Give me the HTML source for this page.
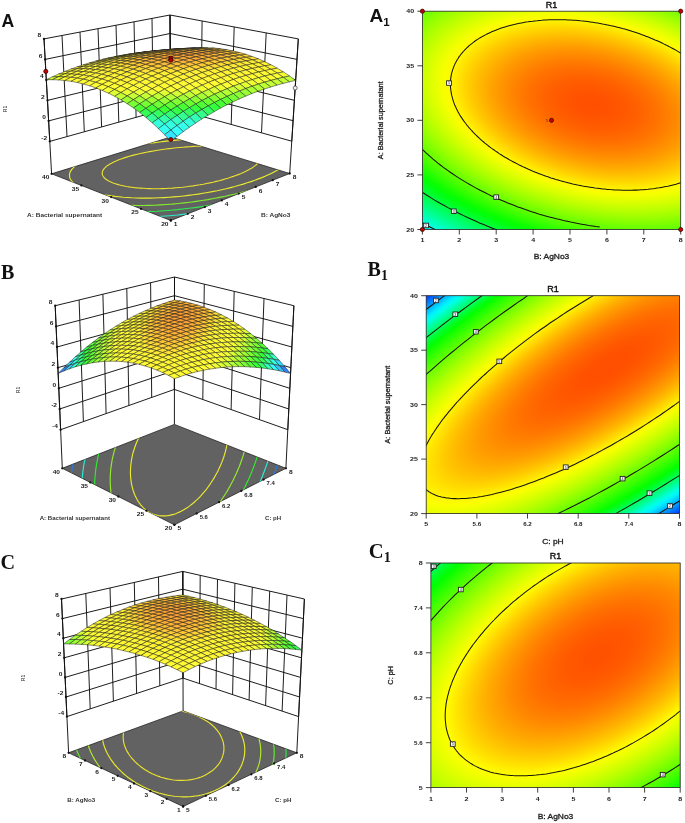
<!DOCTYPE html>
<html><head><meta charset="utf-8"><title>Response surface plots</title>
<style>html,body{margin:0;padding:0;background:#fff}svg{display:block}</style></head>
<body>
<svg width="685" height="823" viewBox="0 0 685 823">
<defs>
<radialGradient id="g1" gradientUnits="userSpaceOnUse" cx="0" cy="0" r="2.0713" gradientTransform="matrix(-150.7584 -33.0470 -18.6184 84.9363 592.58 104.96)"><stop offset="0.0000" stop-color="#ff5000"/><stop offset="0.0208" stop-color="#ff5000"/><stop offset="0.0417" stop-color="#ff5200"/><stop offset="0.0625" stop-color="#ff5300"/><stop offset="0.0833" stop-color="#ff5600"/><stop offset="0.1042" stop-color="#ff5900"/><stop offset="0.1250" stop-color="#ff5d00"/><stop offset="0.1458" stop-color="#ff6100"/><stop offset="0.1667" stop-color="#ff6700"/><stop offset="0.1875" stop-color="#ff6d00"/><stop offset="0.2083" stop-color="#ff7300"/><stop offset="0.2292" stop-color="#ff7b00"/><stop offset="0.2500" stop-color="#ff8300"/><stop offset="0.2708" stop-color="#ff8c00"/><stop offset="0.2917" stop-color="#ff9500"/><stop offset="0.3125" stop-color="#ff9f00"/><stop offset="0.3333" stop-color="#ffaa00"/><stop offset="0.3542" stop-color="#ffb600"/><stop offset="0.3750" stop-color="#ffc200"/><stop offset="0.3958" stop-color="#ffcf00"/><stop offset="0.4167" stop-color="#ffdd00"/><stop offset="0.4375" stop-color="#ffeb00"/><stop offset="0.4583" stop-color="#fffa00"/><stop offset="0.4792" stop-color="#f5ff00"/><stop offset="0.5000" stop-color="#e7ff00"/><stop offset="0.5208" stop-color="#d8ff00"/><stop offset="0.5417" stop-color="#c8ff00"/><stop offset="0.5625" stop-color="#b8ff00"/><stop offset="0.5833" stop-color="#a7ff00"/><stop offset="0.6042" stop-color="#96ff00"/><stop offset="0.6250" stop-color="#84ff00"/><stop offset="0.6458" stop-color="#71ff00"/><stop offset="0.6667" stop-color="#5eff00"/><stop offset="0.6875" stop-color="#4aff00"/><stop offset="0.7083" stop-color="#35ff00"/><stop offset="0.7292" stop-color="#20ff00"/><stop offset="0.7500" stop-color="#0aff00"/><stop offset="0.7708" stop-color="#00ff0c"/><stop offset="0.7917" stop-color="#00ff23"/><stop offset="0.8125" stop-color="#00ff3b"/><stop offset="0.8333" stop-color="#00ff53"/><stop offset="0.8542" stop-color="#00ff6c"/><stop offset="0.8750" stop-color="#00ff85"/><stop offset="0.8958" stop-color="#00ff9f"/><stop offset="0.9167" stop-color="#00ffba"/><stop offset="0.9375" stop-color="#00ffd5"/><stop offset="0.9583" stop-color="#00fff1"/><stop offset="0.9792" stop-color="#00edff"/><stop offset="1.0000" stop-color="#00c9ff"/></radialGradient>
<clipPath id="c1"><rect x="422.4" y="11.2" width="258.3" height="218.3"/></clipPath>
<radialGradient id="g2" gradientUnits="userSpaceOnUse" cx="0" cy="0" r="2.1250" gradientTransform="matrix(-208.9764 133.0150 41.7656 65.6169 607.12 367.69)"><stop offset="0.0000" stop-color="#ff4f00"/><stop offset="0.0208" stop-color="#ff4f00"/><stop offset="0.0417" stop-color="#ff5000"/><stop offset="0.0625" stop-color="#ff5200"/><stop offset="0.0833" stop-color="#ff5500"/><stop offset="0.1042" stop-color="#ff5900"/><stop offset="0.1250" stop-color="#ff5e00"/><stop offset="0.1458" stop-color="#ff6300"/><stop offset="0.1667" stop-color="#ff6900"/><stop offset="0.1875" stop-color="#ff7000"/><stop offset="0.2083" stop-color="#ff7800"/><stop offset="0.2292" stop-color="#ff8100"/><stop offset="0.2500" stop-color="#ff8b00"/><stop offset="0.2708" stop-color="#ff9500"/><stop offset="0.2917" stop-color="#ffa000"/><stop offset="0.3125" stop-color="#ffac00"/><stop offset="0.3333" stop-color="#ffb900"/><stop offset="0.3542" stop-color="#ffc700"/><stop offset="0.3750" stop-color="#ffd600"/><stop offset="0.3958" stop-color="#ffe500"/><stop offset="0.4167" stop-color="#fff500"/><stop offset="0.4375" stop-color="#faff00"/><stop offset="0.4583" stop-color="#ecff00"/><stop offset="0.4792" stop-color="#deff00"/><stop offset="0.5000" stop-color="#cfff00"/><stop offset="0.5208" stop-color="#c0ff00"/><stop offset="0.5417" stop-color="#b0ff00"/><stop offset="0.5625" stop-color="#a0ff00"/><stop offset="0.5833" stop-color="#8eff00"/><stop offset="0.6042" stop-color="#7dff00"/><stop offset="0.6250" stop-color="#6aff00"/><stop offset="0.6458" stop-color="#57ff00"/><stop offset="0.6667" stop-color="#43ff00"/><stop offset="0.6875" stop-color="#2fff00"/><stop offset="0.7083" stop-color="#1aff00"/><stop offset="0.7292" stop-color="#05ff00"/><stop offset="0.7500" stop-color="#00ff1e"/><stop offset="0.7708" stop-color="#00ff44"/><stop offset="0.7917" stop-color="#00ff6b"/><stop offset="0.8125" stop-color="#00ff94"/><stop offset="0.8333" stop-color="#00ffbe"/><stop offset="0.8542" stop-color="#00ffe8"/><stop offset="0.8750" stop-color="#00efff"/><stop offset="0.8958" stop-color="#00cbff"/><stop offset="0.9167" stop-color="#00a7ff"/><stop offset="0.9375" stop-color="#0082ff"/><stop offset="0.9583" stop-color="#005cff"/><stop offset="0.9792" stop-color="#0035ff"/><stop offset="1.0000" stop-color="#000eff"/></radialGradient>
<clipPath id="c2"><rect x="426.2" y="295.7" width="253.3" height="217.9"/></clipPath>
<radialGradient id="g3" gradientUnits="userSpaceOnUse" cx="0" cy="0" r="1.7951" gradientTransform="matrix(-154.3035 97.5132 53.0249 83.9058 598.73 654.76)"><stop offset="0.0000" stop-color="#ff5100"/><stop offset="0.0208" stop-color="#ff5200"/><stop offset="0.0417" stop-color="#ff5200"/><stop offset="0.0625" stop-color="#ff5400"/><stop offset="0.0833" stop-color="#ff5600"/><stop offset="0.1042" stop-color="#ff5800"/><stop offset="0.1250" stop-color="#ff5b00"/><stop offset="0.1458" stop-color="#ff5f00"/><stop offset="0.1667" stop-color="#ff6300"/><stop offset="0.1875" stop-color="#ff6800"/><stop offset="0.2083" stop-color="#ff6d00"/><stop offset="0.2292" stop-color="#ff7200"/><stop offset="0.2500" stop-color="#ff7900"/><stop offset="0.2708" stop-color="#ff8000"/><stop offset="0.2917" stop-color="#ff8700"/><stop offset="0.3125" stop-color="#ff8f00"/><stop offset="0.3333" stop-color="#ff9800"/><stop offset="0.3542" stop-color="#ffa100"/><stop offset="0.3750" stop-color="#ffaa00"/><stop offset="0.3958" stop-color="#ffb400"/><stop offset="0.4167" stop-color="#ffbf00"/><stop offset="0.4375" stop-color="#ffca00"/><stop offset="0.4583" stop-color="#ffd600"/><stop offset="0.4792" stop-color="#ffe200"/><stop offset="0.5000" stop-color="#ffef00"/><stop offset="0.5208" stop-color="#fffd00"/><stop offset="0.5417" stop-color="#f5ff00"/><stop offset="0.5625" stop-color="#eaff00"/><stop offset="0.5833" stop-color="#ddff00"/><stop offset="0.6042" stop-color="#d1ff00"/><stop offset="0.6250" stop-color="#c4ff00"/><stop offset="0.6458" stop-color="#b6ff00"/><stop offset="0.6667" stop-color="#a8ff00"/><stop offset="0.6875" stop-color="#99ff00"/><stop offset="0.7083" stop-color="#8aff00"/><stop offset="0.7292" stop-color="#7bff00"/><stop offset="0.7500" stop-color="#6bff00"/><stop offset="0.7708" stop-color="#5bff00"/><stop offset="0.7917" stop-color="#4aff00"/><stop offset="0.8125" stop-color="#39ff00"/><stop offset="0.8333" stop-color="#27ff00"/><stop offset="0.8542" stop-color="#15ff00"/><stop offset="0.8750" stop-color="#03ff00"/><stop offset="0.8958" stop-color="#00ff15"/><stop offset="0.9167" stop-color="#00ff2f"/><stop offset="0.9375" stop-color="#00ff4a"/><stop offset="0.9583" stop-color="#00ff65"/><stop offset="0.9792" stop-color="#00ff80"/><stop offset="1.0000" stop-color="#00ff9d"/></radialGradient>
<clipPath id="c3"><rect x="430.9" y="563" width="249.3" height="224.6"/></clipPath>
<clipPath id="f1"><polygon points="51.6 173.8 170.8 220.5 289.7 173.5 170.8 137"/></clipPath>
<clipPath id="f2"><polygon points="62.3 468.3 174.4 524.8 285.9 468.3 174.4 424.4"/></clipPath>
<clipPath id="f3"><polygon points="68.6 752.8 183.1 806.5 296.8 752.8 183.1 710.9"/></clipPath>
</defs>
<rect width="685" height="823" fill="#fff"/>
<rect x="422.4" y="11.2" width="258.3" height="218.3" fill="url(#g1)"/>
<g clip-path="url(#c1)" fill="none" stroke="#15150c" stroke-width="1.05">
<path d="M396.2 207.2L400.2 209.8L404.2 212.3L408.3 214.8L412.4 217.2L416.6 219.7L420.9 222.1L425.2 224.4L429.5 226.7L433.9 229L438.4 231.3L442.9 233.5L447.4 235.6L452 237.7L456.6 239.8L461.3 241.9L466 243.9L470.8 245.8L475.5 247.8L480.4 249.6L485.2 251.5L490.1 253.2L495 255L500 256.7L504.9 258.3"/>
<path d="M395.1 172.1L398.1 174.5L401 176.9L404.1 179.3L407.2 181.6L410.3 184L413.5 186.3L416.8 188.5L420.1 190.8L423.4 193L426.9 195.2L430.3 197.4L433.8 199.6L437.4 201.7L441 203.8L444.7 205.8L448.4 207.9L452.1 209.8L455.9 211.8L459.8 213.7L463.6 215.6L467.5 217.5L471.5 219.3L475.5 221.1L479.5 222.9L483.6 224.6L487.6 226.3L491.8 228L495.9 229.6L500.1 231.2L504.3 232.7L508.5 234.2L512.8 235.7L517.1 237.1L521.4 238.5L525.7 239.8L530.1 241.1L534.5 242.3L538.8 243.6L543.3 244.7L547.7 245.9L552.1 246.9L556.6 248L561 249L565.5 249.9L570 250.9L574.4 251.7L578.9 252.6L583.4 253.3L587.9 254.1L592.4 254.7L596.9 255.4L601.4 256L605.9 256.5L610.4 257L614.9 257.5L619.3 257.9L623.8 258.3L628.3 258.6L632.7 258.9L637.1 259.1L641.6 259.3L646 259.4L650.4 259.5M659.1 259.5L663.4 259.4L667.7 259.3L672 259.2L676.3 259L680.5 258.7L684.7 258.4L688.9 258.1L693.1 257.7L697.2 257.3L701.3 256.8L705.3 256.3L709.4 255.7M709.7 -11.2L705.7 -13L701.6 -14.7L697.5 -16.4L693.4 -18.1"/>
<path d="M392.6 108.7L393.6 110.9L394.7 113.1L395.8 115.3L397 117.4L398.3 119.6L399.6 121.8L401 123.9L402.5 126.1L404 128.2L405.5 130.4L407.1 132.5L408.8 134.6L410.6 136.7L412.3 138.8L414.2 140.9L416.1 143L418 145.1L420 147.1L422.1 149.2L424.2 151.2L426.3 153.2L428.6 155.2L430.8 157.2L433.1 159.2L435.5 161.1L437.9 163.1L440.3 165L442.8 166.9L445.4 168.8L448 170.6L450.6 172.5L453.3 174.3L456 176.1L458.7 177.9L461.5 179.6L464.4 181.4L467.3 183.1L470.2 184.8L473.1 186.4L476.1 188.1L479.2 189.7L482.2 191.3L485.3 192.8L488.4 194.4L491.6 195.9L494.8 197.3L498 198.8L501.3 200.2L504.5 201.6L507.8 203L511.2 204.3L514.5 205.6L517.9 206.9L521.3 208.1L524.7 209.3L528.2 210.5L531.6 211.7L535.1 212.8L538.6 213.9L542.1 214.9L545.6 215.9L549.2 216.9L552.7 217.8L556.3 218.8L559.9 219.6L563.5 220.5L567.1 221.3L570.7 222.1L574.3 222.8L577.9 223.5L581.6 224.2L585.2 224.8L588.8 225.4L592.4 225.9L596.1 226.5L599.7 226.9M709 21.9L706 20.2L703 18.7L699.9 17.1L696.7 15.6L693.6 14.1L690.4 12.6L687.2 11.1L683.9 9.7L680.6 8.3L677.3 6.9L674 5.6L670.7 4.3L667.3 3L663.9 1.8L660.5 0.6L657 -0.6L653.6 -1.7L650.1 -2.9L646.6 -3.9L643.1 -5L639.5 -6L636 -7L632.4 -7.9L628.9 -8.8L625.3 -9.7L621.7 -10.6L618.1 -11.4L614.5 -12.1L610.9 -12.9L607.2 -13.6L603.6 -14.2L600 -14.9L596.4 -15.5L592.7 -16L589.1 -16.5L585.5 -17L581.8 -17.5L578.2 -17.9L574.6 -18.2L571 -18.6M514.8 -18.7L511.4 -18.4L508.1 -18.1L504.8 -17.7L501.5 -17.3L498.3 -16.8L495 -16.3L491.8 -15.8L488.7 -15.2L485.6 -14.6L482.5 -13.9L479.4 -13.2L476.4 -12.5L473.4 -11.8L470.4 -11L467.5 -10.2L464.6 -9.3L461.8 -8.4L459 -7.5L456.2 -6.5L453.5 -5.5L450.8 -4.5L448.2 -3.4L445.6 -2.3L443 -1.2L440.5 0L438.1 1.2L435.7 2.4L433.3 3.6L431 4.9L428.7 6.2L426.5 7.6L424.4 9L422.2 10.4L420.2 11.8L418.2 13.3L416.2 14.8L414.3 16.3L412.5 17.8L410.7 19.4L409 21L407.3 22.6L405.7 24.3L404.1 26L402.6 27.7L401.1 29.4L399.7 31.1L398.4 32.9L397.1 34.7L395.9 36.5L394.8 38.3L393.7 40.2L392.6 42.1"/>
<path d="M451.5 74L451.2 75.4L451 76.8L450.8 78.2L450.6 79.6L450.5 81.1L450.5 82.5L450.4 83.9L450.4 85.4L450.5 86.8L450.6 88.3L450.8 89.8L451 91.2L451.2 92.7L451.5 94.2L451.8 95.7L452.2 97.1L452.6 98.6L453 100.1L453.5 101.6L454 103.1L454.6 104.6L455.2 106.1L455.9 107.5L456.6 109L457.4 110.5L458.1 112L459 113.5L459.8 115L460.7 116.4L461.7 117.9L462.7 119.4L463.7 120.9L464.8 122.3L465.9 123.8L467 125.2L468.2 126.7L469.4 128.1L470.7 129.5L472 130.9L473.3 132.4L474.7 133.8L476.1 135.2L477.5 136.5L479 137.9L480.5 139.3L482 140.7L483.6 142L485.2 143.3L486.9 144.7L488.5 146L490.3 147.3L492 148.6L493.8 149.8L495.6 151.1L497.4 152.3L499.2 153.6L501.1 154.8L503 156L505 157.2L507 158.3L508.9 159.5L511 160.6L513 161.7L515.1 162.8L517.2 163.9L519.3 165L521.4 166L523.6 167.1L525.8 168.1L528 169.1L530.2 170L532.4 171L534.7 171.9L536.9 172.8L539.2 173.7L541.5 174.6L543.9 175.4L546.2 176.3L548.6 177.1L550.9 177.9L553.3 178.6L555.7 179.4L558.1 180.1L560.5 180.8L562.9 181.4L565.4 182.1L567.8 182.7L570.2 183.3L572.7 183.9L575.2 184.4L577.6 185L580.1 185.5L582.6 186L585 186.4L587.5 186.8L590 187.2L592.5 187.6L595 188L597.4 188.3L599.9 188.6L602.4 188.9L604.9 189.1L607.3 189.4L609.8 189.6L612.3 189.7L614.7 189.9L617.2 190L619.6 190.1L622 190.2L624.5 190.2L626.9 190.2L629.3 190.2L631.7 190.2L634.1 190.1L636.4 190.1L638.8 190L641.1 189.8L643.4 189.7L645.7 189.5L648 189.3L650.3 189L652.6 188.8L654.8 188.5L657 188.1L659.2 187.8L661.4 187.4L663.6 187L665.7 186.6L667.8 186.2L669.9 185.7L672 185.2L674 184.7L676.1 184.2L678.1 183.6L680 183L682 182.4L683.9 181.8L685.8 181.1L687.6 180.4L689.5 179.7L691.3 179L693 178.3L694.8 177.5L696.5 176.7L698.2 175.9L699.8 175L701.4 174.2L703 173.3L704.5 172.4L706.1 171.5L707.5 170.5L709 169.6L710.4 168.6M710.5 76.1L709.1 74.8L707.7 73.4L706.2 72L704.7 70.6L703.1 69.3L701.5 67.9L699.9 66.6L698.3 65.3L696.6 63.9L694.9 62.6L693.2 61.4L691.4 60.1L689.6 58.8L687.8 57.6L685.9 56.4L684 55.1L682.1 53.9L680.2 52.8L678.2 51.6L676.2 50.4L674.2 49.3L672.2 48.2L670.1 47.1L668 46L665.9 44.9L663.7 43.9L661.6 42.8L659.4 41.8L657.2 40.8L655 39.9L652.8 38.9L650.5 38L648.2 37.1L645.9 36.2L643.6 35.3L641.3 34.5L639 33.6L636.6 32.8L634.2 32L631.9 31.3L629.5 30.5L627.1 29.8L624.7 29.1L622.2 28.5L619.8 27.8L617.4 27.2L614.9 26.6L612.5 26L610 25.5L607.5 24.9L605.1 24.4L602.6 24L600.1 23.5L597.6 23.1L595.2 22.7L592.7 22.3L590.2 21.9L587.7 21.6L585.2 21.3L582.8 21L580.3 20.8L577.8 20.5L575.4 20.3L572.9 20.2L570.4 20L568 19.9L565.6 19.8L563.1 19.7L560.7 19.7L558.3 19.7L555.9 19.7L553.5 19.7L551.1 19.8L548.8 19.8L546.4 20L544.1 20.1L541.7 20.3L539.4 20.4L537.1 20.7L534.9 20.9L532.6 21.2L530.4 21.4L528.1 21.8L525.9 22.1L523.8 22.5L521.6 22.9L519.5 23.3L517.3 23.7L515.2 24.2L513.2 24.7L511.1 25.2L509.1 25.7L507.1 26.3L505.1 26.9L503.2 27.5L501.3 28.1L499.4 28.8L497.5 29.5L495.7 30.2L493.9 30.9L492.1 31.6L490.4 32.4L488.7 33.2L487 34L485.4 34.9L483.8 35.7L482.2 36.6L480.6 37.5L479.1 38.4L477.6 39.4L476.2 40.3L474.8 41.3L473.4 42.3L472.1 43.3L470.8 44.4L469.5 45.4L468.3 46.5L467.1 47.6L466 48.7L464.9 49.8L463.8 51L462.8 52.1L461.8 53.3L460.8 54.5L459.9 55.7L459 56.9L458.2 58.2L457.4 59.4L456.7 60.7L456 62L455.3 63.3L454.7 64.6L454.1 65.9L453.6 67.2L453.1 68.6L452.6 69.9L452.2 71.3L451.8 72.6L451.5 74"/>
</g>
<rect x="422.4" y="11.2" width="258.3" height="218.3" fill="none" stroke="#222" stroke-width="0.8"/>
<path d="M422.4 229.5v5M459.3 229.5v5M496.2 229.5v5M533.1 229.5v5M570 229.5v5M606.9 229.5v5M643.8 229.5v5M680.7 229.5v5M422.4 229.5h-5M422.4 174.9h-5M422.4 120.3h-5M422.4 65.8h-5M422.4 11.2h-5" stroke="#111" stroke-width="0.8" fill="none"/>
<g font-family="Liberation Sans, sans-serif">
<text transform="translate(422.4 242.2) scale(1.200 1)" text-anchor="middle" font-size="5.9" font-weight="bold" fill="#222">1</text>
<text transform="translate(459.3 242.2) scale(1.200 1)" text-anchor="middle" font-size="5.9" font-weight="bold" fill="#222">2</text>
<text transform="translate(496.2 242.2) scale(1.200 1)" text-anchor="middle" font-size="5.9" font-weight="bold" fill="#222">3</text>
<text transform="translate(533.1 242.2) scale(1.200 1)" text-anchor="middle" font-size="5.9" font-weight="bold" fill="#222">4</text>
<text transform="translate(570 242.2) scale(1.200 1)" text-anchor="middle" font-size="5.9" font-weight="bold" fill="#222">5</text>
<text transform="translate(606.9 242.2) scale(1.200 1)" text-anchor="middle" font-size="5.9" font-weight="bold" fill="#222">6</text>
<text transform="translate(643.8 242.2) scale(1.200 1)" text-anchor="middle" font-size="5.9" font-weight="bold" fill="#222">7</text>
<text transform="translate(680.7 242.2) scale(1.200 1)" text-anchor="middle" font-size="5.9" font-weight="bold" fill="#222">8</text>
<text transform="translate(414.1 231.6) scale(1.200 1)" text-anchor="end" font-size="5.9" font-weight="bold" fill="#222">20</text>
<text transform="translate(414.1 177) scale(1.200 1)" text-anchor="end" font-size="5.9" font-weight="bold" fill="#222">25</text>
<text transform="translate(414.1 122.4) scale(1.200 1)" text-anchor="end" font-size="5.9" font-weight="bold" fill="#222">30</text>
<text transform="translate(414.1 67.9) scale(1.200 1)" text-anchor="end" font-size="5.9" font-weight="bold" fill="#222">35</text>
<text transform="translate(414.1 13.3) scale(1.200 1)" text-anchor="end" font-size="5.9" font-weight="bold" fill="#222">40</text>
<text transform="translate(551.5 7.7) scale(1.050 1)" text-anchor="middle" font-size="8.6" fill="#111" stroke="#111" stroke-width="0.4">R1</text>
<text transform="translate(551.5 259.2) scale(1.140 1)" text-anchor="middle" font-size="7.4" fill="#222" stroke="#222" stroke-width="0.3">B: AgNo3</text>
<text transform="translate(383.2 120.3) rotate(-90) scale(1.000 1)" text-anchor="middle" font-size="7.3" fill="#222" stroke="#222" stroke-width="0.3">A: Bacterial supernatant</text>
</g>
<rect x="423.7" y="223.2" width="4.8" height="4.5" fill="#fff" stroke="#222" stroke-width="0.9"/>
<text x="426.1" y="226.8" text-anchor="middle" font-family="Liberation Sans, sans-serif" font-size="3.7" fill="#223">2</text>
<rect x="451.4" y="209" width="4.8" height="4.5" fill="#fff" stroke="#222" stroke-width="0.9"/>
<text x="453.8" y="212.6" text-anchor="middle" font-family="Liberation Sans, sans-serif" font-size="3.7" fill="#223">3</text>
<rect x="493.8" y="194.9" width="4.8" height="4.5" fill="#fff" stroke="#222" stroke-width="0.9"/>
<text x="496.2" y="198.5" text-anchor="middle" font-family="Liberation Sans, sans-serif" font-size="3.7" fill="#223">4</text>
<rect x="446.6" y="80.8" width="4.8" height="4.5" fill="#fff" stroke="#222" stroke-width="0.9"/>
<text x="449" y="84.4" text-anchor="middle" font-family="Liberation Sans, sans-serif" font-size="3.7" fill="#223">5</text>
<text x="547.9" y="121.5" text-anchor="end" font-family="Liberation Sans, sans-serif" font-size="3.4" fill="#222">5</text>
<circle cx="422.4" cy="11.2" r="2.1" fill="#c40000" stroke="#300" stroke-width="0.7"/>
<circle cx="680.7" cy="11.2" r="2.1" fill="#c40000" stroke="#300" stroke-width="0.7"/>
<circle cx="422.4" cy="229.5" r="2.1" fill="#c40000" stroke="#300" stroke-width="0.7"/>
<circle cx="680.7" cy="229.5" r="2.1" fill="#c40000" stroke="#300" stroke-width="0.7"/>
<circle cx="551.5" cy="120.3" r="2.1" fill="#c40000" stroke="#300" stroke-width="0.7"/>
<rect x="426.2" y="295.7" width="253.3" height="217.9" fill="url(#g2)"/>
<g clip-path="url(#c2)" fill="none" stroke="#15150c" stroke-width="1.05">
<path d="M609.3 542.3L616.5 538.2L623.8 534.1L631 530L638.2 525.8L645.4 521.6L652.6 517.3L659.8 513L666.9 508.6L674.1 504.2L681.2 499.8L688.3 495.3L695.4 490.7L702.5 486.2L709.5 481.6M483.9 267.8L477 272.6L470.2 277.3L463.4 282.1L456.6 287L449.9 291.8L443.2 296.7L436.6 301.6L430 306.5L423.5 311.4L417.1 316.3L410.7 321.3L404.3 326.3L398.1 331.3"/>
<path d="M559.5 543.3L565.7 540.3L571.8 537.2L578 534L584.2 530.8L590.4 527.5L596.6 524.2L602.8 520.8L609 517.4L615.2 513.9L621.4 510.4L627.6 506.9L633.8 503.3L640 499.7L646.1 496L652.3 492.3L658.4 488.6L664.6 484.8L670.7 480.9L676.8 477.1L682.8 473.2L688.9 469.3L694.9 465.3L700.9 461.4L706.9 457.3M525.4 266.1L519.3 270L513.3 274L507.4 278L501.4 282.1L495.5 286.1L489.7 290.2L483.8 294.3L478 298.5L472.3 302.6L466.6 306.8L460.9 311L455.3 315.2L449.7 319.4L444.1 323.7L438.7 327.9L433.2 332.2L427.8 336.4L422.5 340.7L417.2 345L412 349.3L406.9 353.6L401.8 357.9L396.8 362.3"/>
<path d="M488.3 542.8L492.8 541.2L497.4 539.5L502 537.8L506.6 536L511.3 534.1L516 532.2L520.7 530.3L525.4 528.3L530.2 526.3L535 524.2L539.8 522L544.6 519.8L549.5 517.6L554.3 515.3L559.2 513L564.1 510.6L569 508.2L574 505.8L578.9 503.3L583.8 500.8L588.8 498.2L593.7 495.6L598.7 492.9L603.7 490.2L608.6 487.5L613.6 484.7L618.5 481.9L623.5 479.1L628.4 476.2L633.4 473.3L638.3 470.4L643.3 467.4L648.2 464.4L653.1 461.4L658 458.3L662.8 455.2L667.7 452.1L672.5 449L677.4 445.8L682.2 442.6L686.9 439.4L691.7 436.2L696.4 433L701.1 429.7L705.8 426.4M571 268L566.1 271L561.2 274L556.3 277.1L551.4 280.1L546.5 283.3L541.7 286.4L536.9 289.6L532.1 292.7L527.3 295.9L522.6 299.2L517.8 302.4L513.1 305.7L508.5 309L503.8 312.3L499.2 315.6L494.6 319L490.1 322.3L485.6 325.7L481.1 329.1L476.7 332.5L472.3 335.9L468 339.3L463.7 342.7L459.4 346.1L455.2 349.6L451 353L446.9 356.4L442.8 359.9L438.8 363.3L434.8 366.8L430.9 370.3L427 373.7L423.2 377.2L419.5 380.6L415.8 384L412.1 387.5L408.5 390.9L405 394.3L401.6 397.8L398.2 401.2"/>
<path d="M422.6 485.2L423.2 486.2L424 487.1L424.7 488L425.6 488.9L426.5 489.8L427.4 490.6L428.4 491.3L429.5 492.1L430.6 492.8L431.8 493.4L433 494.1L434.3 494.6L435.6 495.2L437 495.7L438.4 496.2L439.9 496.6L441.4 497L443 497.3L444.6 497.6L446.3 497.9L448 498.1L449.8 498.3L451.6 498.5L453.5 498.6L455.4 498.6L457.4 498.7L459.4 498.7L461.5 498.6L463.6 498.5L465.7 498.4L467.9 498.2L470.2 498L472.4 497.8L474.7 497.5L477.1 497.2L479.5 496.8L481.9 496.4L484.4 495.9L486.9 495.5L489.5 494.9L492 494.4L494.6 493.8L497.3 493.1L500 492.4L502.7 491.7L505.4 491L508.2 490.2L511 489.4L513.9 488.5L516.7 487.6L519.6 486.7L522.6 485.7L525.5 484.7L528.5 483.6L531.5 482.5L534.5 481.4L537.5 480.3L540.6 479.1L543.7 477.9L546.8 476.6L549.9 475.3L553 474L556.2 472.7L559.4 471.3L562.6 469.9L565.8 468.4L569 466.9L572.2 465.4L575.4 463.9L578.7 462.3L581.9 460.7L585.2 459.1L588.4 457.5L591.7 455.8L595 454.1L598.3 452.3L601.5 450.6L604.8 448.8L608.1 447L611.4 445.2L614.7 443.3L618 441.4L621.2 439.5L624.5 437.6L627.8 435.7L631 433.7L634.3 431.7L637.5 429.7L640.8 427.7L644 425.6L647.2 423.6L650.4 421.5L653.6 419.4L656.8 417.3L660 415.2L663.1 413L666.2 410.9L669.3 408.7L672.4 406.5L675.5 404.4L678.5 402.2L681.6 399.9L684.6 397.7L687.6 395.5L690.5 393.3L693.4 391L696.4 388.8L699.2 386.5L702.1 384.2L704.9 382L707.7 379.7M648.5 267L645.3 268.4L642.1 270L638.8 271.5L635.6 273.1L632.3 274.7L629.1 276.3L625.8 277.9L622.5 279.6L619.3 281.3L616 283L612.7 284.8L609.4 286.6L606.1 288.4L602.8 290.2L599.6 292.1L596.3 294L593 295.9L589.7 297.8L586.5 299.7L583.2 301.7L579.9 303.7L576.7 305.7L573.5 307.7L570.2 309.7L567 311.8L563.8 313.9L560.6 316L557.5 318.1L554.3 320.2L551.1 322.3L548 324.5L544.9 326.7L541.8 328.8L538.7 331L535.7 333.2L532.7 335.4L529.7 337.7L526.7 339.9L523.7 342.1L520.8 344.4L517.9 346.6L515 348.9L512.2 351.1L509.3 353.4L506.5 355.7L503.8 358L501.1 360.2L498.4 362.5L495.7 364.8L493.1 367.1L490.5 369.4L487.9 371.7L485.4 374L482.9 376.2L480.4 378.5L478 380.8L475.7 383.1L473.3 385.3L471 387.6L468.8 389.9L466.6 392.1L464.4 394.3L462.3 396.6L460.2 398.8L458.2 401L456.2 403.2L454.3 405.4L452.4 407.6L450.5 409.8L448.7 411.9L447 414.1L445.3 416.2L443.6 418.3L442 420.4L440.5 422.5L439 424.6L437.5 426.6L436.1 428.7L434.8 430.7L433.5 432.7L432.2 434.6L431.1 436.6L429.9 438.5L428.8 440.4L427.8 442.3L426.8 444.2L425.9 446L425.1 447.9L424.3 449.7L423.5 451.4L422.8 453.2L422.2 454.9L421.6 456.6L421.1 458.3L420.6 459.9L420.2 461.5L419.8 463.1L419.5 464.6L419.3 466.2L419.1 467.7L419 469.1L418.9 470.5L418.9 471.9L419 473.3L419.1 474.6L419.2 476L419.4 477.2L419.7 478.5L420.1 479.7L420.4 480.8L420.9 482L421.4 483.1L421.9 484.1L422.6 485.2"/>
</g>
<rect x="426.2" y="295.7" width="253.3" height="217.9" fill="none" stroke="#222" stroke-width="0.8"/>
<path d="M426.2 513.6v5M476.9 513.6v5M527.5 513.6v5M578.2 513.6v5M628.8 513.6v5M679.5 513.6v5M426.2 513.6h-5M426.2 459.1h-5M426.2 404.6h-5M426.2 350.2h-5M426.2 295.7h-5" stroke="#111" stroke-width="0.8" fill="none"/>
<g font-family="Liberation Sans, sans-serif">
<text transform="translate(426.2 526.3) scale(1.200 1)" text-anchor="middle" font-size="5.9" font-weight="bold" fill="#222">5</text>
<text transform="translate(476.9 526.3) scale(1.050 1)" text-anchor="middle" font-size="5.9" font-weight="bold" fill="#222">5.6</text>
<text transform="translate(527.5 526.3) scale(1.050 1)" text-anchor="middle" font-size="5.9" font-weight="bold" fill="#222">6.2</text>
<text transform="translate(578.2 526.3) scale(1.050 1)" text-anchor="middle" font-size="5.9" font-weight="bold" fill="#222">6.8</text>
<text transform="translate(628.8 526.3) scale(1.050 1)" text-anchor="middle" font-size="5.9" font-weight="bold" fill="#222">7.4</text>
<text transform="translate(679.5 526.3) scale(1.200 1)" text-anchor="middle" font-size="5.9" font-weight="bold" fill="#222">8</text>
<text transform="translate(417.9 515.7) scale(1.200 1)" text-anchor="end" font-size="5.9" font-weight="bold" fill="#222">20</text>
<text transform="translate(417.9 461.2) scale(1.200 1)" text-anchor="end" font-size="5.9" font-weight="bold" fill="#222">25</text>
<text transform="translate(417.9 406.8) scale(1.200 1)" text-anchor="end" font-size="5.9" font-weight="bold" fill="#222">30</text>
<text transform="translate(417.9 352.3) scale(1.200 1)" text-anchor="end" font-size="5.9" font-weight="bold" fill="#222">35</text>
<text transform="translate(417.9 297.8) scale(1.200 1)" text-anchor="end" font-size="5.9" font-weight="bold" fill="#222">40</text>
<text transform="translate(552.9 291.5) scale(1.050 1)" text-anchor="middle" font-size="8.6" fill="#111" stroke="#111" stroke-width="0.4">R1</text>
<text transform="translate(552.9 543.5) scale(1.140 1)" text-anchor="middle" font-size="7.4" fill="#222" stroke="#222" stroke-width="0.3">C: pH</text>
<text transform="translate(389.5 404.6) rotate(-90) scale(1.000 1)" text-anchor="middle" font-size="7.3" fill="#222" stroke="#222" stroke-width="0.3">A: Bacterial supernatant</text>
</g>
<rect x="433.5" y="298.2" width="4.8" height="4.5" fill="#fff" stroke="#222" stroke-width="0.9"/>
<text x="435.9" y="301.8" text-anchor="middle" font-family="Liberation Sans, sans-serif" font-size="3.7" fill="#223">2</text>
<rect x="452.9" y="312" width="4.8" height="4.5" fill="#fff" stroke="#222" stroke-width="0.9"/>
<text x="455.3" y="315.6" text-anchor="middle" font-family="Liberation Sans, sans-serif" font-size="3.7" fill="#223">3</text>
<rect x="473.4" y="329.5" width="4.8" height="4.5" fill="#fff" stroke="#222" stroke-width="0.9"/>
<text x="475.8" y="333.1" text-anchor="middle" font-family="Liberation Sans, sans-serif" font-size="3.7" fill="#223">4</text>
<rect x="496.9" y="359.1" width="4.8" height="4.5" fill="#fff" stroke="#222" stroke-width="0.9"/>
<text x="499.3" y="362.7" text-anchor="middle" font-family="Liberation Sans, sans-serif" font-size="3.7" fill="#223">5</text>
<rect x="563.3" y="464.9" width="4.8" height="4.5" fill="#fff" stroke="#222" stroke-width="0.9"/>
<text x="565.7" y="468.5" text-anchor="middle" font-family="Liberation Sans, sans-serif" font-size="3.7" fill="#223">5</text>
<rect x="620.2" y="476.4" width="4.8" height="4.5" fill="#fff" stroke="#222" stroke-width="0.9"/>
<text x="622.6" y="480" text-anchor="middle" font-family="Liberation Sans, sans-serif" font-size="3.7" fill="#223">4</text>
<rect x="647.1" y="490.9" width="4.8" height="4.5" fill="#fff" stroke="#222" stroke-width="0.9"/>
<text x="649.5" y="494.5" text-anchor="middle" font-family="Liberation Sans, sans-serif" font-size="3.7" fill="#223">3</text>
<rect x="667.6" y="503.7" width="4.8" height="4.5" fill="#fff" stroke="#222" stroke-width="0.9"/>
<text x="670" y="507.3" text-anchor="middle" font-family="Liberation Sans, sans-serif" font-size="3.7" fill="#223">2</text>
<rect x="430.9" y="563" width="249.3" height="224.6" fill="url(#g3)"/>
<g clip-path="url(#c3)" fill="none" stroke="#15150c" stroke-width="1.05">
<path d="M708.5 816.8M428.5 536.8L423.7 540.8L419 544.8L414.4 548.8L409.8 552.8L405.3 556.9"/>
<path d="M656.2 816.4L660.9 813.8L665.6 811.2L670.3 808.5L675 805.8L679.6 803L684.2 800.2L688.8 797.3L693.4 794.4L697.9 791.4L702.4 788.4L706.9 785.4M477.4 533.5L473.1 536.7L468.8 539.9L464.5 543.2L460.3 546.5L456.1 549.8L452 553.1L447.9 556.5L443.9 560L439.9 563.4L436 566.9L432.1 570.4L428.2 573.9L424.4 577.5L420.7 581.1L417 584.7L413.4 588.3L409.8 591.9L406.3 595.6L402.9 599.3"/>
<path d="M402.7 806.6L404.6 808.2L406.6 809.7L408.7 811.1L410.8 812.6L412.9 813.9L415.1 815.2L417.4 816.5M571.3 817L575.2 815.8L579.1 814.5L583 813.1L586.9 811.7L590.8 810.3L594.7 808.8L598.6 807.3L602.5 805.7L606.4 804.1L610.3 802.4L614.2 800.7L618.1 798.9L622 797.1L625.9 795.3L629.8 793.4L633.6 791.5L637.5 789.5L641.3 787.5L645.2 785.4L649 783.3L652.8 781.2L656.6 779L660.4 776.8L664.1 774.6L667.8 772.3L671.5 770L675.2 767.6L678.9 765.2L682.5 762.8L686.1 760.4L689.7 757.9L693.3 755.3L696.8 752.8L700.3 750.2L703.8 747.6L707.2 745M533.4 534.9L529.6 537.2L525.9 539.5L522.2 541.9L518.6 544.3L514.9 546.7L511.3 549.2L507.7 551.7L504.2 554.2L500.6 556.7L497.1 559.3L493.7 561.9L490.2 564.5L486.8 567.2L483.5 569.9L480.1 572.6L476.8 575.4L473.6 578.1L470.3 580.9L467.2 583.7L464 586.6L460.9 589.4L457.8 592.3L454.8 595.2L451.8 598.1L448.9 601L446 604L443.2 606.9L440.4 609.9L437.7 612.9L435 615.9L432.3 618.9L429.7 621.9L427.2 625L424.7 628L422.3 631.1L419.9 634.1L417.6 637.2L415.3 640.3L413.1 643.3L410.9 646.4L408.8 649.5L406.8 652.6L404.8 655.7L402.8 658.7L401 661.8"/>
<path d="M453.5 746.5L454.4 747.9L455.4 749.2L456.3 750.5L457.4 751.8L458.4 753.1L459.5 754.3L460.7 755.5L461.9 756.6L463.1 757.7L464.4 758.8L465.7 759.9L467.1 760.9L468.5 761.9L469.9 762.9L471.4 763.8L472.9 764.7L474.5 765.6L476 766.4L477.7 767.2L479.3 768L481 768.7L482.8 769.4L484.6 770.1L486.4 770.7L488.2 771.3L490.1 771.9L492 772.4L493.9 772.9L495.9 773.3L497.9 773.7L500 774.1L502 774.4L504.1 774.7L506.3 775L508.4 775.2L510.6 775.4L512.8 775.6L515 775.7L517.3 775.8L519.6 775.8L521.9 775.8L524.2 775.8L526.6 775.7L528.9 775.6L531.3 775.5L533.8 775.3L536.2 775.1L538.7 774.8L541.1 774.6L543.6 774.2L546.1 773.9L548.7 773.5L551.2 773L553.8 772.6L556.3 772.1L558.9 771.5L561.5 771L564.1 770.4L566.7 769.7L569.3 769L572 768.3L574.6 767.6L577.3 766.8L579.9 766L582.6 765.1L585.3 764.2L587.9 763.3L590.6 762.3L593.3 761.4L596 760.3L598.6 759.3L601.3 758.2L604 757.1L606.7 756L609.3 754.8L612 753.6L614.7 752.3L617.4 751.1L620 749.8L622.7 748.5L625.3 747.1L627.9 745.7L630.6 744.3L633.2 742.9L635.8 741.4L638.4 739.9L641 738.4L643.5 736.9L646.1 735.3L648.6 733.7L651.2 732.1L653.7 730.5L656.2 728.8L658.6 727.1L661.1 725.4L663.5 723.7L666 721.9L668.4 720.2L670.7 718.4L673.1 716.6L675.4 714.8L677.7 712.9L680 711.1L682.3 709.2L684.5 707.3L686.7 705.4L688.9 703.4L691.1 701.5L693.2 699.5L695.3 697.6L697.4 695.6L699.4 693.6L701.4 691.6L703.4 689.6L705.3 687.5L707.2 685.5L709.1 683.5M709.3 538.2L707.4 537.7L705.5 537.1L703.5 536.7L701.5 536.2L699.5 535.8L697.5 535.4L695.4 535.1L693.3 534.8L691.2 534.5L689.1 534.3L686.9 534.1L684.7 534L682.4 533.8L680.2 533.8L677.9 533.7L675.6 533.7L673.3 533.7L670.9 533.8L668.5 533.9L666.1 534L663.7 534.2L661.3 534.4L658.8 534.7L656.3 535L653.8 535.3L651.3 535.6L648.8 536L646.3 536.5L643.7 536.9L641.1 537.4L638.6 538L636 538.6L633.4 539.2L630.7 539.8L628.1 540.5L625.5 541.2L622.8 542L620.2 542.7L617.5 543.6L614.9 544.4L612.2 545.3L609.5 546.2L606.9 547.2L604.2 548.2L601.5 549.2L598.8 550.2L596.1 551.3L593.5 552.4L590.8 553.6L588.1 554.7L585.4 555.9L582.8 557.2L580.1 558.4L577.5 559.7L574.8 561.1L572.2 562.4L569.5 563.8L566.9 565.2L564.3 566.6L561.7 568.1L559.1 569.6L556.5 571.1L553.9 572.6L551.4 574.2L548.8 575.8L546.3 577.4L543.8 579L541.3 580.7L538.8 582.4L536.4 584.1L533.9 585.8L531.5 587.6L529.1 589.3L526.7 591.1L524.4 592.9L522 594.8L519.7 596.6L517.4 598.5L515.2 600.3L512.9 602.2L510.7 604.2L508.6 606.1L506.4 608L504.3 610L502.2 611.9L500.1 613.9L498.1 615.9L496.1 617.9L494.1 620L492.1 622L490.2 624L488.3 626.1L486.5 628.1L484.7 630.2L482.9 632.3L481.2 634.3L479.5 636.4L477.8 638.5L476.2 640.6L474.6 642.7L473 644.8L471.5 646.9L470 649L468.6 651.1L467.2 653.3L465.8 655.4L464.5 657.5L463.2 659.6L462 661.7L460.8 663.8L459.6 665.9L458.5 668L457.4 670.1L456.4 672.2L455.4 674.3L454.5 676.4L453.6 678.5L452.7 680.5L451.9 682.6L451.2 684.6L450.4 686.7L449.8 688.7L449.1 690.7L448.6 692.8L448 694.8L447.5 696.7L447.1 698.7L446.7 700.7L446.3 702.6L446 704.6L445.8 706.5L445.6 708.4L445.4 710.3L445.3 712.1L445.2 714L445.2 715.8L445.2 717.6L445.3 719.4L445.4 721.2L445.6 723L445.8 724.7L446 726.4L446.3 728.1L446.7 729.8L447.1 731.4L447.5 733L448 734.6L448.5 736.2L449.1 737.8L449.7 739.3L450.4 740.8L451.1 742.3L451.9 743.7L452.7 745.1L453.5 746.5"/>
</g>
<rect x="430.9" y="563" width="249.3" height="224.6" fill="none" stroke="#222" stroke-width="0.8"/>
<path d="M430.9 787.6v5M466.5 787.6v5M502.1 787.6v5M537.7 787.6v5M573.4 787.6v5M609 787.6v5M644.6 787.6v5M680.2 787.6v5M430.9 787.6h-5M430.9 742.7h-5M430.9 697.8h-5M430.9 652.8h-5M430.9 607.9h-5M430.9 563h-5" stroke="#111" stroke-width="0.8" fill="none"/>
<g font-family="Liberation Sans, sans-serif">
<text transform="translate(430.9 801) scale(1.200 1)" text-anchor="middle" font-size="5.9" font-weight="bold" fill="#222">1</text>
<text transform="translate(466.5 801) scale(1.200 1)" text-anchor="middle" font-size="5.9" font-weight="bold" fill="#222">2</text>
<text transform="translate(502.1 801) scale(1.200 1)" text-anchor="middle" font-size="5.9" font-weight="bold" fill="#222">3</text>
<text transform="translate(537.7 801) scale(1.200 1)" text-anchor="middle" font-size="5.9" font-weight="bold" fill="#222">4</text>
<text transform="translate(573.4 801) scale(1.200 1)" text-anchor="middle" font-size="5.9" font-weight="bold" fill="#222">5</text>
<text transform="translate(609 801) scale(1.200 1)" text-anchor="middle" font-size="5.9" font-weight="bold" fill="#222">6</text>
<text transform="translate(644.6 801) scale(1.200 1)" text-anchor="middle" font-size="5.9" font-weight="bold" fill="#222">7</text>
<text transform="translate(680.2 801) scale(1.200 1)" text-anchor="middle" font-size="5.9" font-weight="bold" fill="#222">8</text>
<text transform="translate(422.6 789.7) scale(1.200 1)" text-anchor="end" font-size="5.9" font-weight="bold" fill="#222">5</text>
<text transform="translate(422.6 744.8) scale(1.050 1)" text-anchor="end" font-size="5.9" font-weight="bold" fill="#222">5.6</text>
<text transform="translate(422.6 699.9) scale(1.050 1)" text-anchor="end" font-size="5.9" font-weight="bold" fill="#222">6.2</text>
<text transform="translate(422.6 654.9) scale(1.050 1)" text-anchor="end" font-size="5.9" font-weight="bold" fill="#222">6.8</text>
<text transform="translate(422.6 610) scale(1.050 1)" text-anchor="end" font-size="5.9" font-weight="bold" fill="#222">7.4</text>
<text transform="translate(422.6 565.1) scale(1.200 1)" text-anchor="end" font-size="5.9" font-weight="bold" fill="#222">8</text>
<text transform="translate(555.5 558.5) scale(1.050 1)" text-anchor="middle" font-size="8.6" fill="#111" stroke="#111" stroke-width="0.4">R1</text>
<text transform="translate(555.5 818.5) scale(1.140 1)" text-anchor="middle" font-size="7.4" fill="#222" stroke="#222" stroke-width="0.3">B: AgNo3</text>
<text transform="translate(393 675.3) rotate(-90) scale(1.000 1)" text-anchor="middle" font-size="7.3" fill="#222" stroke="#222" stroke-width="0.3">C: pH</text>
</g>
<rect x="431.3" y="564.1" width="4.8" height="4.5" fill="#fff" stroke="#222" stroke-width="0.9"/>
<text x="433.7" y="567.7" text-anchor="middle" font-family="Liberation Sans, sans-serif" font-size="3.7" fill="#223">3</text>
<rect x="458.4" y="587.3" width="4.8" height="4.5" fill="#fff" stroke="#222" stroke-width="0.9"/>
<text x="460.8" y="590.9" text-anchor="middle" font-family="Liberation Sans, sans-serif" font-size="3.7" fill="#223">4</text>
<rect x="450.4" y="741.8" width="4.8" height="4.5" fill="#fff" stroke="#222" stroke-width="0.9"/>
<text x="452.8" y="745.4" text-anchor="middle" font-family="Liberation Sans, sans-serif" font-size="3.7" fill="#223">5</text>
<rect x="660.3" y="772.4" width="4.8" height="4.5" fill="#fff" stroke="#222" stroke-width="0.9"/>
<text x="662.7" y="776" text-anchor="middle" font-family="Liberation Sans, sans-serif" font-size="3.7" fill="#223">4</text>
<path d="M44 38.9L170 15L298.3 38.9M45.2 59.4L170.1 33.5L297 59.4M46.3 79.9L170.2 52.1L295.7 79.8M47.5 100.4L170.4 70.6L294.4 100.3M48.6 120.9L170.5 89.2L293.1 120.7M49.8 141.4L170.6 107.7L291.8 141.2M49.8 141.4L44 38.9M67 136.6L62 35.5M84.3 131.8L80 32.1M101.6 127L98 28.7M118.8 122.2L116 25.2M136.1 117.4L134 21.8M153.3 112.5L152 18.4M170.6 107.7L170 15M170.6 107.7L170 15M200.9 116.1L202.1 21M231.2 124.5L234.2 26.9M261.5 132.8L266.2 32.9M291.8 141.2L298.3 38.9M44 38.9L51.6 173.8M170 15L170.8 137M298.3 38.9L289.7 173.5" fill="none" stroke="#111" stroke-width="0.95"/>
<circle cx="44" cy="38.9" r="1.15" fill="#111"/>
<circle cx="45.2" cy="59.4" r="1.15" fill="#111"/>
<circle cx="46.3" cy="79.9" r="1.15" fill="#111"/>
<circle cx="47.5" cy="100.4" r="1.15" fill="#111"/>
<circle cx="48.6" cy="120.9" r="1.15" fill="#111"/>
<circle cx="49.8" cy="141.4" r="1.15" fill="#111"/>
<polygon points="51.6 173.8 170.8 220.5 289.7 173.5 170.8 137" fill="#626262" stroke="#222" stroke-width="0.8"/>
<g clip-path="url(#f1)" fill="none" stroke-width="1.15">
<path d="M245.2 203.5L237.9 205.2L230.6 206.8L223.1 208.3L215.6 209.7L208 210.9L200.4 212.1L192.7 213.2L185 214.1L177.3 215L169.6 215.7L162 216.3L154.3 216.8L146.7 217.1L139.2 217.4L131.8 217.5" stroke="#26ffdd" stroke-opacity="0.88"/>
<path d="M23.5 174.9L24.1 173.1L25 171.3L26.2 169.5M150.6 132.3L157.4 131.5L164.3 130.8L171.1 130.1L178 129.5M316.2 171.3L312.5 173.4L308.5 175.4L304.3 177.5L299.9 179.5L295.2 181.5L290.4 183.5L285.3 185.5L280 187.4L274.5 189.3L268.9 191.2L263.1 193L257.1 194.7L251 196.4L244.8 198L238.4 199.5L231.9 201L225.4 202.4L218.7 203.7L212 204.9L205.2 206L198.4 207.1L191.5 208L184.6 208.8L177.7 209.6L170.8 210.2L164 210.7L157.1 211.2L150.4 211.5L143.6 211.7L137 211.8L130.4 211.8L123.9 211.7L117.5 211.5" stroke="#26ff4d" stroke-opacity="0.88"/>
<path d="M46.9 183.7L45.9 182.1L45.1 180.6L44.6 179L44.4 177.5L44.4 175.9L44.6 174.3L45.1 172.8L45.9 171.2L47 169.6L48.3 168.1L49.8 166.5L51.6 165L53.7 163.5L56 161.9L58.5 160.5L61.3 159M115.5 142.8L120.8 141.8L126.3 140.8L131.8 139.9L137.4 139.1L143.1 138.2L148.9 137.5L154.7 136.7L160.6 136L166.5 135.4L172.5 134.8L178.4 134.2L184.4 133.7L190.4 133.2M303.8 167.6L301.1 169.3L298.1 171.1L294.9 172.8L291.5 174.6L287.8 176.3L284 178.1L280 179.8L275.7 181.5L271.3 183.1L266.8 184.8L262 186.4L257.2 187.9L252.1 189.5L247 190.9L241.7 192.3L236.3 193.7L230.7 195L225.1 196.3L219.5 197.4L213.7 198.5L207.9 199.6L202 200.5L196.1 201.4L190.1 202.2L184.2 202.9L178.2 203.5L172.2 204.1L166.3 204.5L160.4 204.9L154.5 205.2L148.7 205.4L142.9 205.5L137.2 205.5L131.6 205.4L126.1 205.3L120.7 205L115.4 204.7L110.2 204.3L105.2 203.8L100.3 203.2L95.5 202.5L90.9 201.8" stroke="#87ff26" stroke-opacity="0.88"/>
<path d="M75.4 184.5L73.9 183.3L72.7 182.1L71.6 180.9L70.8 179.7L70.1 178.5L69.7 177.2L69.5 176L69.5 174.7L69.7 173.4L70.1 172.1L70.8 170.9L71.6 169.6L72.7 168.3L74 167L75.4 165.7L77.1 164.5L79 163.2L81 162L83.3 160.8L85.7 159.6L88.4 158.4L91.2 157.3L94.1 156.1L97.3 155L100.6 153.9L104 152.9L107.6 151.9L111.4 150.9L115.3 149.9L119.3 148.9L123.4 148L127.6 147.2L131.9 146.3L136.4 145.5L140.9 144.7L145.4 144L150.1 143.3L154.8 142.6L159.6 142L164.4 141.4L169.2 140.9L174.1 140.4L178.9 139.9L183.8 139.5L188.7 139.1L193.5 138.7L198.4 138.4L203.2 138.2L207.9 137.9M288.4 162.3L286.9 163.6L285.3 165L283.4 166.4L281.3 167.8L279.1 169.2L276.7 170.6L274 172L271.2 173.4L268.3 174.8L265.1 176.2L261.9 177.6L258.4 178.9L254.8 180.3L251.1 181.6L247.2 182.8L243.2 184.1L239.1 185.3L234.9 186.5L230.6 187.6L226.2 188.7L221.7 189.7L217.1 190.7L212.4 191.6L207.7 192.5L203 193.3L198.2 194.1L193.3 194.8L188.5 195.4L183.6 196L178.7 196.5L173.9 196.9L169 197.3L164.2 197.6L159.4 197.8L154.6 198L149.9 198.1L145.3 198.1L140.7 198.1L136.2 198L131.8 197.8L127.4 197.5L123.2 197.2L119.1 196.8L115.1 196.4L111.2 195.9L107.5 195.3L103.9 194.7L100.5 194L97.2 193.2L94 192.4L91.1 191.6L88.3 190.7L85.7 189.8L83.2 188.8L81 187.8L78.9 186.7L77 185.6L75.4 184.5" stroke="#fffe26" stroke-opacity="0.88"/>
<path d="M106.4 179.6L105.4 178.8L104.5 178L103.7 177.2L103.1 176.3L102.7 175.4L102.4 174.6L102.2 173.7L102.2 172.8L102.4 171.9L102.7 171L103.1 170.1L103.7 169.2L104.5 168.3L105.4 167.4L106.4 166.4L107.6 165.5L108.9 164.7L110.4 163.8L112 162.9L113.7 162L115.6 161.2L117.6 160.3L119.7 159.5L121.9 158.7L124.2 157.9L126.7 157.1L129.2 156.3L131.8 155.6L134.6 154.9L137.4 154.2L140.3 153.5L143.3 152.9L146.4 152.2L149.5 151.6L152.7 151.1L155.9 150.5L159.2 150L162.6 149.5L165.9 149L169.3 148.6L172.7 148.2L176.2 147.8L179.6 147.5L183.1 147.2L186.5 146.9L189.9 146.7L193.4 146.4L196.7 146.3L200.1 146.1L203.4 146L206.7 145.9L210 145.9L213.1 145.9L216.3 145.9L219.3 146L222.3 146.1L225.2 146.2L228 146.4L230.8 146.6L233.4 146.8L235.9 147.1L238.4 147.4L240.7 147.7L242.9 148.1L245 148.5L247 149L248.8 149.5L250.5 150L252.1 150.5L253.6 151.1L254.9 151.7L256.1 152.4L257.1 153L258 153.7L258.7 154.5L259.3 155.2L259.8 156L260.1 156.8L260.2 157.7L260.2 158.5L260 159.4L259.7 160.3L259.3 161.2L258.7 162.1L257.9 163.1L257 164L256 165L254.8 165.9L253.5 166.9L252 167.9L250.4 168.8L248.7 169.8L246.9 170.8L244.9 171.8L242.8 172.7L240.6 173.7L238.2 174.6L235.8 175.5L233.3 176.4L230.6 177.3L227.9 178.2L225.1 179L222.2 179.9L219.2 180.7L216.1 181.4L213 182.2L209.8 182.9L206.6 183.5L203.3 184.2L200 184.8L196.6 185.3L193.2 185.9L189.8 186.3L186.4 186.8L182.9 187.2L179.5 187.5L176 187.8L172.6 188.1L169.2 188.3L165.8 188.5L162.4 188.6L159.1 188.7L155.8 188.7L152.6 188.7L149.4 188.6L146.3 188.5L143.2 188.3L140.2 188.1L137.3 187.9L134.5 187.6L131.7 187.2L129.1 186.9L126.6 186.5L124.1 186L121.8 185.5L119.6 185L117.5 184.4L115.5 183.8L113.7 183.2L111.9 182.5L110.3 181.8L108.9 181.1L107.6 180.4L106.4 179.6" stroke="#fff226" stroke-opacity="0.88"/>
</g>
<g font-family="Liberation Sans, sans-serif">
<circle cx="51.6" cy="173.8" r="1.15" fill="#111"/>
<text transform="translate(49.3 179.3) scale(1.120 1)" text-anchor="end" font-size="5.9" font-weight="bold" fill="#222">40</text>
<circle cx="81.4" cy="185.4" r="1.15" fill="#111"/>
<text transform="translate(79.1 191) scale(1.120 1)" text-anchor="end" font-size="5.9" font-weight="bold" fill="#222">35</text>
<circle cx="111.2" cy="197.1" r="1.15" fill="#111"/>
<text transform="translate(108.9 202.7) scale(1.120 1)" text-anchor="end" font-size="5.9" font-weight="bold" fill="#222">30</text>
<circle cx="141" cy="208.8" r="1.15" fill="#111"/>
<text transform="translate(138.7 214.4) scale(1.120 1)" text-anchor="end" font-size="5.9" font-weight="bold" fill="#222">25</text>
<circle cx="170.8" cy="220.5" r="1.15" fill="#111"/>
<text transform="translate(168.5 226.1) scale(1.120 1)" text-anchor="end" font-size="5.9" font-weight="bold" fill="#222">20</text>
<circle cx="170.8" cy="220.5" r="1.15" fill="#111"/>
<text transform="translate(173.8 226.1) scale(1.120 1)" text-anchor="start" font-size="5.9" font-weight="bold" fill="#222">1</text>
<circle cx="187.8" cy="213.8" r="1.15" fill="#111"/>
<text transform="translate(190.8 219.4) scale(1.120 1)" text-anchor="start" font-size="5.9" font-weight="bold" fill="#222">2</text>
<circle cx="204.8" cy="207.1" r="1.15" fill="#111"/>
<text transform="translate(207.8 212.7) scale(1.120 1)" text-anchor="start" font-size="5.9" font-weight="bold" fill="#222">3</text>
<circle cx="221.8" cy="200.4" r="1.15" fill="#111"/>
<text transform="translate(224.8 206) scale(1.120 1)" text-anchor="start" font-size="5.9" font-weight="bold" fill="#222">4</text>
<circle cx="238.7" cy="193.6" r="1.15" fill="#111"/>
<text transform="translate(241.7 199.2) scale(1.120 1)" text-anchor="start" font-size="5.9" font-weight="bold" fill="#222">5</text>
<circle cx="255.7" cy="186.9" r="1.15" fill="#111"/>
<text transform="translate(258.7 192.5) scale(1.120 1)" text-anchor="start" font-size="5.9" font-weight="bold" fill="#222">6</text>
<circle cx="272.7" cy="180.2" r="1.15" fill="#111"/>
<text transform="translate(275.7 185.8) scale(1.120 1)" text-anchor="start" font-size="5.9" font-weight="bold" fill="#222">7</text>
<circle cx="289.7" cy="173.5" r="1.15" fill="#111"/>
<text transform="translate(292.7 179.1) scale(1.120 1)" text-anchor="start" font-size="5.9" font-weight="bold" fill="#222">8</text>
<text transform="translate(41.3 37.1) scale(1.120 1)" text-anchor="end" font-size="5.9" font-weight="bold" fill="#222">8</text>
<text transform="translate(42.5 57.6) scale(1.120 1)" text-anchor="end" font-size="5.9" font-weight="bold" fill="#222">6</text>
<text transform="translate(43.6 78.1) scale(1.120 1)" text-anchor="end" font-size="5.9" font-weight="bold" fill="#222">4</text>
<text transform="translate(44.8 98.6) scale(1.120 1)" text-anchor="end" font-size="5.9" font-weight="bold" fill="#222">2</text>
<text transform="translate(45.9 119.1) scale(1.120 1)" text-anchor="end" font-size="5.9" font-weight="bold" fill="#222">0</text>
<text transform="translate(47.1 139.6) scale(1.120 1)" text-anchor="end" font-size="5.9" font-weight="bold" fill="#222">-2</text>
<text transform="translate(27 216.8) scale(1.060 1)" text-anchor="start" font-size="6.15" font-weight="bold" fill="#333">A: Bacterial supernatant</text>
<text transform="translate(261 216.8) scale(1.060 1)" text-anchor="start" font-size="6.15" font-weight="bold" fill="#333">B: AgNo3</text>
<text transform="translate(6.7 109) rotate(-90) scale(0.850 1)" text-anchor="middle" font-size="6.0" fill="#222">R1</text>
</g>
<g stroke="#1c1c1c" stroke-width="0.5" stroke-linejoin="round">
<polygon points="164 51.4 170.3 50.2 176.5 50.1 170.2 51.4" fill="#e3ff33"/>
<polygon points="157.8 51.6 164.1 50.4 170.3 50.2 164 51.4" fill="#faff33"/>
<polygon points="170.3 50.2 176.6 49.3 182.8 49.1 176.5 50.1" fill="#fffd33"/>
<polygon points="151.6 51.9 157.8 50.8 164.1 50.4 157.8 51.6" fill="#fffd33"/>
<polygon points="164.1 50.4 170.3 49.5 176.6 49.3 170.3 50.2" fill="#fffb33"/>
<polygon points="176.6 49.3 182.9 48.6 189.1 48.4 182.8 49.1" fill="#fff933"/>
<polygon points="145.4 52.4 151.6 51.3 157.8 50.8 151.6 51.9" fill="#fffb33"/>
<polygon points="157.8 50.8 164.1 50 170.3 49.5 164.1 50.4" fill="#fff933"/>
<polygon points="170.3 49.5 176.6 48.9 182.9 48.6 176.6 49.3" fill="#fff633"/>
<polygon points="182.9 48.6 189.2 48.2 195.4 47.9 189.1 48.4" fill="#fff533"/>
<polygon points="139.1 52.9 145.4 51.9 151.6 51.3 145.4 52.4" fill="#fffa33"/>
<polygon points="151.6 51.3 157.9 50.5 164.1 50 157.8 50.8" fill="#fff733"/>
<polygon points="164.1 50 170.4 49.4 176.6 48.9 170.3 49.5" fill="#fff433"/>
<polygon points="176.6 48.9 183 48.5 189.2 48.2 182.9 48.6" fill="#fff333"/>
<polygon points="189.2 48.2 195.5 48 201.7 47.7 195.4 47.9" fill="#fff133"/>
<polygon points="132.9 53.7 139.1 52.7 145.4 51.9 139.1 52.9" fill="#fff833"/>
<polygon points="145.4 51.9 151.6 51.2 157.9 50.5 151.6 51.3" fill="#fff533"/>
<polygon points="157.9 50.5 164.2 50 170.4 49.4 164.1 50" fill="#fff333"/>
<polygon points="170.4 49.4 176.7 49.1 183 48.5 176.6 48.9" fill="#fff133"/>
<polygon points="183 48.5 189.3 48.5 195.5 48 189.2 48.2" fill="#ffef33"/>
<polygon points="195.5 48 201.8 48.1 208.1 47.8 201.7 47.7" fill="#ffed33"/>
<polygon points="126.7 54.5 132.9 53.6 139.1 52.7 132.9 53.7" fill="#fff733"/>
<polygon points="139.1 52.7 145.4 52 151.6 51.2 145.4 51.9" fill="#fff433"/>
<polygon points="151.6 51.2 157.9 50.7 164.2 50 157.9 50.5" fill="#fff133"/>
<polygon points="164.2 50 170.5 49.7 176.7 49.1 170.4 49.4" fill="#ffef33"/>
<polygon points="176.7 49.1 183 49 189.3 48.5 183 48.5" fill="#ffe533"/>
<polygon points="189.3 48.5 195.6 48.7 201.8 48.1 195.5 48" fill="#ffdf33"/>
<polygon points="201.8 48.1 208.2 48.6 214.4 48.1 208.1 47.8" fill="#ffde33"/>
<polygon points="120.5 55.6 126.7 54.7 132.9 53.6 126.7 54.5" fill="#fff733"/>
<polygon points="132.9 53.6 139.2 53 145.4 52 139.1 52.7" fill="#fff333"/>
<polygon points="145.4 52 151.7 51.6 157.9 50.7 151.6 51.2" fill="#fff033"/>
<polygon points="157.9 50.7 164.2 50.6 170.5 49.7 164.2 50" fill="#ffe733"/>
<polygon points="170.5 49.7 176.8 49.8 183 49 176.7 49.1" fill="#ffdb33"/>
<polygon points="183 49 189.4 49.3 195.6 48.7 189.3 48.5" fill="#ffd433"/>
<polygon points="195.6 48.7 201.9 49.1 208.2 48.6 201.8 48.1" fill="#ffd133"/>
<polygon points="208.2 48.6 214.5 49.3 220.8 48.8 214.4 48.1" fill="#ffd333"/>
<polygon points="114.2 56.7 120.5 55.9 126.7 54.7 120.5 55.6" fill="#fff633"/>
<polygon points="126.7 54.7 132.9 54.1 139.2 53 132.9 53.6" fill="#fff233"/>
<polygon points="139.2 53 145.4 52.7 151.7 51.6 145.4 52" fill="#ffef33"/>
<polygon points="151.7 51.6 158 51.5 164.2 50.6 157.9 50.7" fill="#ffdf33"/>
<polygon points="164.2 50.6 170.5 50.6 176.8 49.8 170.5 49.7" fill="#ffd233"/>
<polygon points="176.8 49.8 183.1 50.1 189.4 49.3 183 49" fill="#ffca33"/>
<polygon points="189.4 49.3 195.7 49.8 201.9 49.1 195.6 48.7" fill="#ffc633"/>
<polygon points="201.9 49.1 208.3 49.9 214.5 49.3 208.2 48.6" fill="#ffc733"/>
<polygon points="214.5 49.3 220.9 50.3 227.1 49.7 220.8 48.8" fill="#ffcc33"/>
<polygon points="108 58 114.2 57.3 120.5 55.9 114.2 56.7" fill="#fff633"/>
<polygon points="120.5 55.9 126.7 55.4 132.9 54.1 126.7 54.7" fill="#fff233"/>
<polygon points="132.9 54.1 139.2 53.9 145.4 52.7 139.2 53" fill="#ffed33"/>
<polygon points="145.4 52.7 151.7 52.6 158 51.5 151.7 51.6" fill="#ffda33"/>
<polygon points="158 51.5 164.3 51.7 170.5 50.6 164.2 50.6" fill="#ffcc33"/>
<polygon points="170.5 50.6 176.8 51 183.1 50.1 176.8 49.8" fill="#ffc233"/>
<polygon points="183.1 50.1 189.4 50.7 195.7 49.8 189.4 49.3" fill="#ffbd33"/>
<polygon points="195.7 49.8 202 50.7 208.3 49.9 201.9 49.1" fill="#ffbd33"/>
<polygon points="208.3 49.9 214.6 51 220.9 50.3 214.5 49.3" fill="#ffc133"/>
<polygon points="220.9 50.3 227.2 51.6 233.4 51 227.1 49.7" fill="#ffc933"/>
<polygon points="101.8 59.5 108 58.8 114.2 57.3 108 58" fill="#fff633"/>
<polygon points="114.2 57.3 120.5 56.9 126.7 55.4 120.5 55.9" fill="#fff233"/>
<polygon points="126.7 55.4 132.9 55.2 139.2 53.9 132.9 54.1" fill="#ffec33"/>
<polygon points="139.2 53.9 145.5 53.9 151.7 52.6 145.4 52.7" fill="#ffd733"/>
<polygon points="151.7 52.6 158 52.8 164.3 51.7 158 51.5" fill="#ffc833"/>
<polygon points="164.3 51.7 170.6 52.1 176.8 51 170.5 50.6" fill="#ffbd33"/>
<polygon points="176.8 51 183.2 51.7 189.4 50.7 183.1 50.1" fill="#ffb633"/>
<polygon points="189.4 50.7 195.8 51.6 202 50.7 195.7 49.8" fill="#ffb433"/>
<polygon points="202 50.7 208.3 51.8 214.6 51 208.3 49.9" fill="#ffb733"/>
<polygon points="214.6 51 220.9 52.3 227.2 51.6 220.9 50.3" fill="#ffbf33"/>
<polygon points="227.2 51.6 233.5 53.2 239.7 52.5 233.4 51" fill="#ffcb33"/>
<polygon points="95.6 61.1 101.8 60.5 108 58.8 101.8 59.5" fill="#fff633"/>
<polygon points="108 58.8 114.2 58.4 120.5 56.9 114.2 57.3" fill="#fff233"/>
<polygon points="120.5 56.9 126.7 56.7 132.9 55.2 126.7 55.4" fill="#ffec33"/>
<polygon points="132.9 55.2 139.2 55.3 145.5 53.9 139.2 53.9" fill="#ffd733"/>
<polygon points="145.5 53.9 151.8 54.1 158 52.8 151.7 52.6" fill="#ffc633"/>
<polygon points="158 52.8 164.3 53.3 170.6 52.1 164.3 51.7" fill="#ffb933"/>
<polygon points="170.6 52.1 176.9 52.8 183.2 51.7 176.8 51" fill="#ffb233"/>
<polygon points="183.2 51.7 189.5 52.7 195.8 51.6 189.4 50.7" fill="#ffaf33"/>
<polygon points="195.8 51.6 202.1 52.8 208.3 51.8 202 50.7" fill="#ffb033"/>
<polygon points="208.3 51.8 214.7 53.2 220.9 52.3 214.6 51" fill="#ffb633"/>
<polygon points="220.9 52.3 227.2 54 233.5 53.2 227.2 51.6" fill="#ffc133"/>
<polygon points="233.5 53.2 239.8 55.1 246 54.3 239.7 52.5" fill="#ffd033"/>
<polygon points="89.4 62.9 95.6 62.3 101.8 60.5 95.6 61.1" fill="#fff733"/>
<polygon points="101.8 60.5 108 60.2 114.2 58.4 108 58.8" fill="#fff333"/>
<polygon points="114.2 58.4 120.5 58.3 126.7 56.7 120.5 56.9" fill="#ffee33"/>
<polygon points="126.7 56.7 133 56.8 139.2 55.3 132.9 55.2" fill="#ffd833"/>
<polygon points="139.2 55.3 145.5 55.6 151.8 54.1 145.5 53.9" fill="#ffc633"/>
<polygon points="151.8 54.1 158.1 54.7 164.3 53.3 158 52.8" fill="#ffb833"/>
<polygon points="164.3 53.3 170.6 54.1 176.9 52.8 170.6 52.1" fill="#ffaf33"/>
<polygon points="176.9 52.8 183.2 53.9 189.5 52.7 183.2 51.7" fill="#ffab33"/>
<polygon points="189.5 52.7 195.8 53.9 202.1 52.8 195.8 51.6" fill="#ffab33"/>
<polygon points="202.1 52.8 208.4 54.3 214.7 53.2 208.3 51.8" fill="#ffb033"/>
<polygon points="214.7 53.2 221 55 227.2 54 220.9 52.3" fill="#ffb933"/>
<polygon points="227.2 54 233.6 56 239.8 55.1 233.5 53.2" fill="#ffc733"/>
<polygon points="239.8 55.1 246.1 57.3 252.3 56.5 246 54.3" fill="#ffda33"/>
<polygon points="83.2 64.8 89.4 64.3 95.6 62.3 89.4 62.9" fill="#fff833"/>
<polygon points="95.6 62.3 101.8 62.1 108 60.2 101.8 60.5" fill="#fff433"/>
<polygon points="108 60.2 114.2 60.1 120.5 58.3 114.2 58.4" fill="#fff033"/>
<polygon points="120.5 58.3 126.7 58.5 133 56.8 126.7 56.7" fill="#ffdb33"/>
<polygon points="133 56.8 139.3 57.2 145.5 55.6 139.2 55.3" fill="#ffc833"/>
<polygon points="145.5 55.6 151.8 56.2 158.1 54.7 151.8 54.1" fill="#ffb933"/>
<polygon points="158.1 54.7 164.4 55.6 170.6 54.1 164.3 53.3" fill="#ffaf33"/>
<polygon points="170.6 54.1 177 55.2 183.2 53.9 176.9 52.8" fill="#ffa933"/>
<polygon points="183.2 53.9 189.5 55.2 195.8 53.9 189.5 52.7" fill="#ffa833"/>
<polygon points="195.8 53.9 202.1 55.5 208.4 54.3 202.1 52.8" fill="#ffab33"/>
<polygon points="208.4 54.3 214.7 56.1 221 55 214.7 53.2" fill="#ffb333"/>
<polygon points="221 55 227.3 57 233.6 56 227.2 54" fill="#ffc033"/>
<polygon points="233.6 56 239.8 58.3 246.1 57.3 239.8 55.1" fill="#ffd133"/>
<polygon points="246.1 57.3 252.4 59.8 258.6 58.9 252.3 56.5" fill="#ffe733"/>
<polygon points="77 66.9 83.2 66.4 89.4 64.3 83.2 64.8" fill="#fff933"/>
<polygon points="89.4 64.3 95.6 64.1 101.8 62.1 95.6 62.3" fill="#fff533"/>
<polygon points="101.8 62.1 108 62.1 114.2 60.1 108 60.2" fill="#fff033"/>
<polygon points="114.2 60.1 120.5 60.4 126.7 58.5 120.5 58.3" fill="#ffe033"/>
<polygon points="126.7 58.5 133 59 139.3 57.2 133 56.8" fill="#ffcc33"/>
<polygon points="139.3 57.2 145.5 57.9 151.8 56.2 145.5 55.6" fill="#ffbc33"/>
<polygon points="151.8 56.2 158.1 57.2 164.4 55.6 158.1 54.7" fill="#ffb033"/>
<polygon points="164.4 55.6 170.7 56.7 177 55.2 170.6 54.1" fill="#ffa933"/>
<polygon points="177 55.2 183.3 56.6 189.5 55.2 183.2 53.9" fill="#ffa733"/>
<polygon points="189.5 55.2 195.9 56.8 202.1 55.5 195.8 53.9" fill="#ffa933"/>
<polygon points="202.1 55.5 208.5 57.4 214.7 56.1 208.4 54.3" fill="#ffb033"/>
<polygon points="214.7 56.1 221 58.2 227.3 57 221 55" fill="#ffbb33"/>
<polygon points="227.3 57 233.6 59.4 239.8 58.3 233.6 56" fill="#ffcb33"/>
<polygon points="239.8 58.3 246.1 60.9 252.4 59.8 246.1 57.3" fill="#ffe033"/>
<polygon points="252.4 59.8 258.6 62.6 264.9 61.7 258.6 58.9" fill="#fff033"/>
<polygon points="70.8 69.1 77 68.8 83.2 66.4 77 66.9" fill="#fffb33"/>
<polygon points="83.2 66.4 89.4 66.3 95.6 64.1 89.4 64.3" fill="#fff633"/>
<polygon points="95.6 64.1 101.8 64.2 108 62.1 101.8 62.1" fill="#fff233"/>
<polygon points="108 62.1 114.3 62.4 120.5 60.4 114.2 60.1" fill="#ffe833"/>
<polygon points="120.5 60.4 126.8 60.9 133 59 126.7 58.5" fill="#ffd233"/>
<polygon points="133 59 139.3 59.8 145.5 57.9 139.3 57.2" fill="#ffc133"/>
<polygon points="145.5 57.9 151.8 58.9 158.1 57.2 151.8 56.2" fill="#ffb433"/>
<polygon points="158.1 57.2 164.4 58.4 170.7 56.7 164.4 55.6" fill="#ffac33"/>
<polygon points="170.7 56.7 177 58.2 183.3 56.6 177 55.2" fill="#ffa833"/>
<polygon points="183.3 56.6 189.6 58.4 195.9 56.8 189.5 55.2" fill="#ffa933"/>
<polygon points="195.9 56.8 202.2 58.8 208.5 57.4 202.1 55.5" fill="#ffaf33"/>
<polygon points="208.5 57.4 214.8 59.6 221 58.2 214.7 56.1" fill="#ffb933"/>
<polygon points="221 58.2 227.3 60.7 233.6 59.4 227.3 57" fill="#ffc733"/>
<polygon points="233.6 59.4 239.9 62.1 246.1 60.9 239.8 58.3" fill="#ffdb33"/>
<polygon points="246.1 60.9 252.4 63.8 258.6 62.6 252.4 59.8" fill="#ffef33"/>
<polygon points="258.6 62.6 264.8 65.8 271.1 64.8 264.9 61.7" fill="#fff333"/>
<polygon points="64.7 71.5 70.8 71.2 77 68.8 70.8 69.1" fill="#fffd33"/>
<polygon points="77 68.8 83.2 68.7 89.4 66.3 83.2 66.4" fill="#fff833"/>
<polygon points="89.4 66.3 95.6 66.5 101.8 64.2 95.6 64.1" fill="#fff333"/>
<polygon points="101.8 64.2 108 64.6 114.3 62.4 108 62.1" fill="#ffef33"/>
<polygon points="114.3 62.4 120.5 63 126.8 60.9 120.5 60.4" fill="#ffda33"/>
<polygon points="126.8 60.9 133 61.8 139.3 59.8 133 59" fill="#ffc833"/>
<polygon points="139.3 59.8 145.6 60.9 151.8 58.9 145.5 57.9" fill="#ffba33"/>
<polygon points="151.8 58.9 158.2 60.3 164.4 58.4 158.1 57.2" fill="#ffb033"/>
<polygon points="164.4 58.4 170.7 60 177 58.2 170.7 56.7" fill="#ffac33"/>
<polygon points="177 58.2 183.3 60 189.6 58.4 183.3 56.6" fill="#ffab33"/>
<polygon points="189.6 58.4 195.9 60.4 202.2 58.8 195.9 56.8" fill="#ffb033"/>
<polygon points="202.2 58.8 208.5 61.1 214.8 59.6 208.5 57.4" fill="#ffb833"/>
<polygon points="214.8 59.6 221 62.1 227.3 60.7 221 58.2" fill="#ffc633"/>
<polygon points="227.3 60.7 233.6 63.4 239.9 62.1 233.6 59.4" fill="#ffd833"/>
<polygon points="239.9 62.1 246.1 65.1 252.4 63.8 246.1 60.9" fill="#ffee33"/>
<polygon points="252.4 63.8 258.6 67 264.8 65.8 258.6 62.6" fill="#fff333"/>
<polygon points="264.8 65.8 271 69.3 277.3 68.2 271.1 64.8" fill="#fff733"/>
<polygon points="58.5 74.1 64.7 73.9 70.8 71.2 64.7 71.5" fill="#ffff33"/>
<polygon points="70.8 71.2 77 71.3 83.2 68.7 77 68.8" fill="#fffa33"/>
<polygon points="83.2 68.7 89.4 69 95.6 66.5 89.4 66.3" fill="#fff533"/>
<polygon points="95.6 66.5 101.8 67 108 64.6 101.8 64.2" fill="#fff133"/>
<polygon points="108 64.6 114.3 65.3 120.5 63 114.3 62.4" fill="#ffe533"/>
<polygon points="120.5 63 126.8 64 133 61.8 126.8 60.9" fill="#ffd133"/>
<polygon points="133 61.8 139.3 62.9 145.6 60.9 139.3 59.8" fill="#ffc233"/>
<polygon points="145.6 60.9 151.9 62.3 158.2 60.3 151.8 58.9" fill="#ffb733"/>
<polygon points="158.2 60.3 164.5 61.9 170.7 60 164.4 58.4" fill="#ffb133"/>
<polygon points="170.7 60 177 61.8 183.3 60 177 58.2" fill="#ffb033"/>
<polygon points="183.3 60 189.6 62.1 195.9 60.4 189.6 58.4" fill="#ffb233"/>
<polygon points="195.9 60.4 202.2 62.7 208.5 61.1 202.2 58.8" fill="#ffba33"/>
<polygon points="208.5 61.1 214.8 63.7 221 62.1 214.8 59.6" fill="#ffc633"/>
<polygon points="221 62.1 227.3 64.9 233.6 63.4 227.3 60.7" fill="#ffd733"/>
<polygon points="233.6 63.4 239.8 66.5 246.1 65.1 239.9 62.1" fill="#ffec33"/>
<polygon points="246.1 65.1 252.3 68.4 258.6 67 252.4 63.8" fill="#fff233"/>
<polygon points="258.6 67 264.8 70.6 271 69.3 264.8 65.8" fill="#fff633"/>
<polygon points="271 69.3 277.2 73.1 283.4 71.9 277.3 68.2" fill="#fffb33"/>
<polygon points="52.4 76.8 58.6 76.7 64.7 73.9 58.5 74.1" fill="#e8ff33"/>
<polygon points="64.7 73.9 70.9 74 77 71.3 70.8 71.2" fill="#fffc33"/>
<polygon points="77 71.3 83.2 71.6 89.4 69 83.2 68.7" fill="#fff733"/>
<polygon points="89.4 69 95.6 69.5 101.8 67 95.6 66.5" fill="#fff333"/>
<polygon points="101.8 67 108.1 67.7 114.3 65.3 108 64.6" fill="#ffef33"/>
<polygon points="114.3 65.3 120.6 66.3 126.8 64 120.5 63" fill="#ffdc33"/>
<polygon points="126.8 64 133.1 65.2 139.3 62.9 133 61.8" fill="#ffcc33"/>
<polygon points="139.3 62.9 145.6 64.4 151.9 62.3 145.6 60.9" fill="#ffc033"/>
<polygon points="151.9 62.3 158.2 64 164.5 61.9 158.2 60.3" fill="#ffb933"/>
<polygon points="164.5 61.9 170.8 63.8 177 61.8 170.7 60" fill="#ffb633"/>
<polygon points="177 61.8 183.3 64 189.6 62.1 183.3 60" fill="#ffb833"/>
<polygon points="189.6 62.1 195.9 64.6 202.2 62.7 195.9 60.4" fill="#ffbe33"/>
<polygon points="202.2 62.7 208.5 65.4 214.8 63.7 208.5 61.1" fill="#ffc933"/>
<polygon points="214.8 63.7 221 66.6 227.3 64.9 221 62.1" fill="#ffd833"/>
<polygon points="227.3 64.9 233.6 68.1 239.8 66.5 233.6 63.4" fill="#ffec33"/>
<polygon points="239.8 66.5 246.1 69.9 252.3 68.4 246.1 65.1" fill="#fff233"/>
<polygon points="252.3 68.4 258.5 72 264.8 70.6 258.6 67" fill="#fff633"/>
<polygon points="264.8 70.6 271 74.5 277.2 73.1 271 69.3" fill="#fffb33"/>
<polygon points="277.2 73.1 283.3 77.3 289.6 76 283.4 71.9" fill="#f5ff33"/>
<polygon points="46.3 79.7 52.4 79.7 58.6 76.7 52.4 76.8" fill="#ceff33"/>
<polygon points="58.6 76.7 64.7 76.9 70.9 74 64.7 73.9" fill="#fffe33"/>
<polygon points="70.9 74 77.1 74.4 83.2 71.6 77 71.3" fill="#fff933"/>
<polygon points="83.2 71.6 89.4 72.2 95.6 69.5 89.4 69" fill="#fff533"/>
<polygon points="95.6 69.5 101.9 70.3 108.1 67.7 101.8 67" fill="#fff133"/>
<polygon points="108.1 67.7 114.3 68.8 120.6 66.3 114.3 65.3" fill="#ffea33"/>
<polygon points="120.6 66.3 126.9 67.6 133.1 65.2 126.8 64" fill="#ffd833"/>
<polygon points="133.1 65.2 139.4 66.7 145.6 64.4 139.3 62.9" fill="#ffcb33"/>
<polygon points="145.6 64.4 151.9 66.2 158.2 64 151.9 62.3" fill="#ffc233"/>
<polygon points="158.2 64 164.5 66 170.8 63.8 164.5 61.9" fill="#ffbe33"/>
<polygon points="170.8 63.8 177.1 66.1 183.3 64 177 61.8" fill="#ffbf33"/>
<polygon points="183.3 64 189.6 66.5 195.9 64.6 189.6 62.1" fill="#ffc433"/>
<polygon points="195.9 64.6 202.2 67.3 208.5 65.4 202.2 62.7" fill="#ffcd33"/>
<polygon points="208.5 65.4 214.8 68.4 221 66.6 214.8 63.7" fill="#ffdb33"/>
<polygon points="221 66.6 227.3 69.8 233.6 68.1 227.3 64.9" fill="#ffee33"/>
<polygon points="233.6 68.1 239.8 71.6 246.1 69.9 239.8 66.5" fill="#fff233"/>
<polygon points="246.1 69.9 252.3 73.7 258.5 72 252.3 68.4" fill="#fff633"/>
<polygon points="258.5 72 264.7 76 271 74.5 264.8 70.6" fill="#fffa33"/>
<polygon points="271 74.5 277.1 78.8 283.3 77.3 277.2 73.1" fill="#f9ff33"/>
<polygon points="283.3 77.3 289.4 81.8 295.6 80.4 289.6 76" fill="#c2ff33"/>
<polygon points="52.4 79.7 58.6 79.9 64.7 76.9 58.6 76.7" fill="#e9ff33"/>
<polygon points="64.7 76.9 70.9 77.3 77.1 74.4 70.9 74" fill="#fffc33"/>
<polygon points="77.1 74.4 83.3 75.1 89.4 72.2 83.2 71.6" fill="#fff833"/>
<polygon points="89.4 72.2 95.7 73.1 101.9 70.3 95.6 69.5" fill="#fff433"/>
<polygon points="101.9 70.3 108.1 71.5 114.3 68.8 108.1 67.7" fill="#fff033"/>
<polygon points="114.3 68.8 120.6 70.2 126.9 67.6 120.6 66.3" fill="#ffe633"/>
<polygon points="126.9 67.6 133.1 69.2 139.4 66.7 133.1 65.2" fill="#ffd833"/>
<polygon points="139.4 66.7 145.7 68.6 151.9 66.2 145.6 64.4" fill="#ffce33"/>
<polygon points="151.9 66.2 158.2 68.3 164.5 66 158.2 64" fill="#ffc933"/>
<polygon points="164.5 66 170.8 68.3 177.1 66.1 170.8 63.8" fill="#ffc833"/>
<polygon points="177.1 66.1 183.4 68.7 189.6 66.5 183.3 64" fill="#ffcc33"/>
<polygon points="189.6 66.5 195.9 69.4 202.2 67.3 195.9 64.6" fill="#ffd433"/>
<polygon points="202.2 67.3 208.5 70.4 214.8 68.4 208.5 65.4" fill="#ffe133"/>
<polygon points="214.8 68.4 221 71.7 227.3 69.8 221 66.6" fill="#ffef33"/>
<polygon points="227.3 69.8 233.5 73.4 239.8 71.6 233.6 68.1" fill="#fff333"/>
<polygon points="239.8 71.6 246 75.4 252.3 73.7 246.1 69.9" fill="#fff633"/>
<polygon points="252.3 73.7 258.5 77.7 264.7 76 258.5 72" fill="#fffb33"/>
<polygon points="264.7 76 270.9 80.4 277.1 78.8 271 74.5" fill="#fbff33"/>
<polygon points="277.1 78.8 283.2 83.4 289.4 81.8 283.3 77.3" fill="#c6ff33"/>
<polygon points="58.6 79.9 64.8 80.5 70.9 77.3 64.7 76.9" fill="#feff33"/>
<polygon points="70.9 77.3 77.1 78.1 83.3 75.1 77.1 74.4" fill="#fffa33"/>
<polygon points="83.3 75.1 89.5 76.1 95.7 73.1 89.4 72.2" fill="#fff633"/>
<polygon points="95.7 73.1 101.9 74.3 108.1 71.5 101.9 70.3" fill="#fff333"/>
<polygon points="108.1 71.5 114.4 73 120.6 70.2 114.3 68.8" fill="#fff033"/>
<polygon points="120.6 70.2 126.9 71.9 133.1 69.2 126.9 67.6" fill="#ffe733"/>
<polygon points="133.1 69.2 139.4 71.2 145.7 68.6 139.4 66.7" fill="#ffdc33"/>
<polygon points="145.7 68.6 152 70.8 158.2 68.3 151.9 66.2" fill="#ffd533"/>
<polygon points="158.2 68.3 164.5 70.7 170.8 68.3 164.5 66" fill="#ffd333"/>
<polygon points="170.8 68.3 177.1 71 183.4 68.7 177.1 66.1" fill="#ffd633"/>
<polygon points="183.4 68.7 189.6 71.6 195.9 69.4 189.6 66.5" fill="#ffdd33"/>
<polygon points="195.9 69.4 202.2 72.5 208.5 70.4 202.2 67.3" fill="#ffe933"/>
<polygon points="208.5 70.4 214.7 73.8 221 71.7 214.8 68.4" fill="#fff033"/>
<polygon points="221 71.7 227.3 75.4 233.5 73.4 227.3 69.8" fill="#fff333"/>
<polygon points="233.5 73.4 239.7 77.3 246 75.4 239.8 71.6" fill="#fff733"/>
<polygon points="246 75.4 252.2 79.6 258.5 77.7 252.3 73.7" fill="#fffb33"/>
<polygon points="258.5 77.7 264.6 82.2 270.9 80.4 264.7 76" fill="#f9ff33"/>
<polygon points="270.9 80.4 277 85.1 283.2 83.4 277.1 78.8" fill="#c6ff33"/>
<polygon points="64.8 80.5 71 81.3 77.1 78.1 70.9 77.3" fill="#fffd33"/>
<polygon points="77.1 78.1 83.3 79.2 89.5 76.1 83.3 75.1" fill="#fff933"/>
<polygon points="89.5 76.1 95.7 77.4 101.9 74.3 95.7 73.1" fill="#fff633"/>
<polygon points="101.9 74.3 108.2 75.9 114.4 73 108.1 71.5" fill="#fff333"/>
<polygon points="114.4 73 120.7 74.8 126.9 71.9 120.6 70.2" fill="#fff033"/>
<polygon points="126.9 71.9 133.2 73.9 139.4 71.2 133.1 69.2" fill="#ffec33"/>
<polygon points="139.4 71.2 145.7 73.5 152 70.8 145.7 68.6" fill="#ffe433"/>
<polygon points="152 70.8 158.3 73.3 164.5 70.7 158.2 68.3" fill="#ffe133"/>
<polygon points="164.5 70.7 170.8 73.5 177.1 71 170.8 68.3" fill="#ffe233"/>
<polygon points="177.1 71 183.4 74 189.6 71.6 183.4 68.7" fill="#ffe833"/>
<polygon points="189.6 71.6 195.9 74.9 202.2 72.5 195.9 69.4" fill="#ffef33"/>
<polygon points="202.2 72.5 208.5 76.1 214.7 73.8 208.5 70.4" fill="#fff233"/>
<polygon points="214.7 73.8 221 77.6 227.3 75.4 221 71.7" fill="#fff433"/>
<polygon points="227.3 75.4 233.5 79.4 239.7 77.3 233.5 73.4" fill="#fff833"/>
<polygon points="239.7 77.3 245.9 81.6 252.2 79.6 246 75.4" fill="#fffc33"/>
<polygon points="252.2 79.6 258.3 84.1 264.6 82.2 258.5 77.7" fill="#f5ff33"/>
<polygon points="264.6 82.2 270.7 87 277 85.1 270.9 80.4" fill="#c3ff33"/>
<polygon points="71 81.3 77.2 82.5 83.3 79.2 77.1 78.1" fill="#fffc33"/>
<polygon points="83.3 79.2 89.6 80.6 95.7 77.4 89.5 76.1" fill="#fff933"/>
<polygon points="95.7 77.4 102 79 108.2 75.9 101.9 74.3" fill="#fff533"/>
<polygon points="108.2 75.9 114.5 77.8 120.7 74.8 114.4 73" fill="#fff333"/>
<polygon points="120.7 74.8 127 76.9 133.2 73.9 126.9 71.9" fill="#fff133"/>
<polygon points="133.2 73.9 139.5 76.3 145.7 73.5 139.4 71.2" fill="#fff033"/>
<polygon points="145.7 73.5 152 76.1 158.3 73.3 152 70.8" fill="#ffef33"/>
<polygon points="158.3 73.3 164.6 76.2 170.8 73.5 164.5 70.7" fill="#ffef33"/>
<polygon points="170.8 73.5 177.1 76.6 183.4 74 177.1 71" fill="#fff033"/>
<polygon points="183.4 74 189.6 77.4 195.9 74.9 189.6 71.6" fill="#fff133"/>
<polygon points="195.9 74.9 202.2 78.5 208.5 76.1 202.2 72.5" fill="#fff333"/>
<polygon points="208.5 76.1 214.7 79.9 221 77.6 214.7 73.8" fill="#fff633"/>
<polygon points="221 77.6 227.2 81.7 233.5 79.4 227.3 75.4" fill="#fff933"/>
<polygon points="233.5 79.4 239.6 83.8 245.9 81.6 239.7 77.3" fill="#fffc33"/>
<polygon points="245.9 81.6 252.1 86.2 258.3 84.1 252.2 79.6" fill="#edff33"/>
<polygon points="258.3 84.1 264.5 89 270.7 87 264.6 82.2" fill="#beff33"/>
<polygon points="77.2 82.5 83.4 84 89.6 80.6 83.3 79.2" fill="#fffc33"/>
<polygon points="89.6 80.6 95.8 82.3 102 79 95.7 77.4" fill="#fff933"/>
<polygon points="102 79 108.3 81 114.5 77.8 108.2 75.9" fill="#fff633"/>
<polygon points="114.5 77.8 120.7 80 127 76.9 120.7 74.8" fill="#fff433"/>
<polygon points="127 76.9 133.2 79.3 139.5 76.3 133.2 73.9" fill="#fff233"/>
<polygon points="139.5 76.3 145.8 79 152 76.1 145.7 73.5" fill="#fff233"/>
<polygon points="152 76.1 158.3 79 164.6 76.2 158.3 73.3" fill="#fff233"/>
<polygon points="164.6 76.2 170.8 79.3 177.1 76.6 170.8 73.5" fill="#fff233"/>
<polygon points="177.1 76.6 183.4 80 189.6 77.4 183.4 74" fill="#fff333"/>
<polygon points="189.6 77.4 195.9 81.1 202.2 78.5 195.9 74.9" fill="#fff533"/>
<polygon points="202.2 78.5 208.4 82.4 214.7 79.9 208.5 76.1" fill="#fff733"/>
<polygon points="214.7 79.9 220.9 84.1 227.2 81.7 221 77.6" fill="#fffa33"/>
<polygon points="227.2 81.7 233.4 86.1 239.6 83.8 233.5 79.4" fill="#fffe33"/>
<polygon points="239.6 83.8 245.8 88.5 252.1 86.2 245.9 81.6" fill="#e3ff33"/>
<polygon points="252.1 86.2 258.2 91.2 264.5 89 258.3 84.1" fill="#b5ff33"/>
<polygon points="83.4 84 89.7 85.8 95.8 82.3 89.6 80.6" fill="#fffc33"/>
<polygon points="95.8 82.3 102.1 84.4 108.3 81 102 79" fill="#fff933"/>
<polygon points="108.3 81 114.5 83.3 120.7 80 114.5 77.8" fill="#fff733"/>
<polygon points="120.7 80 127 82.5 133.2 79.3 127 76.9" fill="#fff533"/>
<polygon points="133.2 79.3 139.5 82.1 145.8 79 139.5 76.3" fill="#fff433"/>
<polygon points="145.8 79 152 82 158.3 79 152 76.1" fill="#fff433"/>
<polygon points="158.3 79 164.6 82.3 170.8 79.3 164.6 76.2" fill="#fff433"/>
<polygon points="170.8 79.3 177.1 82.9 183.4 80 177.1 76.6" fill="#fff533"/>
<polygon points="183.4 80 189.6 83.8 195.9 81.1 189.6 77.4" fill="#fff733"/>
<polygon points="195.9 81.1 202.1 85.1 208.4 82.4 202.2 78.5" fill="#fff933"/>
<polygon points="208.4 82.4 214.6 86.7 220.9 84.1 214.7 79.9" fill="#fffc33"/>
<polygon points="220.9 84.1 227.1 88.7 233.4 86.1 227.2 81.7" fill="#fcff33"/>
<polygon points="233.4 86.1 239.5 91 245.8 88.5 239.6 83.8" fill="#d6ff33"/>
<polygon points="245.8 88.5 251.9 93.6 258.2 91.2 252.1 86.2" fill="#aaff33"/>
<polygon points="89.7 85.8 95.9 87.9 102.1 84.4 95.8 82.3" fill="#fffd33"/>
<polygon points="102.1 84.4 108.3 86.7 114.5 83.3 108.3 81" fill="#fffa33"/>
<polygon points="114.5 83.3 120.8 85.9 127 82.5 120.7 80" fill="#fff933"/>
<polygon points="127 82.5 133.3 85.4 139.5 82.1 133.2 79.3" fill="#fff733"/>
<polygon points="139.5 82.1 145.8 85.2 152 82 145.8 79" fill="#fff733"/>
<polygon points="152 82 158.3 85.4 164.6 82.3 158.3 79" fill="#fff733"/>
<polygon points="164.6 82.3 170.8 85.9 177.1 82.9 170.8 79.3" fill="#fff833"/>
<polygon points="177.1 82.9 183.4 86.8 189.6 83.8 183.4 80" fill="#fff933"/>
<polygon points="189.6 83.8 195.9 88 202.1 85.1 195.9 81.1" fill="#fffb33"/>
<polygon points="202.1 85.1 208.4 89.5 214.6 86.7 208.4 82.4" fill="#fffe33"/>
<polygon points="214.6 86.7 220.8 91.4 227.1 88.7 220.9 84.1" fill="#ebff33"/>
<polygon points="227.1 88.7 233.3 93.6 239.5 91 233.4 86.1" fill="#c6ff33"/>
<polygon points="239.5 91 245.7 96.1 251.9 93.6 245.8 88.5" fill="#9cff33"/>
<polygon points="95.9 87.9 102.2 90.4 108.3 86.7 102.1 84.4" fill="#fffe33"/>
<polygon points="108.3 86.7 114.6 89.4 120.8 85.9 114.5 83.3" fill="#fffc33"/>
<polygon points="120.8 85.9 127.1 88.8 133.3 85.4 127 82.5" fill="#fffb33"/>
<polygon points="133.3 85.4 139.6 88.6 145.8 85.2 139.5 82.1" fill="#fffa33"/>
<polygon points="145.8 85.2 152.1 88.7 158.3 85.4 152 82" fill="#fffa33"/>
<polygon points="158.3 85.4 164.6 89.1 170.8 85.9 164.6 82.3" fill="#fffb33"/>
<polygon points="170.8 85.9 177.1 89.9 183.4 86.8 177.1 82.9" fill="#fffc33"/>
<polygon points="183.4 86.8 189.6 91 195.9 88 189.6 83.8" fill="#fffe33"/>
<polygon points="195.9 88 202.1 92.4 208.4 89.5 202.1 85.1" fill="#f4ff33"/>
<polygon points="208.4 89.5 214.5 94.2 220.8 91.4 214.6 86.7" fill="#d7ff33"/>
<polygon points="220.8 91.4 227 96.4 233.3 93.6 227.1 88.7" fill="#b4ff33"/>
<polygon points="233.3 93.6 239.4 98.9 245.7 96.1 239.5 91" fill="#8bff33"/>
<polygon points="102.2 90.4 108.4 93.2 114.6 89.4 108.3 86.7" fill="#f6ff33"/>
<polygon points="114.6 89.4 120.9 92.5 127.1 88.8 120.8 85.9" fill="#fffe33"/>
<polygon points="127.1 88.8 133.4 92.2 139.6 88.6 133.3 85.4" fill="#fffe33"/>
<polygon points="139.6 88.6 145.9 92.1 152.1 88.7 145.8 85.2" fill="#fffd33"/>
<polygon points="152.1 88.7 158.3 92.5 164.6 89.1 158.3 85.4" fill="#fffe33"/>
<polygon points="164.6 89.1 170.8 93.2 177.1 89.9 170.8 85.9" fill="#ffff33"/>
<polygon points="177.1 89.9 183.3 94.2 189.6 91 183.4 86.8" fill="#f1ff33"/>
<polygon points="189.6 91 195.8 95.6 202.1 92.4 195.9 88" fill="#dbff33"/>
<polygon points="202.1 92.4 208.3 97.3 214.5 94.2 208.4 89.5" fill="#c0ff33"/>
<polygon points="214.5 94.2 220.7 99.4 227 96.4 220.8 91.4" fill="#9eff33"/>
<polygon points="227 96.4 233.1 101.8 239.4 98.9 233.3 93.6" fill="#77ff33"/>
<polygon points="108.4 93.2 114.7 96.3 120.9 92.5 114.6 89.4" fill="#dfff33"/>
<polygon points="120.9 92.5 127.2 95.9 133.4 92.2 127.1 88.8" fill="#e9ff33"/>
<polygon points="133.4 92.2 139.6 95.8 145.9 92.1 139.6 88.6" fill="#ecff33"/>
<polygon points="145.9 92.1 152.1 96.1 158.3 92.5 152.1 88.7" fill="#eaff33"/>
<polygon points="158.3 92.5 164.6 96.7 170.8 93.2 164.6 89.1" fill="#e2ff33"/>
<polygon points="170.8 93.2 177.1 97.6 183.3 94.2 177.1 89.9" fill="#d4ff33"/>
<polygon points="183.3 94.2 189.6 98.9 195.8 95.6 189.6 91" fill="#c0ff33"/>
<polygon points="195.8 95.6 202 100.5 208.3 97.3 202.1 92.4" fill="#a6ff33"/>
<polygon points="208.3 97.3 214.4 102.5 220.7 99.4 214.5 94.2" fill="#86ff33"/>
<polygon points="220.7 99.4 226.9 104.8 233.1 101.8 227 96.4" fill="#60ff33"/>
<polygon points="114.7 96.3 121 99.9 127.2 95.9 120.9 92.5" fill="#c2ff33"/>
<polygon points="127.2 95.9 133.4 99.7 139.6 95.8 133.4 92.2" fill="#c8ff33"/>
<polygon points="139.6 95.8 145.9 99.8 152.1 96.1 145.9 92.1" fill="#c7ff33"/>
<polygon points="152.1 96.1 158.4 100.3 164.6 96.7 158.3 92.5" fill="#c0ff33"/>
<polygon points="164.6 96.7 170.8 101.2 177.1 97.6 170.8 93.2" fill="#b4ff33"/>
<polygon points="177.1 97.6 183.3 102.4 189.6 98.9 183.3 94.2" fill="#a1ff33"/>
<polygon points="189.6 98.9 195.8 104 202 100.5 195.8 95.6" fill="#89ff33"/>
<polygon points="202 100.5 208.2 105.9 214.4 102.5 208.3 97.3" fill="#6bff33"/>
<polygon points="214.4 102.5 220.6 108.1 226.9 104.8 220.7 99.4" fill="#47ff33"/>
<polygon points="121 99.9 127.2 103.7 133.4 99.7 127.2 95.9" fill="#a0ff33"/>
<polygon points="133.4 99.7 139.7 103.8 145.9 99.8 139.6 95.8" fill="#a1ff33"/>
<polygon points="145.9 99.8 152.2 104.2 158.4 100.3 152.1 96.1" fill="#9cff33"/>
<polygon points="158.4 100.3 164.6 105 170.8 101.2 164.6 96.7" fill="#91ff33"/>
<polygon points="170.8 101.2 177.1 106.1 183.3 102.4 177.1 97.6" fill="#80ff33"/>
<polygon points="183.3 102.4 189.5 107.6 195.8 104 189.6 98.9" fill="#6aff33"/>
<polygon points="195.8 104 201.9 109.4 208.2 105.9 202 100.5" fill="#4dff33"/>
<polygon points="208.2 105.9 214.3 111.6 220.6 108.1 214.4 102.5" fill="#33ff3d"/>
<polygon points="127.2 103.7 133.5 107.9 139.7 103.8 133.4 99.7" fill="#79ff33"/>
<polygon points="139.7 103.8 145.9 108.3 152.2 104.2 145.9 99.8" fill="#75ff33"/>
<polygon points="152.2 104.2 158.4 109 164.6 105 158.4 100.3" fill="#6cff33"/>
<polygon points="164.6 105 170.8 110 177.1 106.1 170.8 101.2" fill="#5dff33"/>
<polygon points="177.1 106.1 183.3 111.4 189.5 107.6 183.3 102.4" fill="#48ff33"/>
<polygon points="189.5 107.6 195.7 113.1 201.9 109.4 195.8 104" fill="#33ff3a"/>
<polygon points="201.9 109.4 208.1 115.2 214.3 111.6 208.2 105.9" fill="#33ff61"/>
<polygon points="133.5 107.9 139.8 112.5 145.9 108.3 139.7 103.8" fill="#4bff33"/>
<polygon points="145.9 108.3 152.2 113.1 158.4 109 152.2 104.2" fill="#44ff33"/>
<polygon points="158.4 109 164.6 114.1 170.8 110 164.6 105" fill="#36ff33"/>
<polygon points="170.8 110 177 115.4 183.3 111.4 177.1 106.1" fill="#33ff46"/>
<polygon points="183.3 111.4 189.4 117 195.7 113.1 189.5 107.6" fill="#33ff64"/>
<polygon points="195.7 113.1 201.8 119 208.1 115.2 201.9 109.4" fill="#33ff89"/>
<polygon points="139.8 112.5 146 117.5 152.2 113.1 145.9 108.3" fill="#33ff52"/>
<polygon points="152.2 113.1 158.4 118.4 164.6 114.1 158.4 109" fill="#33ff60"/>
<polygon points="164.6 114.1 170.8 119.6 177 115.4 170.8 110" fill="#33ff75"/>
<polygon points="177 115.4 183.2 121.2 189.4 117 183.3 111.4" fill="#33ff91"/>
<polygon points="189.4 117 195.6 123.1 201.8 119 195.7 113.1" fill="#33ffb4"/>
<polygon points="146 117.5 152.2 122.8 158.4 118.4 152.2 113.1" fill="#33ff94"/>
<polygon points="158.4 118.4 164.6 124 170.8 119.6 164.6 114.1" fill="#33ffa8"/>
<polygon points="170.8 119.6 177 125.5 183.2 121.2 177 115.4" fill="#33ffc2"/>
<polygon points="183.2 121.2 189.4 127.3 195.6 123.1 189.4 117" fill="#33ffdd"/>
<polygon points="152.2 122.8 158.4 128.6 164.6 124 158.4 118.4" fill="#33ffdc"/>
<polygon points="164.6 124 170.8 130 177 125.5 170.8 119.6" fill="#33ffe3"/>
<polygon points="177 125.5 183.2 131.7 189.4 127.3 183.2 121.2" fill="#33ffeb"/>
<polygon points="158.4 128.6 164.6 134.7 170.8 130 164.6 124" fill="#33fff2"/>
<polygon points="170.8 130 177 136.4 183.2 131.7 177 125.5" fill="#33fffb"/>
<polygon points="164.6 134.7 170.8 141.2 177 136.4 170.8 130" fill="#33e6ff"/>
</g>
<circle cx="45.8" cy="71.4" r="2.1" fill="#c00000" stroke="#2a0000" stroke-width="0.7"/>
<circle cx="170.8" cy="58.1" r="2.1" fill="#c00000" stroke="#2a0000" stroke-width="0.7"/>
<circle cx="170.8" cy="60.2" r="2.1" fill="#c00000" stroke="#2a0000" stroke-width="0.7"/>
<circle cx="170.8" cy="139.5" r="2.1" fill="#c00000" stroke="#2a0000" stroke-width="0.7"/>
<circle cx="295.2" cy="88" r="2" fill="#fff0f0" stroke="#333" stroke-width="0.7"/>
<path d="M55.2 305.7L174.5 277L293.9 305.7M56.1 326.4L174.5 295.7L292.9 326.4M57 347L174.5 314.5L291.9 347M57.9 367.7L174.5 333.2L290.9 367.7M58.8 388.3L174.4 351.9L289.8 388.3M59.7 409L174.4 370.6L288.8 409M60.6 429.7L174.4 389.4L287.8 429.7M60.6 429.7L55.2 305.7M83.4 421.6L79.1 300M106.1 413.5L102.9 294.2M128.9 405.5L126.8 288.5M151.7 397.4L150.6 282.7M174.4 389.4L174.5 277M174.4 389.4L174.5 277M202.8 399.4L204.3 284.2M231.1 409.5L234.2 291.4M259.5 419.6L264 298.5M287.8 429.7L293.9 305.7M55.2 305.7L62.3 468.3M174.5 277L174.4 424.4M293.9 305.7L285.9 468.3" fill="none" stroke="#111" stroke-width="0.95"/>
<circle cx="55.2" cy="305.7" r="1.15" fill="#111"/>
<circle cx="56.1" cy="326.4" r="1.15" fill="#111"/>
<circle cx="57" cy="347" r="1.15" fill="#111"/>
<circle cx="57.9" cy="367.7" r="1.15" fill="#111"/>
<circle cx="58.8" cy="388.3" r="1.15" fill="#111"/>
<circle cx="59.7" cy="409" r="1.15" fill="#111"/>
<circle cx="60.6" cy="429.7" r="1.15" fill="#111"/>
<polygon points="62.3 468.3 174.4 524.8 285.9 468.3 174.4 424.4" fill="#626262" stroke="#222" stroke-width="0.8"/>
<g clip-path="url(#f2)" fill="none" stroke-width="1.15">
<path d="M70.3 485.4L70.8 479.4L71.5 473.4L72.3 467.5L73.4 461.7L74.7 455.9L76.2 450.2M280.4 455.6L278.5 461.5L276.5 467.5L274.2 473.6L271.8 479.7L269.3 485.9L266.5 492.1" stroke="#267bf5" stroke-opacity="0.88"/>
<path d="M81.6 492.8L81.6 487.4L81.9 482.1L82.3 476.8L82.9 471.5L83.6 466.2L84.6 461L85.8 455.8L87.1 450.7L88.6 445.7M271.2 450.3L269.7 455.5L268.1 460.8L266.2 466.1L264.2 471.5L262.1 477L259.8 482.4L257.3 487.9L254.7 493.3L251.9 498.8" stroke="#26ffe8" stroke-opacity="0.88"/>
<path d="M95.1 496.5L94.8 492L94.7 487.4L94.7 482.8L94.9 478.3L95.3 473.7L95.8 469.1L96.5 464.6L97.3 460.1L98.3 455.6L99.4 451.2L100.8 446.9L102.2 442.6L103.8 438.4M260.1 446.4L258.9 450.8L257.6 455.4L256.2 459.9L254.6 464.5L252.8 469.1L251 473.8L249 478.5L246.8 483.1L244.6 487.8L242.2 492.4L239.7 497L237.1 501.6L234.4 506L231.5 510.5" stroke="#28ff26" stroke-opacity="0.88"/>
<path d="M114.7 508.9L113.7 505.7L112.8 502.3L112.1 498.9L111.4 495.4L110.9 491.9L110.6 488.3L110.3 484.7L110.2 481.1L110.2 477.4L110.4 473.7L110.7 470L111.1 466.3L111.7 462.6L112.3 459L113.2 455.3L114.1 451.7L115.2 448.2L116.4 444.6L117.7 441.2L119.1 437.8L120.7 434.4L122.3 431.1M246.8 440.7L246.1 444.2L245.3 447.8L244.3 451.4L243.3 455.1L242.1 458.8L240.8 462.5L239.4 466.3L237.8 470L236.2 473.8L234.4 477.5L232.6 481.2L230.6 484.9L228.6 488.6L226.5 492.2L224.2 495.8L221.9 499.3L219.5 502.8L217.1 506.1L214.5 509.4L211.9 512.6L209.2 515.7L206.5 518.6L203.7 521.5L200.9 524.2L198.1 526.7L195.2 529.2L192.2 531.4L189.3 533.6L186.3 535.5L183.3 537.3L180.3 538.9L177.3 540.3L174.3 541.5" stroke="#9cff26" stroke-opacity="0.88"/>
<path d="M161.2 515.9L159.3 515.7L157.3 515.3L155.5 514.9L153.6 514.3L151.8 513.5L150.1 512.7L148.4 511.7L146.8 510.6L145.2 509.4L143.7 508.1L142.3 506.7L140.9 505.2L139.7 503.5L138.5 501.8L137.3 500L136.3 498.1L135.3 496.1L134.4 494L133.6 491.8L132.9 489.6L132.3 487.4L131.7 485L131.3 482.7L130.9 480.2L130.7 477.8L130.5 475.3L130.4 472.8L130.5 470.2L130.6 467.6L130.8 465.1L131.1 462.5L131.5 459.9L132 457.3L132.5 454.8L133.2 452.2L134 449.7L134.8 447.2L135.7 444.7L136.7 442.3L137.8 439.8L139 437.5L140.2 435.2L141.6 432.9L143 430.7L144.4 428.5L146 426.4L147.6 424.3L149.2 422.4L150.9 420.4M228.1 432.4L228.1 434.7L227.9 437.1L227.7 439.5L227.4 441.9L227 444.4L226.5 446.9L225.9 449.4L225.3 452L224.5 454.6L223.7 457.2L222.8 459.8L221.8 462.4L220.7 465L219.5 467.6L218.3 470.2L217 472.8L215.6 475.3L214.1 477.9L212.6 480.3L211 482.8L209.4 485.2L207.7 487.5L206 489.8L204.2 492L202.3 494.2L200.4 496.3L198.5 498.3L196.5 500.2L194.5 502L192.5 503.7L190.4 505.4L188.4 506.9L186.3 508.3L184.2 509.6L182 510.8L179.9 511.9L177.8 512.8L175.7 513.7L173.6 514.4L171.5 514.9L169.4 515.4L167.3 515.7L165.2 515.9L163.2 515.9L161.2 515.9" stroke="#fffd26" stroke-opacity="0.88"/>
</g>
<g font-family="Liberation Sans, sans-serif">
<circle cx="62.3" cy="468.3" r="1.15" fill="#111"/>
<text transform="translate(60 473.9) scale(1.120 1)" text-anchor="end" font-size="5.9" font-weight="bold" fill="#222">40</text>
<circle cx="90.3" cy="482.4" r="1.15" fill="#111"/>
<text transform="translate(88 488) scale(1.120 1)" text-anchor="end" font-size="5.9" font-weight="bold" fill="#222">35</text>
<circle cx="118.3" cy="496.5" r="1.15" fill="#111"/>
<text transform="translate(116 502.1) scale(1.120 1)" text-anchor="end" font-size="5.9" font-weight="bold" fill="#222">30</text>
<circle cx="146.4" cy="510.7" r="1.15" fill="#111"/>
<text transform="translate(144.1 516.3) scale(1.120 1)" text-anchor="end" font-size="5.9" font-weight="bold" fill="#222">25</text>
<circle cx="174.4" cy="524.8" r="1.15" fill="#111"/>
<text transform="translate(172.1 530.4) scale(1.120 1)" text-anchor="end" font-size="5.9" font-weight="bold" fill="#222">20</text>
<circle cx="174.4" cy="524.8" r="1.15" fill="#111"/>
<text transform="translate(177.4 530.4) scale(1.120 1)" text-anchor="start" font-size="5.9" font-weight="bold" fill="#222">5</text>
<circle cx="196.7" cy="513.5" r="1.15" fill="#111"/>
<text transform="translate(199.7 519.1) scale(1.000 1)" text-anchor="start" font-size="5.9" font-weight="bold" fill="#222">5.6</text>
<circle cx="219" cy="502.2" r="1.15" fill="#111"/>
<text transform="translate(222 507.8) scale(1.000 1)" text-anchor="start" font-size="5.9" font-weight="bold" fill="#222">6.2</text>
<circle cx="241.3" cy="490.9" r="1.15" fill="#111"/>
<text transform="translate(244.3 496.5) scale(1.000 1)" text-anchor="start" font-size="5.9" font-weight="bold" fill="#222">6.8</text>
<circle cx="263.6" cy="479.6" r="1.15" fill="#111"/>
<text transform="translate(266.6 485.2) scale(1.000 1)" text-anchor="start" font-size="5.9" font-weight="bold" fill="#222">7.4</text>
<circle cx="285.9" cy="468.3" r="1.15" fill="#111"/>
<text transform="translate(288.9 473.9) scale(1.120 1)" text-anchor="start" font-size="5.9" font-weight="bold" fill="#222">8</text>
<text transform="translate(52.5 303.9) scale(1.120 1)" text-anchor="end" font-size="5.9" font-weight="bold" fill="#222">8</text>
<text transform="translate(53.4 324.6) scale(1.120 1)" text-anchor="end" font-size="5.9" font-weight="bold" fill="#222">6</text>
<text transform="translate(54.3 345.2) scale(1.120 1)" text-anchor="end" font-size="5.9" font-weight="bold" fill="#222">4</text>
<text transform="translate(55.2 365.9) scale(1.120 1)" text-anchor="end" font-size="5.9" font-weight="bold" fill="#222">2</text>
<text transform="translate(56.1 386.5) scale(1.120 1)" text-anchor="end" font-size="5.9" font-weight="bold" fill="#222">0</text>
<text transform="translate(57 407.2) scale(1.120 1)" text-anchor="end" font-size="5.9" font-weight="bold" fill="#222">-2</text>
<text transform="translate(57.9 427.9) scale(1.120 1)" text-anchor="end" font-size="5.9" font-weight="bold" fill="#222">-4</text>
<text transform="translate(39.7 520) scale(1.060 1)" text-anchor="start" font-size="5.75" font-weight="bold" fill="#333">A: Bacterial supernatant</text>
<text transform="translate(265 520) scale(1.060 1)" text-anchor="start" font-size="5.75" font-weight="bold" fill="#333">C: pH</text>
<text transform="translate(20 390) rotate(-90) scale(0.850 1)" text-anchor="middle" font-size="6.0" fill="#222">R1</text>
</g>
<g stroke="#1c1c1c" stroke-width="0.5" stroke-linejoin="round">
<polygon points="168.6 301.8 174.5 302.6 180.4 300.9 174.5 300" fill="#ffc533"/>
<polygon points="162.7 303.8 168.6 304.4 174.5 302.6 168.6 301.8" fill="#ffc933"/>
<polygon points="174.5 302.6 180.4 303.5 186.3 302.1 180.4 300.9" fill="#ffb933"/>
<polygon points="156.8 305.9 162.7 306.3 168.6 304.4 162.7 303.8" fill="#ffd133"/>
<polygon points="168.6 304.4 174.5 305.2 180.4 303.5 174.5 302.6" fill="#ffba33"/>
<polygon points="180.4 303.5 186.3 304.8 192.2 303.5 186.3 302.1" fill="#ffb233"/>
<polygon points="150.9 308.3 156.8 308.5 162.7 306.3 156.8 305.9" fill="#ffdc33"/>
<polygon points="162.7 306.3 168.6 307 174.5 305.2 168.6 304.4" fill="#ffbe33"/>
<polygon points="174.5 305.2 180.4 306.3 186.3 304.8 180.4 303.5" fill="#ffb033"/>
<polygon points="186.3 304.8 192.2 306.4 198.1 305.2 192.2 303.5" fill="#ffb133"/>
<polygon points="145 310.8 150.9 310.9 156.8 308.5 150.9 308.3" fill="#ffea33"/>
<polygon points="156.8 308.5 162.7 309 168.6 307 162.7 306.3" fill="#ffc633"/>
<polygon points="168.6 307 174.5 308 180.4 306.3 174.5 305.2" fill="#ffb133"/>
<polygon points="180.4 306.3 186.3 307.7 192.2 306.4 186.3 304.8" fill="#ffab33"/>
<polygon points="192.2 306.4 198.1 308.2 204 307.2 198.1 305.2" fill="#ffb533"/>
<polygon points="139.1 313.5 145 313.4 150.9 310.9 145 310.8" fill="#fff533"/>
<polygon points="150.9 310.9 156.8 311.2 162.7 309 156.8 308.5" fill="#ffd133"/>
<polygon points="162.7 309 168.6 309.8 174.5 308 168.6 307" fill="#ffb633"/>
<polygon points="174.5 308 180.4 309.2 186.3 307.7 180.4 306.3" fill="#ffa933"/>
<polygon points="186.3 307.7 192.2 309.3 198.1 308.2 192.2 306.4" fill="#ffac33"/>
<polygon points="198.1 308.2 204 310.3 209.9 309.5 204 307.2" fill="#ffbe33"/>
<polygon points="133.2 316.4 139.1 316.2 145 313.4 139.1 313.5" fill="#fff733"/>
<polygon points="145 313.4 150.9 313.6 156.8 311.2 150.9 310.9" fill="#ffe033"/>
<polygon points="156.8 311.2 162.7 311.8 168.6 309.8 162.7 309" fill="#ffbd33"/>
<polygon points="168.6 309.8 174.5 310.9 180.4 309.2 174.5 308" fill="#ffaa33"/>
<polygon points="180.4 309.2 186.3 310.7 192.2 309.3 186.3 307.7" fill="#ffa633"/>
<polygon points="192.2 309.3 198.1 311.3 204 310.3 198.1 308.2" fill="#ffb233"/>
<polygon points="204 310.3 209.9 312.7 215.8 312 209.9 309.5" fill="#ffcc33"/>
<polygon points="127.3 319.5 133.2 319.1 139.1 316.2 133.2 316.4" fill="#fff933"/>
<polygon points="139.1 316.2 145 316.2 150.9 313.6 145 313.4" fill="#fff233"/>
<polygon points="150.9 313.6 156.8 314.1 162.7 311.8 156.8 311.2" fill="#ffc933"/>
<polygon points="162.7 311.8 168.6 312.7 174.5 310.9 168.6 309.8" fill="#ffaf33"/>
<polygon points="174.5 310.9 180.4 312.2 186.3 310.7 180.4 309.2" fill="#ffa433"/>
<polygon points="186.3 310.7 192.2 312.5 198.1 311.3 192.2 309.3" fill="#ffa933"/>
<polygon points="198.1 311.3 204 313.5 209.9 312.7 204 310.3" fill="#ffbc33"/>
<polygon points="209.9 312.7 215.8 315.4 221.7 314.9 215.8 312" fill="#ffe033"/>
<polygon points="121.5 322.8 127.3 322.3 133.2 319.1 127.3 319.5" fill="#fffc33"/>
<polygon points="133.2 319.1 139.1 319 145 316.2 139.1 316.2" fill="#fff633"/>
<polygon points="145 316.2 150.8 316.5 156.8 314.1 150.9 313.6" fill="#ffd733"/>
<polygon points="156.8 314.1 162.7 314.8 168.6 312.7 162.7 311.8" fill="#ffb733"/>
<polygon points="168.6 312.7 174.5 313.9 180.4 312.2 174.5 310.9" fill="#ffa533"/>
<polygon points="180.4 312.2 186.3 313.8 192.2 312.5 186.3 310.7" fill="#ffa333"/>
<polygon points="192.2 312.5 198.1 314.5 204 313.5 198.1 311.3" fill="#ffb033"/>
<polygon points="204 313.5 209.9 316 215.8 315.4 209.9 312.7" fill="#ffcd33"/>
<polygon points="215.8 315.4 221.7 318.4 227.6 318 221.7 314.9" fill="#fff533"/>
<polygon points="115.6 326.4 121.5 325.6 127.3 322.3 121.5 322.8" fill="#ffff33"/>
<polygon points="127.3 322.3 133.2 322 139.1 319 133.2 319.1" fill="#fff833"/>
<polygon points="139.1 319 145 319.1 150.8 316.5 145 316.2" fill="#ffe933"/>
<polygon points="150.8 316.5 156.7 317.1 162.7 314.8 156.8 314.1" fill="#ffc233"/>
<polygon points="162.7 314.8 168.6 315.8 174.5 313.9 168.6 312.7" fill="#ffaa33"/>
<polygon points="174.5 313.9 180.4 315.4 186.3 313.8 180.4 312.2" fill="#ffa133"/>
<polygon points="186.3 313.8 192.2 315.7 198.1 314.5 192.2 312.5" fill="#ffa733"/>
<polygon points="198.1 314.5 204 316.9 209.9 316 204 313.5" fill="#ffbd33"/>
<polygon points="209.9 316 215.8 318.9 221.7 318.4 215.8 315.4" fill="#ffe233"/>
<polygon points="221.7 318.4 227.6 321.6 233.4 321.5 227.6 318" fill="#fff833"/>
<polygon points="109.8 330.1 115.6 329.2 121.5 325.6 115.6 326.4" fill="#e4ff33"/>
<polygon points="121.5 325.6 127.3 325.2 133.2 322 127.3 322.3" fill="#fffb33"/>
<polygon points="133.2 322 139.1 321.9 145 319.1 139.1 319" fill="#fff633"/>
<polygon points="145 319.1 150.8 319.5 156.7 317.1 150.8 316.5" fill="#ffd133"/>
<polygon points="156.7 317.1 162.7 317.9 168.6 315.8 162.7 314.8" fill="#ffb233"/>
<polygon points="168.6 315.8 174.5 317.1 180.4 315.4 174.5 313.9" fill="#ffa233"/>
<polygon points="180.4 315.4 186.3 317.1 192.2 315.7 186.3 313.8" fill="#ffa233"/>
<polygon points="192.2 315.7 198.1 317.9 204 316.9 198.1 314.5" fill="#ffb133"/>
<polygon points="204 316.9 209.9 319.6 215.8 318.9 209.9 316" fill="#ffcf33"/>
<polygon points="215.8 318.9 221.7 322 227.6 321.6 221.7 318.4" fill="#fff533"/>
<polygon points="227.6 321.6 233.4 325.2 239.2 325.2 233.4 321.5" fill="#fffb33"/>
<polygon points="104 334 109.8 333 115.6 329.2 109.8 330.1" fill="#c3ff33"/>
<polygon points="115.6 329.2 121.5 328.6 127.3 325.2 121.5 325.6" fill="#fffe33"/>
<polygon points="127.3 325.2 133.2 324.9 139.1 321.9 133.2 322" fill="#fff833"/>
<polygon points="139.1 321.9 144.9 322.2 150.8 319.5 145 319.1" fill="#ffe333"/>
<polygon points="150.8 319.5 156.7 320.2 162.7 317.9 156.7 317.1" fill="#ffbd33"/>
<polygon points="162.7 317.9 168.6 319 174.5 317.1 168.6 315.8" fill="#ffa733"/>
<polygon points="174.5 317.1 180.4 318.7 186.3 317.1 180.4 315.4" fill="#ffa033"/>
<polygon points="186.3 317.1 192.2 319.1 198.1 317.9 192.2 315.7" fill="#ffa833"/>
<polygon points="198.1 317.9 204 320.4 209.9 319.6 204 316.9" fill="#ffbf33"/>
<polygon points="209.9 319.6 215.8 322.5 221.7 322 215.8 318.9" fill="#ffe633"/>
<polygon points="221.7 322 227.5 325.4 233.4 325.2 227.6 321.6" fill="#fff833"/>
<polygon points="233.4 325.2 239.2 329.1 245.1 329.3 239.2 325.2" fill="#fffe33"/>
<polygon points="98.2 338.2 104 336.9 109.8 333 104 334" fill="#a0ff33"/>
<polygon points="109.8 333 115.6 332.2 121.5 328.6 115.6 329.2" fill="#ecff33"/>
<polygon points="121.5 328.6 127.3 328.2 133.2 324.9 127.3 325.2" fill="#fffa33"/>
<polygon points="133.2 324.9 139.1 325 144.9 322.2 139.1 321.9" fill="#fff533"/>
<polygon points="144.9 322.2 150.8 322.7 156.7 320.2 150.8 319.5" fill="#ffcc33"/>
<polygon points="156.7 320.2 162.6 321.1 168.6 319 162.7 317.9" fill="#ffaf33"/>
<polygon points="168.6 319 174.5 320.4 180.4 318.7 174.5 317.1" fill="#ffa133"/>
<polygon points="180.4 318.7 186.3 320.5 192.2 319.1 186.3 317.1" fill="#ffa233"/>
<polygon points="192.2 319.1 198.1 321.5 204 320.4 198.1 317.9" fill="#ffb333"/>
<polygon points="204 320.4 209.9 323.2 215.8 322.5 209.9 319.6" fill="#ffd333"/>
<polygon points="215.8 322.5 221.7 325.8 227.5 325.4 221.7 322" fill="#fff633"/>
<polygon points="227.5 325.4 233.4 329.2 239.2 329.1 233.4 325.2" fill="#fffb33"/>
<polygon points="239.2 329.1 245 333.4 250.8 333.7 245.1 329.3" fill="#dfff33"/>
<polygon points="92.4 342.5 98.2 341.1 104 336.9 98.2 338.2" fill="#7aff33"/>
<polygon points="104 336.9 109.8 336 115.6 332.2 109.8 333" fill="#ccff33"/>
<polygon points="115.6 332.2 121.4 331.6 127.3 328.2 121.5 328.6" fill="#fffd33"/>
<polygon points="127.3 328.2 133.2 328.1 139.1 325 133.2 324.9" fill="#fff733"/>
<polygon points="139.1 325 144.9 325.3 150.8 322.7 144.9 322.2" fill="#ffde33"/>
<polygon points="150.8 322.7 156.7 323.4 162.6 321.1 156.7 320.2" fill="#ffba33"/>
<polygon points="162.6 321.1 168.6 322.4 174.5 320.4 168.6 319" fill="#ffa633"/>
<polygon points="174.5 320.4 180.4 322.1 186.3 320.5 180.4 318.7" fill="#ffa033"/>
<polygon points="186.3 320.5 192.2 322.7 198.1 321.5 192.2 319.1" fill="#ffaa33"/>
<polygon points="198.1 321.5 204 324.1 209.9 323.2 204 320.4" fill="#ffc433"/>
<polygon points="209.9 323.2 215.8 326.3 221.7 325.8 215.8 322.5" fill="#ffec33"/>
<polygon points="221.7 325.8 227.5 329.4 233.4 329.2 227.5 325.4" fill="#fff933"/>
<polygon points="233.4 329.2 239.2 333.2 245 333.4 239.2 329.1" fill="#fdff33"/>
<polygon points="245 333.4 250.8 337.9 256.6 338.4 250.8 333.7" fill="#b4ff33"/>
<polygon points="86.6 347.1 92.4 345.6 98.2 341.1 92.4 342.5" fill="#51ff33"/>
<polygon points="98.2 341.1 104 340 109.8 336 104 336.9" fill="#a9ff33"/>
<polygon points="109.8 336 115.6 335.3 121.4 331.6 115.6 332.2" fill="#f3ff33"/>
<polygon points="121.4 331.6 127.3 331.3 133.2 328.1 127.3 328.2" fill="#fffa33"/>
<polygon points="133.2 328.1 139 328.2 144.9 325.3 139.1 325" fill="#fff433"/>
<polygon points="144.9 325.3 150.8 326 156.7 323.4 150.8 322.7" fill="#ffc933"/>
<polygon points="156.7 323.4 162.6 324.5 168.6 322.4 162.6 321.1" fill="#ffae33"/>
<polygon points="168.6 322.4 174.5 323.9 180.4 322.1 174.5 320.4" fill="#ffa233"/>
<polygon points="180.4 322.1 186.3 324.1 192.2 322.7 186.3 320.5" fill="#ffa533"/>
<polygon points="192.2 322.7 198.1 325.2 204 324.1 198.1 321.5" fill="#ffb833"/>
<polygon points="204 324.1 209.9 327 215.8 326.3 209.9 323.2" fill="#ffd933"/>
<polygon points="215.8 326.3 221.7 329.7 227.5 329.4 221.7 325.8" fill="#fff733"/>
<polygon points="227.5 329.4 233.4 333.3 239.2 333.2 233.4 329.2" fill="#fffc33"/>
<polygon points="239.2 333.2 245 337.6 250.8 337.9 245 333.4" fill="#d5ff33"/>
<polygon points="250.8 337.9 256.6 342.8 262.3 343.4 256.6 338.4" fill="#85ff33"/>
<polygon points="80.9 351.9 86.6 350.2 92.4 345.6 86.6 347.1" fill="#33ff4a"/>
<polygon points="92.4 345.6 98.2 344.2 104 340 98.2 341.1" fill="#82ff33"/>
<polygon points="104 340 109.8 339.1 115.6 335.3 109.8 336" fill="#d3ff33"/>
<polygon points="115.6 335.3 121.4 334.8 127.3 331.3 121.4 331.6" fill="#fffd33"/>
<polygon points="127.3 331.3 133.2 331.3 139 328.2 133.2 328.1" fill="#fff733"/>
<polygon points="139 328.2 144.9 328.7 150.8 326 144.9 325.3" fill="#ffdc33"/>
<polygon points="150.8 326 156.7 326.9 162.6 324.5 156.7 323.4" fill="#ffb933"/>
<polygon points="162.6 324.5 168.6 325.9 174.5 323.9 168.6 322.4" fill="#ffa733"/>
<polygon points="174.5 323.9 180.4 325.7 186.3 324.1 180.4 322.1" fill="#ffa333"/>
<polygon points="186.3 324.1 192.2 326.4 198.1 325.2 192.2 322.7" fill="#ffaf33"/>
<polygon points="198.1 325.2 204 327.9 209.9 327 204 324.1" fill="#ffca33"/>
<polygon points="209.9 327 215.8 330.3 221.7 329.7 215.8 326.3" fill="#fff433"/>
<polygon points="221.7 329.7 227.5 333.5 233.4 333.3 227.5 329.4" fill="#fffa33"/>
<polygon points="233.4 333.3 239.2 337.5 245 337.6 239.2 333.2" fill="#f3ff33"/>
<polygon points="245 337.6 250.8 342.3 256.6 342.8 250.8 337.9" fill="#a9ff33"/>
<polygon points="256.6 342.8 262.3 348 268.1 348.7 262.3 343.4" fill="#52ff33"/>
<polygon points="75.2 356.9 80.9 355 86.6 350.2 80.9 351.9" fill="#33ff99"/>
<polygon points="86.6 350.2 92.4 348.7 98.2 344.2 92.4 345.6" fill="#59ff33"/>
<polygon points="98.2 344.2 103.9 343.2 109.8 339.1 104 340" fill="#afff33"/>
<polygon points="109.8 339.1 115.6 338.5 121.4 334.8 115.6 335.3" fill="#f9ff33"/>
<polygon points="121.4 334.8 127.3 334.6 133.2 331.3 127.3 331.3" fill="#fff933"/>
<polygon points="133.2 331.3 139 331.6 144.9 328.7 139 328.2" fill="#fff133"/>
<polygon points="144.9 328.7 150.8 329.4 156.7 326.9 150.8 326" fill="#ffc833"/>
<polygon points="156.7 326.9 162.6 328.1 168.6 325.9 162.6 324.5" fill="#ffaf33"/>
<polygon points="168.6 325.9 174.5 327.5 180.4 325.7 174.5 323.9" fill="#ffa533"/>
<polygon points="180.4 325.7 186.3 327.9 192.2 326.4 186.3 324.1" fill="#ffaa33"/>
<polygon points="192.2 326.4 198.1 329 204 327.9 198.1 325.2" fill="#ffbe33"/>
<polygon points="204 327.9 209.9 331 215.8 330.3 209.9 327" fill="#ffe233"/>
<polygon points="215.8 330.3 221.6 333.8 227.5 333.5 221.7 329.7" fill="#fff733"/>
<polygon points="227.5 333.5 233.3 337.5 239.2 337.5 233.4 333.3" fill="#fffd33"/>
<polygon points="239.2 337.5 245 342 250.8 342.3 245 337.6" fill="#caff33"/>
<polygon points="250.8 342.3 256.5 347.3 262.3 348 256.6 342.8" fill="#78ff33"/>
<polygon points="262.3 348 268 353.5 273.7 354.4 268.1 348.7" fill="#33ff5d"/>
<polygon points="69.5 362.2 75.2 360.1 80.9 355 75.2 356.9" fill="#33ffed"/>
<polygon points="80.9 355 86.6 353.4 92.4 348.7 86.6 350.2" fill="#33ff3c"/>
<polygon points="92.4 348.7 98.1 347.5 103.9 343.2 98.2 344.2" fill="#89ff33"/>
<polygon points="103.9 343.2 109.8 342.4 115.6 338.5 109.8 339.1" fill="#d8ff33"/>
<polygon points="115.6 338.5 121.4 338.2 127.3 334.6 121.4 334.8" fill="#fffc33"/>
<polygon points="127.3 334.6 133.2 334.7 139 331.6 133.2 331.3" fill="#fff733"/>
<polygon points="139 331.6 144.9 332.2 150.8 329.4 144.9 328.7" fill="#ffdb33"/>
<polygon points="150.8 329.4 156.7 330.4 162.6 328.1 156.7 326.9" fill="#ffba33"/>
<polygon points="162.6 328.1 168.6 329.5 174.5 327.5 168.6 325.9" fill="#ffa933"/>
<polygon points="174.5 327.5 180.4 329.5 186.3 327.9 180.4 325.7" fill="#ffa833"/>
<polygon points="186.3 327.9 192.2 330.3 198.1 329 192.2 326.4" fill="#ffb533"/>
<polygon points="198.1 329 204 331.9 209.9 331 204 327.9" fill="#ffd233"/>
<polygon points="209.9 331 215.8 334.4 221.6 333.8 215.8 330.3" fill="#fff533"/>
<polygon points="221.6 333.8 227.5 337.7 233.3 337.5 227.5 333.5" fill="#fffb33"/>
<polygon points="233.3 337.5 239.2 341.9 245 342 239.2 337.5" fill="#e8ff33"/>
<polygon points="245 342 250.8 346.9 256.5 347.3 250.8 342.3" fill="#9cff33"/>
<polygon points="256.5 347.3 262.3 352.7 268 353.5 262.3 348" fill="#43ff33"/>
<polygon points="268 353.5 273.7 359.3 279.4 360.4 273.7 354.4" fill="#33ffc3"/>
<polygon points="63.8 367.7 69.5 365.4 75.2 360.1 69.5 362.2" fill="#33c9fb"/>
<polygon points="75.2 360.1 80.9 358.3 86.6 353.4 80.9 355" fill="#33ff8b"/>
<polygon points="86.6 353.4 92.4 352 98.1 347.5 92.4 348.7" fill="#60ff33"/>
<polygon points="98.1 347.5 103.9 346.5 109.8 342.4 103.9 343.2" fill="#b5ff33"/>
<polygon points="109.8 342.4 115.6 341.9 121.4 338.2 115.6 338.5" fill="#fcff33"/>
<polygon points="121.4 338.2 127.3 338.1 133.2 334.7 127.3 334.6" fill="#fff933"/>
<polygon points="133.2 334.7 139 335.1 144.9 332.2 139 331.6" fill="#fff133"/>
<polygon points="144.9 332.2 150.8 333 156.7 330.4 150.8 329.4" fill="#ffca33"/>
<polygon points="156.7 330.4 162.6 331.7 168.6 329.5 162.6 328.1" fill="#ffb233"/>
<polygon points="168.6 329.5 174.5 331.3 180.4 329.5 174.5 327.5" fill="#ffa933"/>
<polygon points="180.4 329.5 186.3 331.7 192.2 330.3 186.3 327.9" fill="#ffb033"/>
<polygon points="192.2 330.3 198.1 333 204 331.9 198.1 329" fill="#ffc633"/>
<polygon points="204 331.9 209.9 335.2 215.8 334.4 209.9 331" fill="#ffec33"/>
<polygon points="215.8 334.4 221.6 338.1 227.5 337.7 221.6 333.8" fill="#fff933"/>
<polygon points="227.5 337.7 233.3 341.9 239.2 341.9 233.3 337.5" fill="#ffff33"/>
<polygon points="239.2 341.9 244.9 346.6 250.8 346.9 245 342" fill="#bdff33"/>
<polygon points="250.8 346.9 256.5 352.1 262.3 352.7 256.5 347.3" fill="#6aff33"/>
<polygon points="262.3 352.7 268 358.4 273.7 359.3 268 353.5" fill="#33ff79"/>
<polygon points="273.7 359.3 279.3 365.5 285 366.8 279.4 360.4" fill="#33d9fc"/>
<polygon points="58.2 373.4 63.8 371 69.5 365.4 63.8 367.7" fill="#3382f5"/>
<polygon points="69.5 365.4 75.1 363.5 80.9 358.3 75.2 360.1" fill="#33ffdf"/>
<polygon points="80.9 358.3 86.6 356.8 92.4 352 86.6 353.4" fill="#34ff33"/>
<polygon points="92.4 352 98.1 350.9 103.9 346.5 98.1 347.5" fill="#8eff33"/>
<polygon points="103.9 346.5 109.7 345.9 115.6 341.9 109.8 342.4" fill="#dcff33"/>
<polygon points="115.6 341.9 121.4 341.7 127.3 338.1 121.4 338.2" fill="#fffc33"/>
<polygon points="127.3 338.1 133.2 338.3 139 335.1 133.2 334.7" fill="#fff633"/>
<polygon points="139 335.1 144.9 335.8 150.8 333 144.9 332.2" fill="#ffdc33"/>
<polygon points="150.8 333 156.7 334.1 162.6 331.7 156.7 330.4" fill="#ffbd33"/>
<polygon points="162.6 331.7 168.5 333.4 174.5 331.3 168.6 329.5" fill="#ffae33"/>
<polygon points="174.5 331.3 180.4 333.4 186.3 331.7 180.4 329.5" fill="#ffae33"/>
<polygon points="186.3 331.7 192.2 334.3 198.1 333 192.2 330.3" fill="#ffbe33"/>
<polygon points="198.1 333 204 336.1 209.9 335.2 204 331.9" fill="#ffdc33"/>
<polygon points="209.9 335.2 215.7 338.7 221.6 338.1 215.8 334.4" fill="#fff733"/>
<polygon points="221.6 338.1 227.5 342.2 233.3 341.9 227.5 337.7" fill="#fffc33"/>
<polygon points="233.3 341.9 239.1 346.5 244.9 346.6 239.2 341.9" fill="#dbff33"/>
<polygon points="244.9 346.6 250.7 351.6 256.5 352.1 250.8 346.9" fill="#8dff33"/>
<polygon points="256.5 352.1 262.2 357.6 268 358.4 262.3 352.7" fill="#33ff33"/>
<polygon points="268 358.4 273.6 364.4 279.3 365.5 273.7 359.3" fill="#33ffe1"/>
<polygon points="279.3 365.5 284.9 372.1 290.6 373.5 285 366.8" fill="#3381f5"/>
<polygon points="63.8 371 69.4 368.8 75.1 363.5 69.5 365.4" fill="#33d4fc"/>
<polygon points="75.1 363.5 80.8 361.7 86.6 356.8 80.9 358.3" fill="#33ff80"/>
<polygon points="86.6 356.8 92.3 355.5 98.1 350.9 92.4 352" fill="#65ff33"/>
<polygon points="98.1 350.9 103.9 350 109.7 345.9 103.9 346.5" fill="#b8ff33"/>
<polygon points="109.7 345.9 115.6 345.4 121.4 341.7 115.6 341.9" fill="#feff33"/>
<polygon points="121.4 341.7 127.3 341.7 133.2 338.3 127.3 338.1" fill="#fff933"/>
<polygon points="133.2 338.3 139 338.8 144.9 335.8 139 335.1" fill="#fff233"/>
<polygon points="144.9 335.8 150.8 336.8 156.7 334.1 150.8 333" fill="#ffcd33"/>
<polygon points="156.7 334.1 162.6 335.6 168.5 333.4 162.6 331.7" fill="#ffb733"/>
<polygon points="168.5 333.4 174.5 335.3 180.4 333.4 174.5 331.3" fill="#ffb033"/>
<polygon points="180.4 333.4 186.3 335.8 192.2 334.3 186.3 331.7" fill="#ffb933"/>
<polygon points="192.2 334.3 198.1 337.2 204 336.1 198.1 333" fill="#ffd033"/>
<polygon points="204 336.1 209.9 339.5 215.7 338.7 209.9 335.2" fill="#fff533"/>
<polygon points="215.7 338.7 221.6 342.6 227.5 342.2 221.6 338.1" fill="#fffa33"/>
<polygon points="227.5 342.2 233.3 346.5 239.1 346.5 233.3 341.9" fill="#f6ff33"/>
<polygon points="239.1 346.5 244.9 351.3 250.7 351.6 244.9 346.6" fill="#aeff33"/>
<polygon points="250.7 351.6 256.5 357 262.2 357.6 256.5 352.1" fill="#5aff33"/>
<polygon points="262.2 357.6 267.9 363.5 273.6 364.4 268 358.4" fill="#33ff96"/>
<polygon points="273.6 364.4 279.3 370.8 284.9 372.1 279.3 365.5" fill="#33c1fa"/>
<polygon points="69.4 368.8 75.1 366.9 80.8 361.7 75.1 363.5" fill="#33ffd4"/>
<polygon points="80.8 361.7 86.6 360.3 92.3 355.5 86.6 356.8" fill="#39ff33"/>
<polygon points="92.3 355.5 98.1 354.4 103.9 350 98.1 350.9" fill="#92ff33"/>
<polygon points="103.9 350 109.7 349.4 115.6 345.4 109.7 345.9" fill="#ddff33"/>
<polygon points="115.6 345.4 121.4 345.3 127.3 341.7 121.4 341.7" fill="#fffc33"/>
<polygon points="127.3 341.7 133.2 342 139 338.8 133.2 338.3" fill="#fff733"/>
<polygon points="139 338.8 144.9 339.6 150.8 336.8 144.9 335.8" fill="#ffdf33"/>
<polygon points="150.8 336.8 156.7 338 162.6 335.6 156.7 334.1" fill="#ffc233"/>
<polygon points="162.6 335.6 168.5 337.3 174.5 335.3 168.5 333.4" fill="#ffb533"/>
<polygon points="174.5 335.3 180.4 337.5 186.3 335.8 180.4 333.4" fill="#ffb733"/>
<polygon points="186.3 335.8 192.2 338.5 198.1 337.2 192.2 334.3" fill="#ffc833"/>
<polygon points="198.1 337.2 204 340.4 209.9 339.5 204 336.1" fill="#ffe833"/>
<polygon points="209.9 339.5 215.7 343.2 221.6 342.6 215.7 338.7" fill="#fff833"/>
<polygon points="221.6 342.6 227.4 346.8 233.3 346.5 227.5 342.2" fill="#fffd33"/>
<polygon points="233.3 346.5 239.1 351.2 244.9 351.3 239.1 346.5" fill="#ccff33"/>
<polygon points="244.9 351.3 250.7 356.6 256.5 357 250.7 351.6" fill="#7dff33"/>
<polygon points="256.5 357 262.2 362.7 267.9 363.5 262.2 357.6" fill="#33ff51"/>
<polygon points="267.9 363.5 273.6 369.7 279.3 370.8 273.6 364.4" fill="#33fdff"/>
<polygon points="75.1 366.9 80.8 365.3 86.6 360.3 80.8 361.7" fill="#33ff78"/>
<polygon points="86.6 360.3 92.3 359.1 98.1 354.4 92.3 355.5" fill="#68ff33"/>
<polygon points="98.1 354.4 103.9 353.7 109.7 349.4 103.9 350" fill="#baff33"/>
<polygon points="109.7 349.4 115.6 349.1 121.4 345.3 115.6 345.4" fill="#feff33"/>
<polygon points="121.4 345.3 127.3 345.5 133.2 342 127.3 341.7" fill="#fff933"/>
<polygon points="133.2 342 139 342.6 144.9 339.6 139 338.8" fill="#fff533"/>
<polygon points="144.9 339.6 150.8 340.7 156.7 338 150.8 336.8" fill="#ffd233"/>
<polygon points="156.7 338 162.6 339.6 168.5 337.3 162.6 335.6" fill="#ffbd33"/>
<polygon points="168.5 337.3 174.5 339.4 180.4 337.5 174.5 335.3" fill="#ffb833"/>
<polygon points="180.4 337.5 186.3 340 192.2 338.5 186.3 335.8" fill="#ffc333"/>
<polygon points="192.2 338.5 198.1 341.6 204 340.4 198.1 337.2" fill="#ffdd33"/>
<polygon points="204 340.4 209.8 343.9 215.7 343.2 209.9 339.5" fill="#fff633"/>
<polygon points="215.7 343.2 221.6 347.2 227.4 346.8 221.6 342.6" fill="#fffb33"/>
<polygon points="227.4 346.8 233.3 351.3 239.1 351.2 233.3 346.5" fill="#e7ff33"/>
<polygon points="239.1 351.2 244.9 356.3 250.7 356.6 244.9 351.3" fill="#9eff33"/>
<polygon points="250.7 356.6 256.4 362.1 262.2 362.7 256.5 357" fill="#48ff33"/>
<polygon points="262.2 362.7 267.9 368.8 273.6 369.7 267.9 363.5" fill="#33ffb7"/>
<polygon points="80.8 365.3 86.6 363.9 92.3 359.1 86.6 360.3" fill="#3cff33"/>
<polygon points="92.3 359.1 98.1 358.1 103.9 353.7 98.1 354.4" fill="#94ff33"/>
<polygon points="103.9 353.7 109.7 353.2 115.6 349.1 109.7 349.4" fill="#deff33"/>
<polygon points="115.6 349.1 121.4 349.1 127.3 345.5 121.4 345.3" fill="#fffc33"/>
<polygon points="127.3 345.5 133.2 345.9 139 342.6 133.2 342" fill="#fff733"/>
<polygon points="139 342.6 144.9 343.5 150.8 340.7 144.9 339.6" fill="#ffe433"/>
<polygon points="150.8 340.7 156.7 342.1 162.6 339.6 156.7 338" fill="#ffc933"/>
<polygon points="162.6 339.6 168.5 341.5 174.5 339.4 168.5 337.3" fill="#ffbe33"/>
<polygon points="174.5 339.4 180.4 341.7 186.3 340 180.4 337.5" fill="#ffc133"/>
<polygon points="186.3 340 192.2 342.9 198.1 341.6 192.2 338.5" fill="#ffd433"/>
<polygon points="198.1 341.6 204 344.9 209.8 343.9 204 340.4" fill="#fff533"/>
<polygon points="209.8 343.9 215.7 347.8 221.6 347.2 215.7 343.2" fill="#fff933"/>
<polygon points="221.6 347.2 227.4 351.6 233.3 351.3 227.4 346.8" fill="#ffff33"/>
<polygon points="233.3 351.3 239.1 356.2 244.9 356.3 239.1 351.2" fill="#bcff33"/>
<polygon points="244.9 356.3 250.6 361.7 256.4 362.1 250.7 356.6" fill="#6bff33"/>
<polygon points="256.4 362.1 262.1 368 267.9 368.8 262.2 362.7" fill="#33ff72"/>
<polygon points="86.6 363.9 92.3 362.8 98.1 358.1 92.3 359.1" fill="#6aff33"/>
<polygon points="98.1 358.1 103.9 357.5 109.7 353.2 103.9 353.7" fill="#baff33"/>
<polygon points="109.7 353.2 115.6 353 121.4 349.1 115.6 349.1" fill="#fdff33"/>
<polygon points="121.4 349.1 127.3 349.4 133.2 345.9 127.3 345.5" fill="#fff933"/>
<polygon points="133.2 345.9 139 346.6 144.9 343.5 139 342.6" fill="#fff533"/>
<polygon points="144.9 343.5 150.8 344.8 156.7 342.1 150.8 340.7" fill="#ffd833"/>
<polygon points="156.7 342.1 162.6 343.8 168.5 341.5 162.6 339.6" fill="#ffc633"/>
<polygon points="168.5 341.5 174.4 343.7 180.4 341.7 174.5 339.4" fill="#ffc333"/>
<polygon points="180.4 341.7 186.3 344.4 192.2 342.9 186.3 340" fill="#ffcf33"/>
<polygon points="192.2 342.9 198.1 346.1 204 344.9 198.1 341.6" fill="#ffeb33"/>
<polygon points="204 344.9 209.8 348.6 215.7 347.8 209.8 343.9" fill="#fff833"/>
<polygon points="215.7 347.8 221.6 352 227.4 351.6 221.6 347.2" fill="#fffd33"/>
<polygon points="227.4 351.6 233.2 356.3 239.1 356.2 233.3 351.3" fill="#d7ff33"/>
<polygon points="239.1 356.2 244.8 361.4 250.6 361.7 244.9 356.3" fill="#8cff33"/>
<polygon points="250.6 361.7 256.4 367.4 262.1 368 256.4 362.1" fill="#34ff33"/>
<polygon points="92.3 362.8 98.1 362 103.9 357.5 98.1 358.1" fill="#94ff33"/>
<polygon points="103.9 357.5 109.7 357.1 115.6 353 109.7 353.2" fill="#dcff33"/>
<polygon points="115.6 353 121.4 353.1 127.3 349.4 121.4 349.1" fill="#fffc33"/>
<polygon points="127.3 349.4 133.2 349.9 139 346.6 133.2 345.9" fill="#fff733"/>
<polygon points="139 346.6 144.9 347.7 150.8 344.8 144.9 343.5" fill="#ffeb33"/>
<polygon points="150.8 344.8 156.7 346.3 162.6 343.8 156.7 342.1" fill="#ffd233"/>
<polygon points="162.6 343.8 168.5 345.8 174.4 343.7 168.5 341.5" fill="#ffc833"/>
<polygon points="174.4 343.7 180.4 346.2 186.3 344.4 180.4 341.7" fill="#ffce33"/>
<polygon points="186.3 344.4 192.2 347.4 198.1 346.1 192.2 342.9" fill="#ffe233"/>
<polygon points="198.1 346.1 203.9 349.6 209.8 348.6 204 344.9" fill="#fff633"/>
<polygon points="209.8 348.6 215.7 352.6 221.6 352 215.7 347.8" fill="#fffb33"/>
<polygon points="221.6 352 227.4 356.5 233.2 356.3 227.4 351.6" fill="#efff33"/>
<polygon points="233.2 356.3 239 361.3 244.8 361.4 239.1 356.2" fill="#aaff33"/>
<polygon points="244.8 361.4 250.6 367 256.4 367.4 250.6 361.7" fill="#58ff33"/>
<polygon points="98.1 362 103.9 361.4 109.7 357.1 103.9 357.5" fill="#b9ff33"/>
<polygon points="109.7 357.1 115.6 357 121.4 353.1 115.6 353" fill="#faff33"/>
<polygon points="121.4 353.1 127.3 353.5 133.2 349.9 127.3 349.4" fill="#fffa33"/>
<polygon points="133.2 349.9 139 350.8 144.9 347.7 139 346.6" fill="#fff633"/>
<polygon points="144.9 347.7 150.8 349 156.7 346.3 150.8 344.8" fill="#ffe133"/>
<polygon points="156.7 346.3 162.6 348.1 168.5 345.8 162.6 343.8" fill="#ffd133"/>
<polygon points="168.5 345.8 174.4 348.1 180.4 346.2 174.4 343.7" fill="#ffcf33"/>
<polygon points="180.4 346.2 186.2 349 192.2 347.4 186.3 344.4" fill="#ffdd33"/>
<polygon points="192.2 347.4 198 350.8 203.9 349.6 198.1 346.1" fill="#fff533"/>
<polygon points="203.9 349.6 209.8 353.4 215.7 352.6 209.8 348.6" fill="#fff933"/>
<polygon points="215.7 352.6 221.5 357 227.4 356.5 221.6 352" fill="#fffe33"/>
<polygon points="227.4 356.5 233.2 361.4 239 361.3 233.2 356.3" fill="#c5ff33"/>
<polygon points="239 361.3 244.8 366.7 250.6 367 244.8 361.4" fill="#78ff33"/>
<polygon points="103.9 361.4 109.7 361.2 115.6 357 109.7 357.1" fill="#d9ff33"/>
<polygon points="115.6 357 121.4 357.2 127.3 353.5 121.4 353.1" fill="#fffd33"/>
<polygon points="127.3 353.5 133.2 354.1 139 350.8 133.2 349.9" fill="#fff833"/>
<polygon points="139 350.8 144.9 352 150.8 349 144.9 347.7" fill="#fff433"/>
<polygon points="150.8 349 156.7 350.7 162.6 348.1 156.7 346.3" fill="#ffdd33"/>
<polygon points="162.6 348.1 168.5 350.3 174.4 348.1 168.5 345.8" fill="#ffd533"/>
<polygon points="174.4 348.1 180.3 350.8 186.2 349 180.4 346.2" fill="#ffdc33"/>
<polygon points="186.2 349 192.1 352.2 198 350.8 192.2 347.4" fill="#fff233"/>
<polygon points="198 350.8 203.9 354.4 209.8 353.4 203.9 349.6" fill="#fff833"/>
<polygon points="209.8 353.4 215.7 357.6 221.5 357 215.7 352.6" fill="#fffd33"/>
<polygon points="221.5 357 227.3 361.7 233.2 361.4 227.4 356.5" fill="#ddff33"/>
<polygon points="233.2 361.4 239 366.6 244.8 366.7 239 361.3" fill="#96ff33"/>
<polygon points="109.7 361.2 115.6 361.2 121.4 357.2 115.6 357" fill="#f6ff33"/>
<polygon points="121.4 357.2 127.3 357.7 133.2 354.1 127.3 353.5" fill="#fffb33"/>
<polygon points="133.2 354.1 139 355.1 144.9 352 139 350.8" fill="#fff733"/>
<polygon points="144.9 352 150.8 353.4 156.7 350.7 150.8 349" fill="#ffec33"/>
<polygon points="156.7 350.7 162.6 352.6 168.5 350.3 162.6 348.1" fill="#ffdd33"/>
<polygon points="168.5 350.3 174.4 352.7 180.3 350.8 174.4 348.1" fill="#ffde33"/>
<polygon points="180.3 350.8 186.2 353.7 192.1 352.2 186.2 349" fill="#ffee33"/>
<polygon points="192.1 352.2 198 355.7 203.9 354.4 198 350.8" fill="#fff733"/>
<polygon points="203.9 354.4 209.8 358.5 215.7 357.6 209.8 353.4" fill="#fffb33"/>
<polygon points="215.7 357.6 221.5 362.2 227.3 361.7 221.5 357" fill="#f2ff33"/>
<polygon points="227.3 361.7 233.2 366.7 239 366.6 233.2 361.4" fill="#b1ff33"/>
<polygon points="115.6 361.2 121.4 361.5 127.3 357.7 121.4 357.2" fill="#fffd33"/>
<polygon points="127.3 357.7 133.2 358.5 139 355.1 133.2 354.1" fill="#fff933"/>
<polygon points="139 355.1 144.9 356.4 150.8 353.4 144.9 352" fill="#fff633"/>
<polygon points="150.8 353.4 156.7 355.2 162.6 352.6 156.7 350.7" fill="#ffe933"/>
<polygon points="162.6 352.6 168.5 354.9 174.4 352.7 168.5 350.3" fill="#ffe333"/>
<polygon points="174.4 352.7 180.3 355.5 186.2 353.7 180.3 350.8" fill="#ffec33"/>
<polygon points="186.2 353.7 192.1 357.1 198 355.7 192.1 352.2" fill="#fff633"/>
<polygon points="198 355.7 203.9 359.5 209.8 358.5 203.9 354.4" fill="#fffa33"/>
<polygon points="209.8 358.5 215.6 362.8 221.5 362.2 215.7 357.6" fill="#fffe33"/>
<polygon points="221.5 362.2 227.3 367 233.2 366.7 227.3 361.7" fill="#c9ff33"/>
<polygon points="121.4 361.5 127.3 362.1 133.2 358.5 127.3 357.7" fill="#fffb33"/>
<polygon points="133.2 358.5 139 359.6 144.9 356.4 139 355.1" fill="#fff733"/>
<polygon points="144.9 356.4 150.8 358 156.7 355.2 150.8 353.4" fill="#fff533"/>
<polygon points="156.7 355.2 162.6 357.3 168.5 354.9 162.6 352.6" fill="#ffec33"/>
<polygon points="168.5 354.9 174.4 357.6 180.3 355.5 174.4 352.7" fill="#ffee33"/>
<polygon points="180.3 355.5 186.2 358.7 192.1 357.1 186.2 353.7" fill="#fff633"/>
<polygon points="192.1 357.1 198 360.7 203.9 359.5 198 355.7" fill="#fff933"/>
<polygon points="203.9 359.5 209.8 363.7 215.6 362.8 209.8 358.5" fill="#fffd33"/>
<polygon points="215.6 362.8 221.5 367.5 227.3 367 221.5 362.2" fill="#deff33"/>
<polygon points="127.3 362.1 133.2 363.1 139 359.6 133.2 358.5" fill="#fffa33"/>
<polygon points="139 359.6 144.9 361 150.8 358 144.9 356.4" fill="#fff733"/>
<polygon points="150.8 358 156.7 360 162.6 357.3 156.7 355.2" fill="#fff533"/>
<polygon points="162.6 357.3 168.5 359.8 174.4 357.6 168.5 354.9" fill="#fff333"/>
<polygon points="174.4 357.6 180.3 360.5 186.2 358.7 180.3 355.5" fill="#fff533"/>
<polygon points="186.2 358.7 192.1 362.2 198 360.7 192.1 357.1" fill="#fff833"/>
<polygon points="198 360.7 203.9 364.7 209.8 363.7 203.9 359.5" fill="#fffc33"/>
<polygon points="209.8 363.7 215.6 368.2 221.5 367.5 215.6 362.8" fill="#f0ff33"/>
<polygon points="133.2 363.1 139 364.3 144.9 361 139 359.6" fill="#fff933"/>
<polygon points="144.9 361 150.8 362.8 156.7 360 150.8 358" fill="#fff633"/>
<polygon points="156.7 360 162.6 362.2 168.5 359.8 162.6 357.3" fill="#fff533"/>
<polygon points="168.5 359.8 174.4 362.5 180.3 360.5 174.4 357.6" fill="#fff633"/>
<polygon points="180.3 360.5 186.2 363.8 192.1 362.2 186.2 358.7" fill="#fff733"/>
<polygon points="192.1 362.2 198 366 203.9 364.7 198 360.7" fill="#fffa33"/>
<polygon points="203.9 364.7 209.7 369.1 215.6 368.2 209.8 363.7" fill="#ffff33"/>
<polygon points="139 364.3 144.9 365.9 150.8 362.8 144.9 361" fill="#fff833"/>
<polygon points="150.8 362.8 156.7 364.9 162.6 362.2 156.7 360" fill="#fff633"/>
<polygon points="162.6 362.2 168.5 364.8 174.4 362.5 168.5 359.8" fill="#fff633"/>
<polygon points="174.4 362.5 180.3 365.7 186.2 363.8 180.3 360.5" fill="#fff733"/>
<polygon points="186.2 363.8 192.1 367.4 198 366 192.1 362.2" fill="#fffa33"/>
<polygon points="198 366 203.9 370.2 209.7 369.1 203.9 364.7" fill="#fffe33"/>
<polygon points="144.9 365.9 150.8 367.8 156.7 364.9 150.8 362.8" fill="#fff833"/>
<polygon points="156.7 364.9 162.6 367.3 168.5 364.8 162.6 362.2" fill="#fff733"/>
<polygon points="168.5 364.8 174.4 367.7 180.3 365.7 174.4 362.5" fill="#fff733"/>
<polygon points="180.3 365.7 186.2 369.1 192.1 367.4 186.2 363.8" fill="#fff933"/>
<polygon points="192.1 367.4 198 371.4 203.9 370.2 198 366" fill="#fffd33"/>
<polygon points="150.8 367.8 156.7 370 162.6 367.3 156.7 364.9" fill="#fff833"/>
<polygon points="162.6 367.3 168.5 370 174.4 367.7 168.5 364.8" fill="#fff833"/>
<polygon points="174.4 367.7 180.3 371 186.2 369.1 180.3 365.7" fill="#fff933"/>
<polygon points="186.2 369.1 192.1 372.9 198 371.4 192.1 367.4" fill="#fffc33"/>
<polygon points="156.7 370 162.6 372.5 168.5 370 162.6 367.3" fill="#fff933"/>
<polygon points="168.5 370 174.4 373.1 180.3 371 174.4 367.7" fill="#fff933"/>
<polygon points="180.3 371 186.2 374.6 192.1 372.9 186.2 369.1" fill="#fffb33"/>
<polygon points="162.6 372.5 168.5 375.4 174.4 373.1 168.5 370" fill="#fffa33"/>
<polygon points="174.4 373.1 180.3 376.6 186.2 374.6 180.3 371" fill="#fffb33"/>
<polygon points="168.5 375.4 174.4 378.7 180.3 376.6 174.4 373.1" fill="#fffc33"/>
</g>
<path d="M61.5 599L182.8 571.4L304.4 599M62.4 618.6L182.8 589.2L303.4 618.6M63.3 638.2L182.9 607L302.5 638.2M64.2 657.8L182.9 624.7L301.5 657.8M65.1 677.4L183 642.5L300.5 677.4M66 697L183 660.3L299.6 697M66.9 716.6L183 678.1L298.6 716.6M66.9 716.6L61.5 599M90.2 708.9L85.8 593.5M113.4 701.2L110 588M136.6 693.5L134.3 582.4M159.8 685.8L158.5 576.9M183 678.1L182.8 571.4M183 678.1L182.8 571.4M199.5 683.6L200.2 575.3M216 689.1L217.5 579.3M232.6 694.6L234.9 583.2M249.1 700.1L252.3 587.2M265.6 705.6L269.7 591.1M282.1 711.1L287 595.1M298.6 716.6L304.4 599M61.5 599L68.6 752.8M182.8 571.4L183.1 710.9M304.4 599L296.8 752.8" fill="none" stroke="#111" stroke-width="0.95"/>
<circle cx="61.5" cy="599" r="1.15" fill="#111"/>
<circle cx="62.4" cy="618.6" r="1.15" fill="#111"/>
<circle cx="63.3" cy="638.2" r="1.15" fill="#111"/>
<circle cx="64.2" cy="657.8" r="1.15" fill="#111"/>
<circle cx="65.1" cy="677.4" r="1.15" fill="#111"/>
<circle cx="66" cy="697" r="1.15" fill="#111"/>
<circle cx="66.9" cy="716.6" r="1.15" fill="#111"/>
<polygon points="68.6 752.8 183.1 806.5 296.8 752.8 183.1 710.9" fill="#626262" stroke="#222" stroke-width="0.8"/>
<g clip-path="url(#f3)" fill="none" stroke-width="1.15">
<path d="M282.5 773.7L283.7 770.2L284.6 766.7L285.3 763.1L285.7 759.6L286 756L286.1 752.5L285.9 749L285.6 745.5L285 742L284.2 738.6L283.2 735.3M62.6 742.4L63.6 745.9L64.8 749.5L66.2 753.1L67.8 756.7L69.7 760.3L71.7 764L73.9 767.6" stroke="#26ff48" stroke-opacity="0.88"/>
<path d="M265.2 782.7L267 779.8L268.5 776.8L269.9 773.7L271.1 770.6L272.1 767.5L272.9 764.4L273.5 761.2L273.9 758.1L274.2 754.9L274.2 751.8L274.1 748.6L273.8 745.5L273.3 742.4L272.6 739.4L271.7 736.4L270.6 733.4L269.4 730.5M73.6 739.6L74.3 742.7L75.2 745.9L76.3 749.1L77.5 752.3L79 755.5L80.6 758.7L82.5 761.9L84.4 765.1L86.6 768.3L88.9 771.5L91.4 774.6L94.1 777.7L96.9 780.7M179.2 820.6L183.6 820.9" stroke="#60ff26" stroke-opacity="0.88"/>
<path d="M193.4 809.6L197.1 809.3L200.8 808.8L204.4 808.2L207.9 807.5L211.3 806.6L214.7 805.6L218 804.5L221.3 803.2L224.4 801.8L227.4 800.3L230.4 798.7L233.2 797L235.9 795.2L238.5 793.2L241 791.2L243.3 789.1L245.5 786.9L247.6 784.6L249.5 782.3L251.3 779.9L253 777.4L254.5 774.9L255.8 772.3L257 769.7L258 767.1L258.9 764.4L259.6 761.7L260.1 759L260.5 756.3L260.7 753.6L260.8 750.9L260.6 748.2L260.4 745.5L259.9 742.8L259.3 740.2L258.6 737.5L257.6 735L256.5 732.4L255.3 729.9L253.9 727.4L252.4 725L250.7 722.7M86.3 735.1L86.6 737.7L87 740.4L87.6 743.1L88.4 745.8L89.3 748.5L90.4 751.3L91.7 754.1L93.1 756.8L94.7 759.6L96.4 762.3L98.3 765.1L100.3 767.8L102.4 770.4L104.7 773.1L107.2 775.6L109.7 778.2L112.4 780.7L115.2 783.1L118.1 785.4L121.1 787.7L124.2 789.9L127.4 792L130.7 794L134 795.9L137.5 797.7L141 799.4L144.6 801L148.2 802.4L151.9 803.8L155.6 805L159.4 806.1L163.1 807L166.9 807.8L170.7 808.5L174.6 809L178.4 809.4L182.2 809.7L186 809.8L189.7 809.8L193.4 809.6" stroke="#bdff26" stroke-opacity="0.88"/>
<path d="M189.7 796.7L192.8 796.4L195.7 796L198.7 795.6L201.5 795L204.4 794.3L207.1 793.5L209.8 792.6L212.5 791.6L215 790.5L217.5 789.4L219.9 788.1L222.2 786.7L224.5 785.3L226.6 783.7L228.6 782.1L230.5 780.5L232.3 778.7L234 776.9L235.6 775L237.1 773.1L238.4 771.1L239.6 769.1L240.7 767.1L241.7 765L242.5 762.8L243.2 760.7L243.8 758.5L244.2 756.3L244.6 754.1L244.7 751.9L244.8 749.7L244.7 747.5L244.5 745.3L244.1 743.2L243.6 741L243 738.8L242.2 736.7L241.3 734.6L240.3 732.6L239.2 730.5L237.9 728.5L236.5 726.6L235 724.7L233.4 722.8L231.7 721L229.8 719.2L227.9 717.5L225.8 715.9L223.7 714.3L221.4 712.7M102.8 728.5L102.5 730.5L102.3 732.6L102.2 734.7L102.3 736.8L102.6 739L102.9 741.2L103.4 743.4L104 745.6L104.8 747.8L105.7 750L106.7 752.3L107.9 754.5L109.2 756.7L110.6 759L112.1 761.1L113.7 763.3L115.5 765.5L117.4 767.6L119.3 769.6L121.4 771.7L123.6 773.7L125.9 775.6L128.2 777.5L130.7 779.3L133.2 781L135.8 782.7L138.5 784.3L141.3 785.8L144.1 787.2L146.9 788.6L149.9 789.8L152.8 791L155.8 792L158.9 793L161.9 793.8L165 794.6L168.1 795.2L171.2 795.8L174.3 796.2L177.4 796.5L180.5 796.7L183.6 796.8L186.7 796.8L189.7 796.7" stroke="#fffd26" stroke-opacity="0.88"/>
<path d="M185 780.3L187.1 780.2L189.2 779.9L191.3 779.6L193.3 779.2L195.3 778.8L197.3 778.2L199.2 777.6L201.1 777L202.9 776.2L204.6 775.4L206.3 774.5L208 773.6L209.5 772.6L211 771.6L212.5 770.5L213.8 769.4L215.1 768.2L216.3 766.9L217.4 765.6L218.5 764.3L219.4 763L220.3 761.6L221.1 760.1L221.7 758.7L222.3 757.2L222.8 755.7L223.2 754.2L223.6 752.7L223.8 751.2L223.9 749.6L223.9 748.1L223.9 746.5L223.7 745L223.5 743.4L223.1 741.9L222.7 740.4L222.1 738.9L221.5 737.4L220.8 735.9L220 734.4L219.1 733L218.1 731.6L217 730.2L215.9 728.8L214.7 727.5L213.3 726.2L212 725L210.5 723.8L209 722.6L207.4 721.5L205.7 720.4L204 719.4L202.2 718.4L200.4 717.4L198.5 716.5L196.6 715.7L194.6 714.9L192.6 714.2L190.6 713.5L188.5 712.8L186.4 712.3L184.2 711.7L182.1 711.3L179.9 710.8L177.7 710.5L175.5 710.2L173.3 710L171.1 709.8L168.9 709.6L166.8 709.6L164.6 709.6L162.4 709.6L160.3 709.7L158.2 709.9L156.1 710.1L154.1 710.4L152.1 710.8L150.1 711.2L148.2 711.6L146.3 712.2L144.5 712.7L142.7 713.4L141 714L139.3 714.8L137.7 715.6L136.2 716.4L134.8 717.3L133.4 718.3L132.1 719.3L130.9 720.3L129.8 721.4L128.7 722.5L127.8 723.7L126.9 724.9L126.1 726.2L125.4 727.5L124.8 728.8L124.3 730.2L123.9 731.6L123.5 733L123.3 734.4L123.2 735.9L123.2 737.4L123.2 738.9L123.4 740.5L123.6 742L124 743.6L124.4 745.1L125 746.7L125.6 748.3L126.3 749.8L127.1 751.4L128 752.9L129 754.5L130.1 756L131.3 757.5L132.5 759L133.8 760.4L135.2 761.9L136.7 763.3L138.2 764.6L139.8 765.9L141.5 767.2L143.2 768.5L145 769.7L146.9 770.8L148.8 771.9L150.7 772.9L152.7 773.9L154.7 774.8L156.8 775.7L158.9 776.4L161 777.2L163.1 777.8L165.3 778.4L167.5 778.9L169.7 779.3L171.9 779.7L174.1 780L176.3 780.2L178.5 780.4L180.6 780.4L182.8 780.4L185 780.3" stroke="#fff526" stroke-opacity="0.88"/>
</g>
<g font-family="Liberation Sans, sans-serif">
<circle cx="68.6" cy="752.8" r="1.15" fill="#111"/>
<text transform="translate(66.3 758.4) scale(1.120 1)" text-anchor="end" font-size="5.9" font-weight="bold" fill="#222">8</text>
<circle cx="85" cy="760.5" r="1.15" fill="#111"/>
<text transform="translate(82.7 766.1) scale(1.120 1)" text-anchor="end" font-size="5.9" font-weight="bold" fill="#222">7</text>
<circle cx="101.3" cy="768.1" r="1.15" fill="#111"/>
<text transform="translate(99 773.7) scale(1.120 1)" text-anchor="end" font-size="5.9" font-weight="bold" fill="#222">6</text>
<circle cx="117.7" cy="775.8" r="1.15" fill="#111"/>
<text transform="translate(115.4 781.4) scale(1.120 1)" text-anchor="end" font-size="5.9" font-weight="bold" fill="#222">5</text>
<circle cx="134" cy="783.5" r="1.15" fill="#111"/>
<text transform="translate(131.7 789.1) scale(1.120 1)" text-anchor="end" font-size="5.9" font-weight="bold" fill="#222">4</text>
<circle cx="150.4" cy="791.2" r="1.15" fill="#111"/>
<text transform="translate(148.1 796.8) scale(1.120 1)" text-anchor="end" font-size="5.9" font-weight="bold" fill="#222">3</text>
<circle cx="166.7" cy="798.8" r="1.15" fill="#111"/>
<text transform="translate(164.4 804.4) scale(1.120 1)" text-anchor="end" font-size="5.9" font-weight="bold" fill="#222">2</text>
<circle cx="183.1" cy="806.5" r="1.15" fill="#111"/>
<text transform="translate(180.8 812.1) scale(1.120 1)" text-anchor="end" font-size="5.9" font-weight="bold" fill="#222">1</text>
<circle cx="183.1" cy="806.5" r="1.15" fill="#111"/>
<text transform="translate(186.1 812.1) scale(1.120 1)" text-anchor="start" font-size="5.9" font-weight="bold" fill="#222">5</text>
<circle cx="205.8" cy="795.8" r="1.15" fill="#111"/>
<text transform="translate(208.8 801.4) scale(1.000 1)" text-anchor="start" font-size="5.9" font-weight="bold" fill="#222">5.6</text>
<circle cx="228.6" cy="785" r="1.15" fill="#111"/>
<text transform="translate(231.6 790.6) scale(1.000 1)" text-anchor="start" font-size="5.9" font-weight="bold" fill="#222">6.2</text>
<circle cx="251.3" cy="774.3" r="1.15" fill="#111"/>
<text transform="translate(254.3 779.9) scale(1.000 1)" text-anchor="start" font-size="5.9" font-weight="bold" fill="#222">6.8</text>
<circle cx="274.1" cy="763.5" r="1.15" fill="#111"/>
<text transform="translate(277.1 769.1) scale(1.000 1)" text-anchor="start" font-size="5.9" font-weight="bold" fill="#222">7.4</text>
<circle cx="296.8" cy="752.8" r="1.15" fill="#111"/>
<text transform="translate(299.8 758.4) scale(1.120 1)" text-anchor="start" font-size="5.9" font-weight="bold" fill="#222">8</text>
<text transform="translate(58.8 597.2) scale(1.120 1)" text-anchor="end" font-size="5.9" font-weight="bold" fill="#222">8</text>
<text transform="translate(59.7 616.8) scale(1.120 1)" text-anchor="end" font-size="5.9" font-weight="bold" fill="#222">6</text>
<text transform="translate(60.6 636.4) scale(1.120 1)" text-anchor="end" font-size="5.9" font-weight="bold" fill="#222">4</text>
<text transform="translate(61.5 656) scale(1.120 1)" text-anchor="end" font-size="5.9" font-weight="bold" fill="#222">2</text>
<text transform="translate(62.4 675.6) scale(1.120 1)" text-anchor="end" font-size="5.9" font-weight="bold" fill="#222">0</text>
<text transform="translate(63.3 695.2) scale(1.120 1)" text-anchor="end" font-size="5.9" font-weight="bold" fill="#222">-2</text>
<text transform="translate(64.2 714.8) scale(1.120 1)" text-anchor="end" font-size="5.9" font-weight="bold" fill="#222">-4</text>
<text transform="translate(67.3 802) scale(1.060 1)" text-anchor="start" font-size="5.85" font-weight="bold" fill="#333">B: AgNo3</text>
<text transform="translate(275 802) scale(1.060 1)" text-anchor="start" font-size="5.85" font-weight="bold" fill="#333">C: pH</text>
<text transform="translate(25 678) rotate(-90) scale(0.850 1)" text-anchor="middle" font-size="6.0" fill="#222">R1</text>
</g>
<g stroke="#1c1c1c" stroke-width="0.5" stroke-linejoin="round">
<polygon points="176.8 595.6 182.9 596.8 188.9 596.3 182.9 595" fill="#ffef33"/>
<polygon points="170.8 596.4 176.8 597.6 182.9 596.8 176.8 595.6" fill="#ffe033"/>
<polygon points="182.9 596.8 188.9 598.2 194.9 597.7 188.9 596.3" fill="#ffed33"/>
<polygon points="164.8 597.4 170.8 598.5 176.8 597.6 170.8 596.4" fill="#ffd533"/>
<polygon points="176.8 597.6 182.9 598.9 188.9 598.2 182.9 596.8" fill="#ffdc33"/>
<polygon points="188.9 598.2 194.9 599.7 200.9 599.3 194.9 597.7" fill="#ffec33"/>
<polygon points="158.8 598.5 164.8 599.6 170.8 598.5 164.8 597.4" fill="#ffcc33"/>
<polygon points="170.8 598.5 176.8 599.7 182.9 598.9 176.8 597.6" fill="#ffcf33"/>
<polygon points="182.9 598.9 188.9 600.3 194.9 599.7 188.9 598.2" fill="#ffda33"/>
<polygon points="194.9 599.7 200.9 601.4 206.9 601.1 200.9 599.3" fill="#ffef33"/>
<polygon points="152.8 599.9 158.8 600.8 164.8 599.6 158.8 598.5" fill="#ffc733"/>
<polygon points="164.8 599.6 170.8 600.8 176.8 599.7 170.8 598.5" fill="#ffc533"/>
<polygon points="176.8 599.7 182.9 601.1 188.9 600.3 182.9 598.9" fill="#ffcb33"/>
<polygon points="188.9 600.3 194.9 602 200.9 601.4 194.9 599.7" fill="#ffdb33"/>
<polygon points="200.9 601.4 206.9 603.2 212.9 602.9 206.9 601.1" fill="#fff233"/>
<polygon points="146.8 601.4 152.8 602.3 158.8 600.8 152.8 599.9" fill="#ffc533"/>
<polygon points="158.8 600.8 164.8 602 170.8 600.8 164.8 599.6" fill="#ffbe33"/>
<polygon points="170.8 600.8 176.9 602.1 182.9 601.1 176.8 599.7" fill="#ffc033"/>
<polygon points="182.9 601.1 188.9 602.7 194.9 602 188.9 600.3" fill="#ffcb33"/>
<polygon points="194.9 602 200.9 603.7 206.9 603.2 200.9 601.4" fill="#ffde33"/>
<polygon points="206.9 603.2 212.9 605.2 218.9 605 212.9 602.9" fill="#fff233"/>
<polygon points="140.8 603.1 146.8 604 152.8 602.3 146.8 601.4" fill="#ffc733"/>
<polygon points="152.8 602.3 158.8 603.4 164.8 602 158.8 600.8" fill="#ffbb33"/>
<polygon points="164.8 602 170.8 603.2 176.9 602.1 170.8 600.8" fill="#ffb833"/>
<polygon points="176.9 602.1 182.9 603.6 188.9 602.7 182.9 601.1" fill="#ffbe33"/>
<polygon points="188.9 602.7 194.9 604.3 200.9 603.7 194.9 602" fill="#ffcd33"/>
<polygon points="200.9 603.7 206.9 605.6 212.9 605.2 206.9 603.2" fill="#ffe433"/>
<polygon points="212.9 605.2 218.9 607.3 224.9 607.2 218.9 605" fill="#fff333"/>
<polygon points="134.7 605 140.8 605.8 146.8 604 140.8 603.1" fill="#ffcc33"/>
<polygon points="146.8 604 152.8 604.9 158.8 603.4 152.8 602.3" fill="#ffbb33"/>
<polygon points="158.8 603.4 164.8 604.6 170.8 603.2 164.8 602" fill="#ffb333"/>
<polygon points="170.8 603.2 176.9 604.6 182.9 603.6 176.9 602.1" fill="#ffb433"/>
<polygon points="182.9 603.6 188.9 605.2 194.9 604.3 188.9 602.7" fill="#ffbe33"/>
<polygon points="194.9 604.3 200.9 606.2 206.9 605.6 200.9 603.7" fill="#ffd133"/>
<polygon points="206.9 605.6 212.9 607.6 218.9 607.3 212.9 605.2" fill="#ffed33"/>
<polygon points="218.9 607.3 224.9 609.6 230.9 609.5 224.9 607.2" fill="#fff433"/>
<polygon points="128.8 607.1 134.8 607.8 140.8 605.8 134.7 605" fill="#ffd433"/>
<polygon points="140.8 605.8 146.8 606.7 152.8 604.9 146.8 604" fill="#ffbf33"/>
<polygon points="152.8 604.9 158.8 606.1 164.8 604.6 158.8 603.4" fill="#ffb233"/>
<polygon points="164.8 604.6 170.8 605.9 176.9 604.6 170.8 603.2" fill="#ffae33"/>
<polygon points="176.9 604.6 182.9 606.2 188.9 605.2 182.9 603.6" fill="#ffb333"/>
<polygon points="188.9 605.2 194.9 606.9 200.9 606.2 194.9 604.3" fill="#ffc133"/>
<polygon points="200.9 606.2 206.9 608.2 212.9 607.6 206.9 605.6" fill="#ffd833"/>
<polygon points="212.9 607.6 219 609.8 224.9 609.6 218.9 607.3" fill="#fff233"/>
<polygon points="224.9 609.6 230.9 612 236.9 612 230.9 609.5" fill="#fff633"/>
<polygon points="122.8 609.4 128.8 610.1 134.8 607.8 128.8 607.1" fill="#ffe033"/>
<polygon points="134.8 607.8 140.8 608.7 146.8 606.7 140.8 605.8" fill="#ffc633"/>
<polygon points="146.8 606.7 152.8 607.8 158.8 606.1 152.8 604.9" fill="#ffb433"/>
<polygon points="158.8 606.1 164.8 607.3 170.8 605.9 164.8 604.6" fill="#ffac33"/>
<polygon points="170.8 605.9 176.9 607.4 182.9 606.2 176.9 604.6" fill="#ffac33"/>
<polygon points="182.9 606.2 188.9 607.9 194.9 606.9 188.9 605.2" fill="#ffb533"/>
<polygon points="194.9 606.9 200.9 608.8 206.9 608.2 200.9 606.2" fill="#ffc733"/>
<polygon points="206.9 608.2 213 610.3 219 609.8 212.9 607.6" fill="#ffe233"/>
<polygon points="219 609.8 225 612.2 230.9 612 224.9 609.6" fill="#fff333"/>
<polygon points="230.9 612 236.9 614.6 242.9 614.6 236.9 612" fill="#fff733"/>
<polygon points="116.8 611.9 122.8 612.5 128.8 610.1 122.8 609.4" fill="#ffef33"/>
<polygon points="128.8 610.1 134.8 610.9 140.8 608.7 134.8 607.8" fill="#ffd033"/>
<polygon points="140.8 608.7 146.8 609.7 152.8 607.8 146.8 606.7" fill="#ffba33"/>
<polygon points="152.8 607.8 158.8 609 164.8 607.3 158.8 606.1" fill="#ffac33"/>
<polygon points="164.8 607.3 170.9 608.8 176.9 607.4 170.8 605.9" fill="#ffa733"/>
<polygon points="176.9 607.4 182.9 609 188.9 607.9 182.9 606.2" fill="#ffac33"/>
<polygon points="188.9 607.9 194.9 609.7 200.9 608.8 194.9 606.9" fill="#ffb933"/>
<polygon points="200.9 608.8 207 610.9 213 610.3 206.9 608.2" fill="#ffcf33"/>
<polygon points="213 610.3 219 612.6 225 612.2 219 609.8" fill="#ffee33"/>
<polygon points="225 612.2 230.9 614.7 236.9 614.6 230.9 612" fill="#fff533"/>
<polygon points="236.9 614.6 242.9 617.3 248.8 617.4 242.9 614.6" fill="#fff933"/>
<polygon points="110.8 614.6 116.8 615.1 122.8 612.5 116.8 611.9" fill="#fff333"/>
<polygon points="122.8 612.5 128.8 613.2 134.8 610.9 128.8 610.1" fill="#ffde33"/>
<polygon points="134.8 610.9 140.8 611.8 146.8 609.7 140.8 608.7" fill="#ffc233"/>
<polygon points="146.8 609.7 152.8 610.8 158.8 609 152.8 607.8" fill="#ffb033"/>
<polygon points="158.8 609 164.8 610.3 170.9 608.8 164.8 607.3" fill="#ffa733"/>
<polygon points="170.9 608.8 176.9 610.3 182.9 609 176.9 607.4" fill="#ffa633"/>
<polygon points="182.9 609 188.9 610.8 194.9 609.7 188.9 607.9" fill="#ffae33"/>
<polygon points="194.9 609.7 201 611.7 207 610.9 200.9 608.8" fill="#ffc033"/>
<polygon points="207 610.9 213 613.1 219 612.6 213 610.3" fill="#ffda33"/>
<polygon points="219 612.6 225 615 230.9 614.7 225 612.2" fill="#fff233"/>
<polygon points="230.9 614.7 236.9 617.4 242.9 617.3 236.9 614.6" fill="#fff633"/>
<polygon points="242.9 617.3 248.9 620.2 254.8 620.4 248.8 617.4" fill="#fffb33"/>
<polygon points="104.8 617.5 110.8 618 116.8 615.1 110.8 614.6" fill="#fff533"/>
<polygon points="116.8 615.1 122.8 615.8 128.8 613.2 122.8 612.5" fill="#ffef33"/>
<polygon points="128.8 613.2 134.8 614.1 140.8 611.8 134.8 610.9" fill="#ffce33"/>
<polygon points="140.8 611.8 146.8 612.9 152.8 610.8 146.8 609.7" fill="#ffb733"/>
<polygon points="152.8 610.8 158.8 612.1 164.8 610.3 158.8 609" fill="#ffa933"/>
<polygon points="164.8 610.3 170.9 611.8 176.9 610.3 170.9 608.8" fill="#ffa433"/>
<polygon points="176.9 610.3 182.9 612 188.9 610.8 182.9 609" fill="#ffa733"/>
<polygon points="188.9 610.8 194.9 612.7 201 611.7 194.9 609.7" fill="#ffb333"/>
<polygon points="201 611.7 207 613.9 213 613.1 207 610.9" fill="#ffc933"/>
<polygon points="213 613.1 219 615.5 225 615 219 612.6" fill="#ffe733"/>
<polygon points="225 615 231 617.6 236.9 617.4 230.9 614.7" fill="#fff433"/>
<polygon points="236.9 617.4 242.9 620.2 248.9 620.2 242.9 617.3" fill="#fff833"/>
<polygon points="248.9 620.2 254.8 623.3 260.7 623.5 254.8 620.4" fill="#fffd33"/>
<polygon points="98.9 620.6 104.9 621 110.8 618 104.8 617.5" fill="#fff733"/>
<polygon points="110.8 618 116.8 618.6 122.8 615.8 116.8 615.1" fill="#fff333"/>
<polygon points="122.8 615.8 128.8 616.6 134.8 614.1 128.8 613.2" fill="#ffde33"/>
<polygon points="134.8 614.1 140.8 615.1 146.8 612.9 140.8 611.8" fill="#ffc233"/>
<polygon points="146.8 612.9 152.8 614.1 158.8 612.1 152.8 610.8" fill="#ffaf33"/>
<polygon points="158.8 612.1 164.8 613.5 170.9 611.8 164.8 610.3" fill="#ffa533"/>
<polygon points="170.9 611.8 176.9 613.5 182.9 612 176.9 610.3" fill="#ffa333"/>
<polygon points="182.9 612 188.9 613.9 194.9 612.7 188.9 610.8" fill="#ffab33"/>
<polygon points="194.9 612.7 201 614.8 207 613.9 201 611.7" fill="#ffbb33"/>
<polygon points="207 613.9 213 616.2 219 615.5 213 613.1" fill="#ffd533"/>
<polygon points="219 615.5 225 618 231 617.6 225 615" fill="#fff233"/>
<polygon points="231 617.6 237 620.4 242.9 620.2 236.9 617.4" fill="#fff633"/>
<polygon points="242.9 620.2 248.9 623.2 254.8 623.3 248.9 620.2" fill="#fffa33"/>
<polygon points="254.8 623.3 260.8 626.5 266.7 626.8 260.7 623.5" fill="#f9ff33"/>
<polygon points="93 624 98.9 624.3 104.9 621 98.9 620.6" fill="#fff933"/>
<polygon points="104.9 621 110.8 621.6 116.8 618.6 110.8 618" fill="#fff533"/>
<polygon points="116.8 618.6 122.8 619.3 128.8 616.6 122.8 615.8" fill="#fff133"/>
<polygon points="128.8 616.6 134.8 617.6 140.8 615.1 134.8 614.1" fill="#ffd033"/>
<polygon points="140.8 615.1 146.8 616.3 152.8 614.1 146.8 612.9" fill="#ffb833"/>
<polygon points="152.8 614.1 158.8 615.4 164.8 613.5 158.8 612.1" fill="#ffa933"/>
<polygon points="164.8 613.5 170.9 615.1 176.9 613.5 170.9 611.8" fill="#ffa333"/>
<polygon points="176.9 613.5 182.9 615.3 188.9 613.9 182.9 612" fill="#ffa533"/>
<polygon points="188.9 613.9 195 615.9 201 614.8 194.9 612.7" fill="#ffb133"/>
<polygon points="201 614.8 207 617 213 616.2 207 613.9" fill="#ffc533"/>
<polygon points="213 616.2 219 618.6 225 618 219 615.5" fill="#ffe333"/>
<polygon points="225 618 231 620.7 237 620.4 231 617.6" fill="#fff333"/>
<polygon points="237 620.4 242.9 623.3 248.9 623.2 242.9 620.2" fill="#fff833"/>
<polygon points="248.9 623.2 254.8 626.4 260.8 626.5 254.8 623.3" fill="#fffc33"/>
<polygon points="260.8 626.5 266.7 629.9 272.6 630.2 266.7 626.8" fill="#daff33"/>
<polygon points="87.1 627.5 93 627.8 98.9 624.3 93 624" fill="#fffc33"/>
<polygon points="98.9 624.3 104.9 624.8 110.8 621.6 104.9 621" fill="#fff733"/>
<polygon points="110.8 621.6 116.8 622.3 122.8 619.3 116.8 618.6" fill="#fff333"/>
<polygon points="122.8 619.3 128.8 620.2 134.8 617.6 128.8 616.6" fill="#ffe133"/>
<polygon points="134.8 617.6 140.8 618.6 146.8 616.3 140.8 615.1" fill="#ffc433"/>
<polygon points="146.8 616.3 152.8 617.6 158.8 615.4 152.8 614.1" fill="#ffb133"/>
<polygon points="158.8 615.4 164.9 617 170.9 615.1 164.8 613.5" fill="#ffa633"/>
<polygon points="170.9 615.1 176.9 616.8 182.9 615.3 176.9 613.5" fill="#ffa333"/>
<polygon points="182.9 615.3 188.9 617.2 195 615.9 188.9 613.9" fill="#ffaa33"/>
<polygon points="195 615.9 201 618.1 207 617 201 614.8" fill="#ffba33"/>
<polygon points="207 617 213 619.4 219 618.6 213 616.2" fill="#ffd233"/>
<polygon points="219 618.6 225 621.3 231 620.7 225 618" fill="#fff233"/>
<polygon points="231 620.7 237 623.6 242.9 623.3 237 620.4" fill="#fff533"/>
<polygon points="242.9 623.3 248.9 626.4 254.8 626.4 248.9 623.2" fill="#fffa33"/>
<polygon points="254.8 626.4 260.8 629.7 266.7 629.9 260.8 626.5" fill="#ffff33"/>
<polygon points="266.7 629.9 272.6 633.4 278.5 633.9 272.6 630.2" fill="#b7ff33"/>
<polygon points="81.2 631.3 87.1 631.5 93 627.8 87.1 627.5" fill="#fcff33"/>
<polygon points="93 627.8 99 628.2 104.9 624.8 98.9 624.3" fill="#fffa33"/>
<polygon points="104.9 624.8 110.9 625.4 116.8 622.3 110.8 621.6" fill="#fff633"/>
<polygon points="116.8 622.3 122.8 623.1 128.8 620.2 122.8 619.3" fill="#fff233"/>
<polygon points="128.8 620.2 134.8 621.2 140.8 618.6 134.8 617.6" fill="#ffd433"/>
<polygon points="140.8 618.6 146.8 619.9 152.8 617.6 146.8 616.3" fill="#ffbc33"/>
<polygon points="152.8 617.6 158.8 619 164.9 617 158.8 615.4" fill="#ffac33"/>
<polygon points="164.9 617 170.9 618.6 176.9 616.8 170.9 615.1" fill="#ffa533"/>
<polygon points="176.9 616.8 182.9 618.7 188.9 617.2 182.9 615.3" fill="#ffa733"/>
<polygon points="188.9 617.2 195 619.3 201 618.1 195 615.9" fill="#ffb133"/>
<polygon points="201 618.1 207 620.4 213 619.4 207 617" fill="#ffc533"/>
<polygon points="213 619.4 219 622 225 621.3 219 618.6" fill="#ffe233"/>
<polygon points="225 621.3 231 624.1 237 623.6 231 620.7" fill="#fff333"/>
<polygon points="237 623.6 242.9 626.6 248.9 626.4 242.9 623.3" fill="#fff733"/>
<polygon points="248.9 626.4 254.8 629.7 260.8 629.7 254.8 626.4" fill="#fffc33"/>
<polygon points="260.8 629.7 266.7 633.2 272.6 633.4 266.7 629.9" fill="#deff33"/>
<polygon points="272.6 633.4 278.5 637.2 284.3 637.7 278.5 633.9" fill="#92ff33"/>
<polygon points="75.3 635.3 81.2 635.4 87.1 631.5 81.2 631.3" fill="#d4ff33"/>
<polygon points="87.1 631.5 93 631.8 99 628.2 93 627.8" fill="#fffd33"/>
<polygon points="99 628.2 104.9 628.7 110.9 625.4 104.9 624.8" fill="#fff833"/>
<polygon points="110.9 625.4 116.8 626.1 122.8 623.1 116.8 622.3" fill="#fff433"/>
<polygon points="122.8 623.1 128.8 624 134.8 621.2 128.8 620.2" fill="#ffe833"/>
<polygon points="134.8 621.2 140.8 622.4 146.8 619.9 140.8 618.6" fill="#ffca33"/>
<polygon points="146.8 619.9 152.8 621.2 158.8 619 152.8 617.6" fill="#ffb533"/>
<polygon points="158.8 619 164.9 620.6 170.9 618.6 164.9 617" fill="#ffa933"/>
<polygon points="170.9 618.6 176.9 620.4 182.9 618.7 176.9 616.8" fill="#ffa733"/>
<polygon points="182.9 618.7 189 620.8 195 619.3 188.9 617.2" fill="#ffad33"/>
<polygon points="195 619.3 201 621.6 207 620.4 201 618.1" fill="#ffbb33"/>
<polygon points="207 620.4 213 622.9 219 622 213 619.4" fill="#ffd333"/>
<polygon points="219 622 225 624.7 231 624.1 225 621.3" fill="#fff233"/>
<polygon points="231 624.1 237 627 242.9 626.6 237 623.6" fill="#fff533"/>
<polygon points="242.9 626.6 248.9 629.8 254.8 629.7 248.9 626.4" fill="#fffa33"/>
<polygon points="254.8 629.7 260.8 633.1 266.7 633.2 260.8 629.7" fill="#ffff33"/>
<polygon points="266.7 633.2 272.6 636.8 278.5 637.2 272.6 633.4" fill="#bbff33"/>
<polygon points="278.5 637.2 284.4 641.1 290.2 641.6 284.3 637.7" fill="#6bff33"/>
<polygon points="69.4 639.5 75.3 639.5 81.2 635.4 75.3 635.3" fill="#a8ff33"/>
<polygon points="81.2 635.4 87.1 635.7 93 631.8 87.1 631.5" fill="#f1ff33"/>
<polygon points="93 631.8 99 632.3 104.9 628.7 99 628.2" fill="#fffb33"/>
<polygon points="104.9 628.7 110.9 629.4 116.8 626.1 110.9 625.4" fill="#fff633"/>
<polygon points="116.8 626.1 122.8 627 128.8 624 122.8 623.1" fill="#fff333"/>
<polygon points="128.8 624 134.8 625.1 140.8 622.4 134.8 621.2" fill="#ffdc33"/>
<polygon points="140.8 622.4 146.8 623.7 152.8 621.2 146.8 619.9" fill="#ffc233"/>
<polygon points="152.8 621.2 158.9 622.8 164.9 620.6 158.8 619" fill="#ffb233"/>
<polygon points="164.9 620.6 170.9 622.3 176.9 620.4 170.9 618.6" fill="#ffaa33"/>
<polygon points="176.9 620.4 182.9 622.4 189 620.8 182.9 618.7" fill="#ffab33"/>
<polygon points="189 620.8 195 623 201 621.6 195 619.3" fill="#ffb533"/>
<polygon points="201 621.6 207 624 213 622.9 207 620.4" fill="#ffc833"/>
<polygon points="213 622.9 219 625.6 225 624.7 219 622" fill="#ffe433"/>
<polygon points="225 624.7 231 627.6 237 627 231 624.1" fill="#fff333"/>
<polygon points="237 627 242.9 630.1 248.9 629.8 242.9 626.6" fill="#fff733"/>
<polygon points="248.9 629.8 254.9 633.2 260.8 633.1 254.8 629.7" fill="#fffc33"/>
<polygon points="260.8 633.1 266.7 636.7 272.6 636.8 266.7 633.2" fill="#dfff33"/>
<polygon points="272.6 636.8 278.5 640.7 284.4 641.1 278.5 637.2" fill="#94ff33"/>
<polygon points="284.4 641.1 290.2 645.1 296.1 645.8 290.2 641.6" fill="#40ff33"/>
<polygon points="63.6 643.9 69.5 643.9 75.3 639.5 69.4 639.5" fill="#7aff33"/>
<polygon points="75.3 639.5 81.2 639.8 87.1 635.7 81.2 635.4" fill="#c7ff33"/>
<polygon points="87.1 635.7 93.1 636.1 99 632.3 93 631.8" fill="#fffe33"/>
<polygon points="99 632.3 104.9 632.9 110.9 629.4 104.9 628.7" fill="#fff933"/>
<polygon points="110.9 629.4 116.9 630.3 122.8 627 116.8 626.1" fill="#fff533"/>
<polygon points="122.8 627 128.8 628.1 134.8 625.1 128.8 624" fill="#fff133"/>
<polygon points="134.8 625.1 140.8 626.4 146.8 623.7 140.8 622.4" fill="#ffd233"/>
<polygon points="146.8 623.7 152.9 625.2 158.9 622.8 152.8 621.2" fill="#ffbd33"/>
<polygon points="158.9 622.8 164.9 624.5 170.9 622.3 164.9 620.6" fill="#ffb033"/>
<polygon points="170.9 622.3 176.9 624.2 182.9 622.4 176.9 620.4" fill="#ffad33"/>
<polygon points="182.9 622.4 189 624.5 195 623 189 620.8" fill="#ffb233"/>
<polygon points="195 623 201 625.3 207 624 201 621.6" fill="#ffc033"/>
<polygon points="207 624 213 626.6 219 625.6 213 622.9" fill="#ffd733"/>
<polygon points="219 625.6 225 628.4 231 627.6 225 624.7" fill="#fff233"/>
<polygon points="231 627.6 237 630.7 242.9 630.1 237 627" fill="#fff533"/>
<polygon points="242.9 630.1 248.9 633.4 254.9 633.2 248.9 629.8" fill="#fffa33"/>
<polygon points="254.9 633.2 260.8 636.7 266.7 636.7 260.8 633.1" fill="#ffff33"/>
<polygon points="266.7 636.7 272.6 640.5 278.5 640.7 272.6 636.8" fill="#bbff33"/>
<polygon points="278.5 640.7 284.4 644.7 290.2 645.1 284.4 641.1" fill="#6cff33"/>
<polygon points="290.2 645.1 296.1 649.4 301.9 650.1 296.1 645.8" fill="#33ff51"/>
<polygon points="69.5 643.9 75.4 644.1 81.2 639.8 75.3 639.5" fill="#9aff33"/>
<polygon points="81.2 639.8 87.2 640.1 93.1 636.1 87.1 635.7" fill="#e3ff33"/>
<polygon points="93.1 636.1 99 636.7 104.9 632.9 99 632.3" fill="#fffc33"/>
<polygon points="104.9 632.9 110.9 633.7 116.9 630.3 110.9 629.4" fill="#fff733"/>
<polygon points="116.9 630.3 122.9 631.2 128.8 628.1 122.8 627" fill="#fff333"/>
<polygon points="128.8 628.1 134.8 629.2 140.8 626.4 134.8 625.1" fill="#ffe633"/>
<polygon points="140.8 626.4 146.9 627.8 152.9 625.2 146.8 623.7" fill="#ffcc33"/>
<polygon points="152.9 625.2 158.9 626.8 164.9 624.5 158.9 622.8" fill="#ffba33"/>
<polygon points="164.9 624.5 170.9 626.3 176.9 624.2 170.9 622.3" fill="#ffb233"/>
<polygon points="176.9 624.2 183 626.3 189 624.5 182.9 622.4" fill="#ffb233"/>
<polygon points="189 624.5 195 626.8 201 625.3 195 623" fill="#ffbb33"/>
<polygon points="201 625.3 207 627.8 213 626.6 207 624" fill="#ffcd33"/>
<polygon points="213 626.6 219 629.4 225 628.4 219 625.6" fill="#ffe833"/>
<polygon points="225 628.4 231 631.4 237 630.7 231 627.6" fill="#fff433"/>
<polygon points="237 630.7 243 633.9 248.9 633.4 242.9 630.1" fill="#fff833"/>
<polygon points="248.9 633.4 254.9 636.9 260.8 636.7 254.9 633.2" fill="#fffc33"/>
<polygon points="260.8 636.7 266.7 640.4 272.6 640.5 266.7 636.7" fill="#deff33"/>
<polygon points="272.6 640.5 278.5 644.4 284.4 644.7 278.5 640.7" fill="#93ff33"/>
<polygon points="284.4 644.7 290.2 648.9 296.1 649.4 290.2 645.1" fill="#40ff33"/>
<polygon points="75.4 644.1 81.3 644.4 87.2 640.1 81.2 639.8" fill="#b7ff33"/>
<polygon points="87.2 640.1 93.1 640.6 99 636.7 93.1 636.1" fill="#fcff33"/>
<polygon points="99 636.7 105 637.4 110.9 633.7 104.9 632.9" fill="#fffa33"/>
<polygon points="110.9 633.7 116.9 634.6 122.9 631.2 116.9 630.3" fill="#fff633"/>
<polygon points="122.9 631.2 128.9 632.3 134.8 629.2 128.8 628.1" fill="#fff233"/>
<polygon points="134.8 629.2 140.9 630.6 146.9 627.8 140.8 626.4" fill="#ffde33"/>
<polygon points="146.9 627.8 152.9 629.3 158.9 626.8 152.9 625.2" fill="#ffc833"/>
<polygon points="158.9 626.8 164.9 628.5 170.9 626.3 164.9 624.5" fill="#ffba33"/>
<polygon points="170.9 626.3 176.9 628.3 183 626.3 176.9 624.2" fill="#ffb633"/>
<polygon points="183 626.3 189 628.5 195 626.8 189 624.5" fill="#ffba33"/>
<polygon points="195 626.8 201 629.3 207 627.8 201 625.3" fill="#ffc733"/>
<polygon points="207 627.8 213 630.5 219 629.4 213 626.6" fill="#ffde33"/>
<polygon points="219 629.4 225 632.3 231 631.4 225 628.4" fill="#fff233"/>
<polygon points="231 631.4 237 634.5 243 633.9 237 630.7" fill="#fff633"/>
<polygon points="243 633.9 248.9 637.3 254.9 636.9 248.9 633.4" fill="#fffa33"/>
<polygon points="254.9 636.9 260.8 640.5 266.7 640.4 260.8 636.7" fill="#fdff33"/>
<polygon points="266.7 640.4 272.6 644.3 278.5 644.4 272.6 640.5" fill="#b8ff33"/>
<polygon points="278.5 644.4 284.4 648.5 290.2 648.9 284.4 644.7" fill="#6aff33"/>
<polygon points="81.3 644.4 87.2 644.8 93.1 640.6 87.2 640.1" fill="#d2ff33"/>
<polygon points="93.1 640.6 99.1 641.3 105 637.4 99 636.7" fill="#fffd33"/>
<polygon points="105 637.4 111 638.2 116.9 634.6 110.9 633.7" fill="#fff933"/>
<polygon points="116.9 634.6 122.9 635.7 128.9 632.3 122.9 631.2" fill="#fff533"/>
<polygon points="128.9 632.3 134.9 633.6 140.9 630.6 134.8 629.2" fill="#fff233"/>
<polygon points="140.9 630.6 146.9 632.1 152.9 629.3 146.9 627.8" fill="#ffd833"/>
<polygon points="152.9 629.3 158.9 631 164.9 628.5 158.9 626.8" fill="#ffc633"/>
<polygon points="164.9 628.5 170.9 630.5 176.9 628.3 170.9 626.3" fill="#ffbd33"/>
<polygon points="176.9 628.3 183 630.4 189 628.5 183 626.3" fill="#ffbc33"/>
<polygon points="189 628.5 195 630.9 201 629.3 195 626.8" fill="#ffc533"/>
<polygon points="201 629.3 207 631.9 213 630.5 207 627.8" fill="#ffd633"/>
<polygon points="213 630.5 219 633.4 225 632.3 219 629.4" fill="#fff033"/>
<polygon points="225 632.3 231 635.4 237 634.5 231 631.4" fill="#fff433"/>
<polygon points="237 634.5 243 637.9 248.9 637.3 243 633.9" fill="#fff833"/>
<polygon points="248.9 637.3 254.9 640.9 260.8 640.5 254.9 636.9" fill="#fffd33"/>
<polygon points="260.8 640.5 266.7 644.4 272.6 644.3 266.7 640.4" fill="#d9ff33"/>
<polygon points="272.6 644.3 278.5 648.4 284.4 648.5 278.5 644.4" fill="#8fff33"/>
<polygon points="87.2 644.8 93.2 645.4 99.1 641.3 93.1 640.6" fill="#eaff33"/>
<polygon points="99.1 641.3 105 642 111 638.2 105 637.4" fill="#fffc33"/>
<polygon points="111 638.2 117 639.2 122.9 635.7 116.9 634.6" fill="#fff733"/>
<polygon points="122.9 635.7 128.9 636.9 134.9 633.6 128.9 632.3" fill="#fff433"/>
<polygon points="134.9 633.6 140.9 635 146.9 632.1 140.9 630.6" fill="#ffec33"/>
<polygon points="146.9 632.1 152.9 633.7 158.9 631 152.9 629.3" fill="#ffd533"/>
<polygon points="158.9 631 164.9 632.9 170.9 630.5 164.9 628.5" fill="#ffc733"/>
<polygon points="170.9 630.5 177 632.6 183 630.4 176.9 628.3" fill="#ffc233"/>
<polygon points="183 630.4 189 632.8 195 630.9 189 628.5" fill="#ffc533"/>
<polygon points="195 630.9 201 633.5 207 631.9 201 629.3" fill="#ffd233"/>
<polygon points="207 631.9 213 634.7 219 633.4 213 630.5" fill="#ffe733"/>
<polygon points="219 633.4 225 636.4 231 635.4 225 632.3" fill="#fff333"/>
<polygon points="231 635.4 237 638.7 243 637.9 237 634.5" fill="#fff733"/>
<polygon points="243 637.9 248.9 641.4 254.9 640.9 248.9 637.3" fill="#fffb33"/>
<polygon points="254.9 640.9 260.8 644.6 266.7 644.4 260.8 640.5" fill="#f6ff33"/>
<polygon points="266.7 644.4 272.6 648.4 278.5 648.4 272.6 644.3" fill="#b2ff33"/>
<polygon points="93.2 645.4 99.1 646.1 105 642 99.1 641.3" fill="#ffff33"/>
<polygon points="105 642 111 643 117 639.2 111 638.2" fill="#fffa33"/>
<polygon points="117 639.2 122.9 640.3 128.9 636.9 122.9 635.7" fill="#fff633"/>
<polygon points="128.9 636.9 134.9 638.2 140.9 635 134.9 633.6" fill="#fff333"/>
<polygon points="140.9 635 146.9 636.6 152.9 633.7 146.9 632.1" fill="#ffe833"/>
<polygon points="152.9 633.7 158.9 635.5 164.9 632.9 158.9 631" fill="#ffd533"/>
<polygon points="164.9 632.9 171 634.9 177 632.6 170.9 630.5" fill="#ffcb33"/>
<polygon points="177 632.6 183 634.8 189 632.8 183 630.4" fill="#ffc933"/>
<polygon points="189 632.8 195 635.3 201 633.5 195 630.9" fill="#ffd133"/>
<polygon points="201 633.5 207 636.2 213 634.7 207 631.9" fill="#ffe233"/>
<polygon points="213 634.7 219 637.7 225 636.4 219 633.4" fill="#fff233"/>
<polygon points="225 636.4 231 639.6 237 638.7 231 635.4" fill="#fff533"/>
<polygon points="237 638.7 243 642.1 248.9 641.4 243 637.9" fill="#fff933"/>
<polygon points="248.9 641.4 254.9 645.1 260.8 644.6 254.9 640.9" fill="#fffe33"/>
<polygon points="260.8 644.6 266.7 648.6 272.6 648.4 266.7 644.4" fill="#d1ff33"/>
<polygon points="99.1 646.1 105.1 647 111 643 105 642" fill="#fffd33"/>
<polygon points="111 643 117 644 122.9 640.3 117 639.2" fill="#fff933"/>
<polygon points="122.9 640.3 128.9 641.6 134.9 638.2 128.9 636.9" fill="#fff533"/>
<polygon points="134.9 638.2 140.9 639.7 146.9 636.6 140.9 635" fill="#fff233"/>
<polygon points="146.9 636.6 152.9 638.3 158.9 635.5 152.9 633.7" fill="#ffe633"/>
<polygon points="158.9 635.5 164.9 637.4 171 634.9 164.9 632.9" fill="#ffd733"/>
<polygon points="171 634.9 177 637.1 183 634.8 177 632.6" fill="#ffd133"/>
<polygon points="183 634.8 189 637.2 195 635.3 189 632.8" fill="#ffd433"/>
<polygon points="195 635.3 201 637.9 207 636.2 201 633.5" fill="#ffdf33"/>
<polygon points="207 636.2 213 639.1 219 637.7 213 634.7" fill="#fff233"/>
<polygon points="219 637.7 225 640.8 231 639.6 225 636.4" fill="#fff433"/>
<polygon points="231 639.6 237 643 243 642.1 237 638.7" fill="#fff833"/>
<polygon points="243 642.1 248.9 645.7 254.9 645.1 248.9 641.4" fill="#fffc33"/>
<polygon points="254.9 645.1 260.8 648.9 266.7 648.6 260.8 644.6" fill="#ecff33"/>
<polygon points="105.1 647 111.1 648 117 644 111 643" fill="#fffc33"/>
<polygon points="117 644 123 645.3 128.9 641.6 122.9 640.3" fill="#fff833"/>
<polygon points="128.9 641.6 135 643.1 140.9 639.7 134.9 638.2" fill="#fff533"/>
<polygon points="140.9 639.7 146.9 641.4 152.9 638.3 146.9 636.6" fill="#fff233"/>
<polygon points="152.9 638.3 158.9 640.2 164.9 637.4 158.9 635.5" fill="#ffe633"/>
<polygon points="164.9 637.4 171 639.6 177 637.1 171 634.9" fill="#ffdb33"/>
<polygon points="177 637.1 183 639.4 189 637.2 183 634.8" fill="#ffd933"/>
<polygon points="189 637.2 195 639.8 201 637.9 195 635.3" fill="#ffe033"/>
<polygon points="201 637.9 207 640.7 213 639.1 207 636.2" fill="#fff033"/>
<polygon points="213 639.1 219 642.2 225 640.8 219 637.7" fill="#fff333"/>
<polygon points="225 640.8 231 644.1 237 643 231 639.6" fill="#fff633"/>
<polygon points="237 643 242.9 646.6 248.9 645.7 243 642.1" fill="#fffa33"/>
<polygon points="248.9 645.7 254.8 649.5 260.8 648.9 254.9 645.1" fill="#ffff33"/>
<polygon points="111.1 648 117 649.1 123 645.3 117 644" fill="#fffb33"/>
<polygon points="123 645.3 129 646.6 135 643.1 128.9 641.6" fill="#fff733"/>
<polygon points="135 643.1 141 644.7 146.9 641.4 140.9 639.7" fill="#fff433"/>
<polygon points="146.9 641.4 153 643.2 158.9 640.2 152.9 638.3" fill="#fff233"/>
<polygon points="158.9 640.2 165 642.3 171 639.6 164.9 637.4" fill="#ffea33"/>
<polygon points="171 639.6 177 641.9 183 639.4 177 637.1" fill="#ffe333"/>
<polygon points="183 639.4 189 642 195 639.8 189 637.2" fill="#ffe533"/>
<polygon points="195 639.8 201 642.6 207 640.7 201 637.9" fill="#fff033"/>
<polygon points="207 640.7 213 643.7 219 642.2 213 639.1" fill="#fff333"/>
<polygon points="219 642.2 225 645.4 231 644.1 225 640.8" fill="#fff533"/>
<polygon points="231 644.1 237 647.6 242.9 646.6 237 643" fill="#fff933"/>
<polygon points="242.9 646.6 248.9 650.3 254.8 649.5 248.9 645.7" fill="#fffd33"/>
<polygon points="117 649.1 123 650.5 129 646.6 123 645.3" fill="#fffa33"/>
<polygon points="129 646.6 135 648.2 141 644.7 135 643.1" fill="#fff733"/>
<polygon points="141 644.7 147 646.4 153 643.2 146.9 641.4" fill="#fff433"/>
<polygon points="153 643.2 159 645.2 165 642.3 158.9 640.2" fill="#fff233"/>
<polygon points="165 642.3 171 644.5 177 641.9 171 639.6" fill="#ffef33"/>
<polygon points="177 641.9 183 644.3 189 642 183 639.4" fill="#ffec33"/>
<polygon points="189 642 195 644.7 201 642.6 195 639.8" fill="#fff233"/>
<polygon points="201 642.6 207 645.5 213 643.7 207 640.7" fill="#fff333"/>
<polygon points="213 643.7 219 646.9 225 645.4 219 642.2" fill="#fff533"/>
<polygon points="225 645.4 231 648.8 237 647.6 231 644.1" fill="#fff833"/>
<polygon points="237 647.6 242.9 651.3 248.9 650.3 242.9 646.6" fill="#fffb33"/>
<polygon points="123 650.5 129 651.9 135 648.2 129 646.6" fill="#fff933"/>
<polygon points="135 648.2 141 649.9 147 646.4 141 644.7" fill="#fff633"/>
<polygon points="147 646.4 153 648.4 159 645.2 153 643.2" fill="#fff433"/>
<polygon points="159 645.2 165 647.4 171 644.5 165 642.3" fill="#fff333"/>
<polygon points="171 644.5 177 646.9 183 644.3 177 641.9" fill="#fff233"/>
<polygon points="183 644.3 189 646.9 195 644.7 189 642" fill="#fff233"/>
<polygon points="195 644.7 201 647.5 207 645.5 201 642.6" fill="#fff333"/>
<polygon points="207 645.5 213 648.6 219 646.9 213 643.7" fill="#fff533"/>
<polygon points="219 646.9 225 650.3 231 648.8 225 645.4" fill="#fff733"/>
<polygon points="231 648.8 237 652.4 242.9 651.3 237 647.6" fill="#fffa33"/>
<polygon points="129 651.9 135 653.6 141 649.9 135 648.2" fill="#fff933"/>
<polygon points="141 649.9 147 651.7 153 648.4 147 646.4" fill="#fff633"/>
<polygon points="153 648.4 159 650.4 165 647.4 159 645.2" fill="#fff433"/>
<polygon points="165 647.4 171 649.7 177 646.9 171 644.5" fill="#fff333"/>
<polygon points="177 646.9 183 649.4 189 646.9 183 644.3" fill="#fff333"/>
<polygon points="189 646.9 195 649.7 201 647.5 195 644.7" fill="#fff333"/>
<polygon points="201 647.5 207 650.6 213 648.6 207 645.5" fill="#fff533"/>
<polygon points="213 648.6 219 651.9 225 650.3 219 646.9" fill="#fff733"/>
<polygon points="225 650.3 231 653.8 237 652.4 231 648.8" fill="#fff933"/>
<polygon points="135 653.6 141 655.4 147 651.7 141 649.9" fill="#fff933"/>
<polygon points="147 651.7 153 653.8 159 650.4 153 648.4" fill="#fff633"/>
<polygon points="159 650.4 165 652.7 171 649.7 165 647.4" fill="#fff533"/>
<polygon points="171 649.7 177 652.2 183 649.4 177 646.9" fill="#fff433"/>
<polygon points="183 649.4 189 652.2 195 649.7 189 646.9" fill="#fff433"/>
<polygon points="195 649.7 201 652.7 207 650.6 201 647.5" fill="#fff533"/>
<polygon points="207 650.6 213 653.8 219 651.9 213 648.6" fill="#fff633"/>
<polygon points="219 651.9 225 655.4 231 653.8 225 650.3" fill="#fff933"/>
<polygon points="141 655.4 147.1 657.3 153 653.8 147 651.7" fill="#fff933"/>
<polygon points="153 653.8 159 656 165 652.7 159 650.4" fill="#fff733"/>
<polygon points="165 652.7 171 655.1 177 652.2 171 649.7" fill="#fff533"/>
<polygon points="177 652.2 183 654.8 189 652.2 183 649.4" fill="#fff533"/>
<polygon points="189 652.2 195.1 655.1 201 652.7 195 649.7" fill="#fff533"/>
<polygon points="201 652.7 207 655.9 213 653.8 207 650.6" fill="#fff733"/>
<polygon points="213 653.8 219 657.2 225 655.4 219 651.9" fill="#fff933"/>
<polygon points="147.1 657.3 153.1 659.4 159 656 153 653.8" fill="#fff933"/>
<polygon points="159 656 165.1 658.3 171 655.1 165 652.7" fill="#fff733"/>
<polygon points="171 655.1 177.1 657.7 183 654.8 177 652.2" fill="#fff633"/>
<polygon points="183 654.8 189.1 657.7 195.1 655.1 189 652.2" fill="#fff633"/>
<polygon points="195.1 655.1 201.1 658.2 207 655.9 201 652.7" fill="#fff733"/>
<polygon points="207 655.9 213 659.2 219 657.2 213 653.8" fill="#fff933"/>
<polygon points="153.1 659.4 159.1 661.7 165.1 658.3 159 656" fill="#fff933"/>
<polygon points="165.1 658.3 171.1 660.8 177.1 657.7 171 655.1" fill="#fff833"/>
<polygon points="177.1 657.7 183.1 660.5 189.1 657.7 183 654.8" fill="#fff833"/>
<polygon points="189.1 657.7 195.1 660.7 201.1 658.2 195.1 655.1" fill="#fff833"/>
<polygon points="201.1 658.2 207 661.4 213 659.2 207 655.9" fill="#fff933"/>
<polygon points="159.1 661.7 165.1 664.2 171.1 660.8 165.1 658.3" fill="#fffa33"/>
<polygon points="171.1 660.8 177.1 663.6 183.1 660.5 177.1 657.7" fill="#fff933"/>
<polygon points="183.1 660.5 189.1 663.5 195.1 660.7 189.1 657.7" fill="#fff933"/>
<polygon points="195.1 660.7 201.1 663.9 207 661.4 201.1 658.2" fill="#fffa33"/>
<polygon points="165.1 664.2 171.1 666.9 177.1 663.6 171.1 660.8" fill="#fffb33"/>
<polygon points="177.1 663.6 183.1 666.5 189.1 663.5 183.1 660.5" fill="#fffa33"/>
<polygon points="189.1 663.5 195.1 666.6 201.1 663.9 195.1 660.7" fill="#fffa33"/>
<polygon points="171.1 666.9 177.1 669.7 183.1 666.5 177.1 663.6" fill="#fffc33"/>
<polygon points="183.1 666.5 189.1 669.5 195.1 666.6 189.1 663.5" fill="#fffc33"/>
<polygon points="177.1 669.7 183.1 672.7 189.1 669.5 183.1 666.5" fill="#fffd33"/>
</g>
<text x="1.5" y="26.9" font-family="Liberation Sans, sans-serif" font-size="17.6" font-weight="bold" fill="#111">A</text>
<text transform="translate(1.1 278.8) scale(0.93 1)" font-family="Liberation Serif, serif" font-size="21.5" font-weight="bold" fill="#111">B</text>
<text transform="translate(0.6 569.2) scale(0.93 1)" font-family="Liberation Serif, serif" font-size="21.7" font-weight="bold" fill="#111">C</text>
<text x="369.5" y="22.2" font-family="Liberation Sans, sans-serif" font-size="19" font-weight="bold" fill="#111">A<tspan font-size="11.5" dy="3.5">1</tspan></text>
<text transform="translate(367.6 275.8) scale(0.93 1)" font-family="Liberation Serif, serif" font-size="21.5" font-weight="bold" fill="#111">B<tspan font-size="15" dy="4.5">1</tspan></text>
<text transform="translate(368.8 557.5) scale(0.95 1)" font-family="Liberation Serif, serif" font-size="21.7" font-weight="bold" fill="#111">C<tspan font-size="15" dy="4.3">1</tspan></text>
</svg>
</body></html>
